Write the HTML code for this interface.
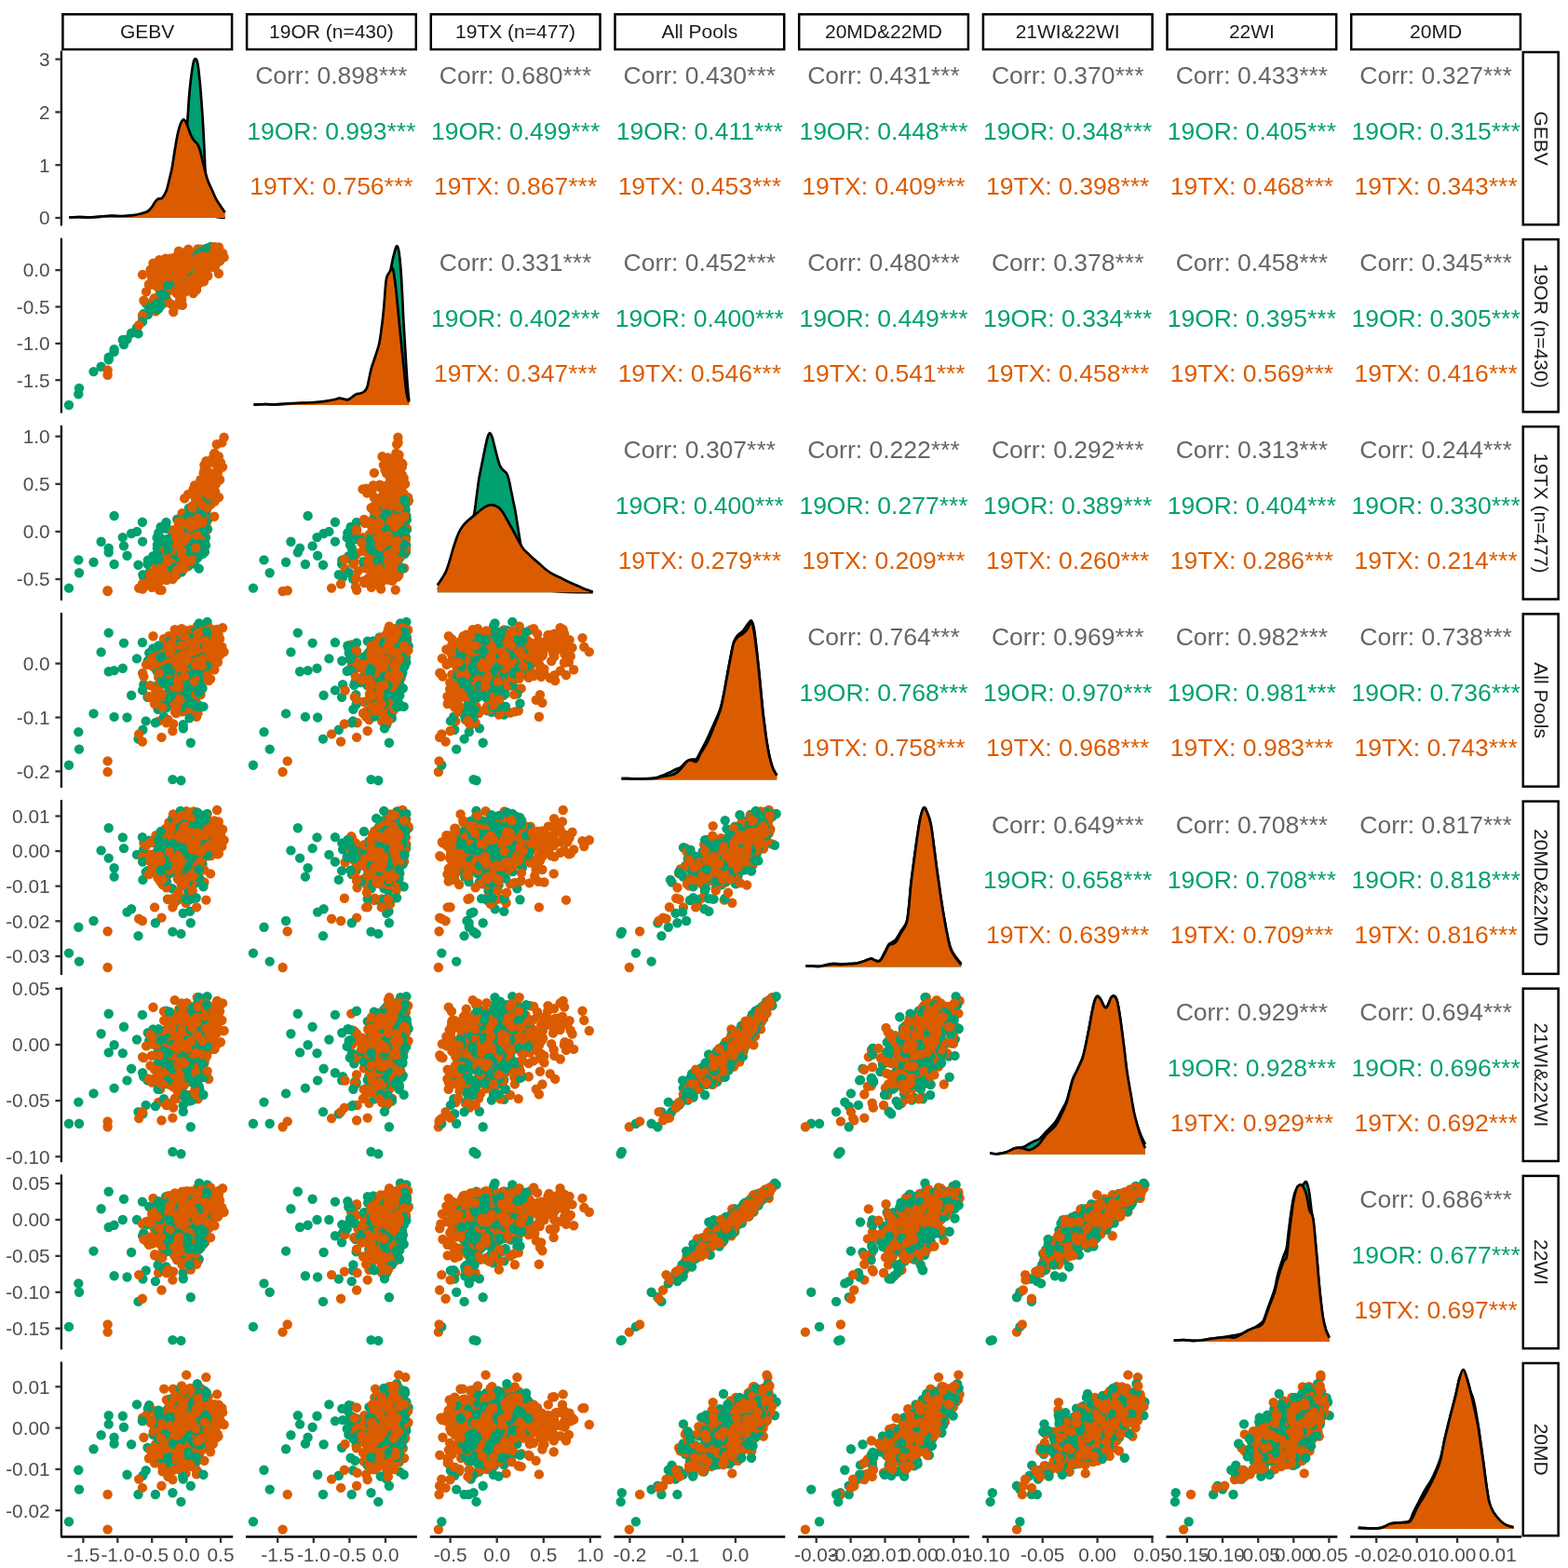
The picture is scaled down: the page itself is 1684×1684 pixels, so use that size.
<!DOCTYPE html><html><head><meta charset="utf-8"><title>ggpairs</title><style>html,body{margin:0;padding:0;background:#fff;}svg{display:block;}text{font-family:"Liberation Sans",Arial,Helvetica,sans-serif;}</style></head><body>
<svg width="1684" height="1684" viewBox="0 0 1684 1684">
<rect width="1684" height="1684" fill="#fff"/>
<g fill="none" stroke="#000" stroke-width="2.5">
<rect x="67.4" y="15.35" width="181.7" height="37.7"/>
<rect x="265.1" y="15.35" width="181.7" height="37.7"/>
<rect x="462.8" y="15.35" width="181.7" height="37.7"/>
<rect x="660.5" y="15.35" width="181.7" height="37.7"/>
<rect x="858.2" y="15.35" width="181.7" height="37.7"/>
<rect x="1055.9" y="15.35" width="181.7" height="37.7"/>
<rect x="1253.5" y="15.35" width="181.7" height="37.7"/>
<rect x="1451.2" y="15.35" width="181.7" height="37.7"/>
<rect x="1635.75" y="56" width="37.9" height="185.3"/>
<rect x="1635.75" y="257.1" width="37.9" height="185.3"/>
<rect x="1635.75" y="458.2" width="37.9" height="185.3"/>
<rect x="1635.75" y="659.4" width="37.9" height="185.3"/>
<rect x="1635.75" y="860.6" width="37.9" height="185.3"/>
<rect x="1635.75" y="1061.7" width="37.9" height="185.3"/>
<rect x="1635.75" y="1262.9" width="37.9" height="185.3"/>
<rect x="1635.75" y="1464" width="37.9" height="185.3"/>
</g>
<g font-size="21" fill="#1A1A1A" text-anchor="middle">
<text x="158.2" y="41.4">GEBV</text>
<text x="355.9" y="41.4">19OR (n=430)</text>
<text x="553.6" y="41.4">19TX (n=477)</text>
<text x="751.3" y="41.4">All Pools</text>
<text x="949" y="41.4">20MD&amp;22MD</text>
<text x="1146.7" y="41.4">21WI&amp;22WI</text>
<text x="1344.4" y="41.4">22WI</text>
<text x="1542.1" y="41.4">20MD</text>
<text transform="translate(1647.9 148.6) rotate(90)">GEBV</text>
<text transform="translate(1647.9 349.8) rotate(90)">19OR (n=430)</text>
<text transform="translate(1647.9 550.9) rotate(90)">19TX (n=477)</text>
<text transform="translate(1647.9 752.1) rotate(90)">All Pools</text>
<text transform="translate(1647.9 953.2) rotate(90)">20MD&amp;22MD</text>
<text transform="translate(1647.9 1154.4) rotate(90)">21WI&amp;22WI</text>
<text transform="translate(1647.9 1355.5) rotate(90)">22WI</text>
<text transform="translate(1647.9 1556.7) rotate(90)">20MD</text>
</g>
<path d="M74.3 233.5C76.1 233.4 81.5 233 85 233C88.5 233 91.9 233.4 95.6 233.4C99.3 233.4 103 233 107 232.8C111 232.6 115.4 232.2 119.4 232.2C123.4 232.1 127 232.5 131 232.5C134.9 232.5 139.8 232.2 143.1 232C146.4 231.8 148.4 231.4 151 231C153.6 230.6 156.6 230.2 158.6 229.5C160.6 228.8 161.6 227.9 163 227C164.4 226.1 165.7 225 166.9 224C168.2 223 169.3 222 170.5 221C171.7 220 172.4 219.7 174 218C175.6 216.3 178 213.8 180 211C182 208.2 184 205.2 186 201C188 196.8 190.2 191.5 192 186C193.8 180.5 195.2 174 196.5 168C197.8 162 198.7 156.2 199.5 150C200.3 143.8 200.7 138.3 201.3 130.8C201.9 123.3 202.4 112.5 203 105C203.6 97.5 204.2 91.8 204.9 85.6C205.7 79.4 206.7 71.8 207.5 68C208.3 64.2 209.1 63.1 209.9 63.1C210.7 63.1 211.6 64.2 212.3 68C213.1 71.8 213.7 78.9 214.4 85.6C215.1 92.3 215.7 100.1 216.3 108C216.9 115.9 217.5 124.8 218 133.1C218.5 141.4 218.9 150.1 219.3 158C219.7 165.9 219.9 173.6 220.3 180.6C220.8 187.6 221.4 194.3 222 200C222.6 205.7 223.2 210.5 224 215C224.8 219.5 225.8 224.1 227 227C228.2 229.9 229.5 231.4 231 232.5C232.5 233.6 234.2 233.3 236 233.5C237.8 233.7 240.8 233.8 241.7 233.9L241.7 234L74.3 234Z" fill="#00A070"/>
<path d="M74.3 233.5C76.1 233.4 81.5 233 85 233C88.5 233 91.9 233.4 95.6 233.4C99.3 233.4 103 233 107 232.8C111 232.6 115.4 232.2 119.4 232.2C123.4 232.1 127 232.5 131 232.5C134.9 232.5 139.8 232.2 143.1 232C146.4 231.8 148.4 231.4 151 231C153.6 230.6 156.6 230.2 158.6 229.5C160.6 228.8 161.6 227.9 163 227C164.4 226.1 165.7 225 166.9 224C168.2 223 169.3 222 170.5 221C171.7 220 172.4 219.7 174 218C175.6 216.3 178 213.8 180 211C182 208.2 184 205.2 186 201C188 196.8 190.2 191.5 192 186C193.8 180.5 195.2 174 196.5 168C197.8 162 198.7 156.2 199.5 150C200.3 143.8 200.7 138.3 201.3 130.8C201.9 123.3 202.4 112.5 203 105C203.6 97.5 204.2 91.8 204.9 85.6C205.7 79.4 206.7 71.8 207.5 68C208.3 64.2 209.1 63.1 209.9 63.1C210.7 63.1 211.6 64.2 212.3 68C213.1 71.8 213.7 78.9 214.4 85.6C215.1 92.3 215.7 100.1 216.3 108C216.9 115.9 217.5 124.8 218 133.1C218.5 141.4 218.9 150.1 219.3 158C219.7 165.9 219.9 173.6 220.3 180.6C220.8 187.6 221.4 194.3 222 200C222.6 205.7 223.2 210.5 224 215C224.8 219.5 225.8 224.1 227 227C228.2 229.9 229.5 231.4 231 232.5C232.5 233.6 234.2 233.3 236 233.5C237.8 233.7 240.8 233.8 241.7 233.9" fill="none" stroke="#000" stroke-width="2.7" stroke-linejoin="round"/>
<path d="M74.3 233.5C76.1 233.4 81.5 233.2 85 233.2C88.5 233.2 91.9 233.6 95.6 233.5C99.3 233.4 103 232.9 107 232.6C111 232.3 115.4 231.8 119.4 231.7C123.4 231.6 127 232.1 131 232C134.9 231.9 139.8 231.5 143.1 231.1C146.4 230.7 148.4 230.2 151 229.5C153.6 228.8 156.6 228.2 158.6 227C160.6 225.8 161.6 224.3 163 222.5C164.4 220.7 165.7 217.8 166.9 216.3C168.1 214.8 168.8 214.1 170 213.5C171.2 212.9 172.5 214.2 174 212.7C175.5 211.2 177.5 207.7 178.8 204.4C180.1 201.1 180.8 197 181.8 193C182.8 189 183.7 185.8 184.7 180.6C185.7 175.4 186.6 167.9 187.6 162C188.6 156.1 189.6 149.7 190.6 145C191.6 140.3 192.4 136.8 193.5 134C194.6 131.2 196 128.6 197.2 128.4C198.4 128.2 199.2 130.2 200.5 133C201.8 135.8 203.6 142 204.9 145C206.2 148 207.3 149.4 208.5 151C209.7 152.6 210.9 152.7 212 154.5C213.1 156.3 214 158.6 215 162C216 165.4 216.7 169.6 218 174.7C219.3 179.8 221.1 187.7 222.7 192.5C224.3 197.3 225.9 199.9 227.5 203.5C229.1 207.1 230.6 210.9 232.2 213.9C233.8 216.9 235.4 219.1 237 221.5C238.6 223.9 240.9 227 241.7 228.1L241.7 234L74.3 234Z" fill="#DB5C00"/>
<path d="M74.3 233.5C76.1 233.4 81.5 233.2 85 233.2C88.5 233.2 91.9 233.6 95.6 233.5C99.3 233.4 103 232.9 107 232.6C111 232.3 115.4 231.8 119.4 231.7C123.4 231.6 127 232.1 131 232C134.9 231.9 139.8 231.5 143.1 231.1C146.4 230.7 148.4 230.2 151 229.5C153.6 228.8 156.6 228.2 158.6 227C160.6 225.8 161.6 224.3 163 222.5C164.4 220.7 165.7 217.8 166.9 216.3C168.1 214.8 168.8 214.1 170 213.5C171.2 212.9 172.5 214.2 174 212.7C175.5 211.2 177.5 207.7 178.8 204.4C180.1 201.1 180.8 197 181.8 193C182.8 189 183.7 185.8 184.7 180.6C185.7 175.4 186.6 167.9 187.6 162C188.6 156.1 189.6 149.7 190.6 145C191.6 140.3 192.4 136.8 193.5 134C194.6 131.2 196 128.6 197.2 128.4C198.4 128.2 199.2 130.2 200.5 133C201.8 135.8 203.6 142 204.9 145C206.2 148 207.3 149.4 208.5 151C209.7 152.6 210.9 152.7 212 154.5C213.1 156.3 214 158.6 215 162C216 165.4 216.7 169.6 218 174.7C219.3 179.8 221.1 187.7 222.7 192.5C224.3 197.3 225.9 199.9 227.5 203.5C229.1 207.1 230.6 210.9 232.2 213.9C233.8 216.9 235.4 219.1 237 221.5C238.6 223.9 240.9 227 241.7 228.1" fill="none" stroke="#000" stroke-width="2.7" stroke-linejoin="round"/>
<path d="M272.5 434.7C274.4 434.6 280.1 434 284 434C287.9 434 291.8 434.5 295.6 434.5C299.4 434.5 303 434 307 433.8C311 433.6 315.4 433.4 319.4 433.3C323.4 433.2 327.1 433.1 331 433C334.9 432.9 339.8 432.6 343.1 432.4C346.4 432.1 348.4 431.8 351 431.5C353.6 431.2 356.1 430.8 358.6 430.5C361.1 430.2 363.4 429.8 366 429.5C368.6 429.2 371.3 429.5 374 429C376.7 428.5 379.5 427.2 382.3 426.5C385.1 425.8 388.3 425.6 390.6 424.5C392.9 423.4 394.3 422.4 396 420C397.7 417.6 399.3 414.2 401 410C402.7 405.8 404.5 400.8 406 395C407.5 389.2 408.7 384.2 410 375C411.3 365.8 412.7 352.5 414 340C415.3 327.5 416.8 310 418 300C419.2 290 420.5 285 421.5 280C422.5 275 423.2 272.8 423.9 270.2C424.6 267.6 425.2 264.7 425.9 264.3C426.6 263.9 427.4 265.4 428 268C428.6 270.6 429.1 275.1 429.6 280C430.1 284.9 430.6 290.8 431 297.5C431.4 304.2 431.8 312.1 432.2 320C432.6 327.9 432.9 335.8 433.4 345C433.9 354.2 434.6 365.1 435.2 375C435.8 384.9 436.5 396.9 437 404.4C437.5 411.9 437.8 415.6 438.2 420C438.6 424.4 439.1 428.8 439.3 430.5L439.3 435.1L272.5 435.1Z" fill="#00A070"/>
<path d="M272.5 434.7C274.4 434.6 280.1 434 284 434C287.9 434 291.8 434.5 295.6 434.5C299.4 434.5 303 434 307 433.8C311 433.6 315.4 433.4 319.4 433.3C323.4 433.2 327.1 433.1 331 433C334.9 432.9 339.8 432.6 343.1 432.4C346.4 432.1 348.4 431.8 351 431.5C353.6 431.2 356.1 430.8 358.6 430.5C361.1 430.2 363.4 429.8 366 429.5C368.6 429.2 371.3 429.5 374 429C376.7 428.5 379.5 427.2 382.3 426.5C385.1 425.8 388.3 425.6 390.6 424.5C392.9 423.4 394.3 422.4 396 420C397.7 417.6 399.3 414.2 401 410C402.7 405.8 404.5 400.8 406 395C407.5 389.2 408.7 384.2 410 375C411.3 365.8 412.7 352.5 414 340C415.3 327.5 416.8 310 418 300C419.2 290 420.5 285 421.5 280C422.5 275 423.2 272.8 423.9 270.2C424.6 267.6 425.2 264.7 425.9 264.3C426.6 263.9 427.4 265.4 428 268C428.6 270.6 429.1 275.1 429.6 280C430.1 284.9 430.6 290.8 431 297.5C431.4 304.2 431.8 312.1 432.2 320C432.6 327.9 432.9 335.8 433.4 345C433.9 354.2 434.6 365.1 435.2 375C435.8 384.9 436.5 396.9 437 404.4C437.5 411.9 437.8 415.6 438.2 420C438.6 424.4 439.1 428.8 439.3 430.5" fill="none" stroke="#000" stroke-width="2.7" stroke-linejoin="round"/>
<path d="M272.5 434.7C274.4 434.6 280.1 434.2 284 434.2C287.9 434.1 291.8 434.5 295.6 434.4C299.4 434.3 303 433.8 307 433.5C311 433.2 315.4 433.1 319.4 432.9C323.4 432.7 327.1 432.7 331 432.5C334.9 432.3 339.8 432 343.1 431.7C346.4 431.4 348.4 431 351 430.6C353.6 430.2 356.4 429.8 358.6 429.3C360.9 428.8 362.8 427.7 364.5 427.6C366.2 427.5 367.4 428.2 369 428.5C370.6 428.8 372.5 429.6 374 429.3C375.5 429 376.6 427.5 378 426.5C379.4 425.5 380.9 424.1 382.3 423.4C383.7 422.7 385.1 422.9 386.5 422.5C387.9 422.1 389.3 422 390.6 421C391.9 420 393.2 418.8 394.2 416.3C395.2 413.8 395.7 409.6 396.5 406C397.3 402.4 397.9 398.7 399 394.9C400.1 391.1 401.6 387.4 403 383C404.4 378.6 406.2 374 407.3 368.8C408.4 363.6 409 357.9 409.8 352C410.6 346.1 411.2 341.2 412 333.1C412.8 325 413.7 309.6 414.4 303.4C415.1 297.2 415.4 297.8 416 296C416.6 294.2 417.1 294.1 418 292.8C418.9 291.5 420.6 287.5 421.5 288C422.4 288.5 422.7 292.4 423.3 296C423.9 299.6 424.5 304.4 425.1 309.4C425.7 314.4 426.2 320.1 426.8 326C427.4 331.9 428 338.8 428.6 345C429.2 351.2 429.8 357.1 430.4 363C431 368.9 431.6 374.8 432.2 380.6C432.8 386.4 433.4 392.1 434 398C434.6 403.9 435.2 411.6 435.8 416.3C436.4 421.1 436.9 423.9 437.5 426.5C438.1 429.1 439 430.8 439.3 431.7L439.3 435.1L272.5 435.1Z" fill="#DB5C00"/>
<path d="M272.5 434.7C274.4 434.6 280.1 434.2 284 434.2C287.9 434.1 291.8 434.5 295.6 434.4C299.4 434.3 303 433.8 307 433.5C311 433.2 315.4 433.1 319.4 432.9C323.4 432.7 327.1 432.7 331 432.5C334.9 432.3 339.8 432 343.1 431.7C346.4 431.4 348.4 431 351 430.6C353.6 430.2 356.4 429.8 358.6 429.3C360.9 428.8 362.8 427.7 364.5 427.6C366.2 427.5 367.4 428.2 369 428.5C370.6 428.8 372.5 429.6 374 429.3C375.5 429 376.6 427.5 378 426.5C379.4 425.5 380.9 424.1 382.3 423.4C383.7 422.7 385.1 422.9 386.5 422.5C387.9 422.1 389.3 422 390.6 421C391.9 420 393.2 418.8 394.2 416.3C395.2 413.8 395.7 409.6 396.5 406C397.3 402.4 397.9 398.7 399 394.9C400.1 391.1 401.6 387.4 403 383C404.4 378.6 406.2 374 407.3 368.8C408.4 363.6 409 357.9 409.8 352C410.6 346.1 411.2 341.2 412 333.1C412.8 325 413.7 309.6 414.4 303.4C415.1 297.2 415.4 297.8 416 296C416.6 294.2 417.1 294.1 418 292.8C418.9 291.5 420.6 287.5 421.5 288C422.4 288.5 422.7 292.4 423.3 296C423.9 299.6 424.5 304.4 425.1 309.4C425.7 314.4 426.2 320.1 426.8 326C427.4 331.9 428 338.8 428.6 345C429.2 351.2 429.8 357.1 430.4 363C431 368.9 431.6 374.8 432.2 380.6C432.8 386.4 433.4 392.1 434 398C434.6 403.9 435.2 411.6 435.8 416.3C436.4 421.1 436.9 423.9 437.5 426.5C438.1 429.1 439 430.8 439.3 431.7" fill="none" stroke="#000" stroke-width="2.7" stroke-linejoin="round"/>
<path d="M469.8 633C470.6 632.7 473 631.8 474.5 631C476 630.2 477.2 629.5 478.8 628C480.4 626.5 482.1 624.3 484 622C485.9 619.7 488.2 617.2 490 614C491.8 610.8 493.3 607.3 495 603C496.7 598.7 498.5 593.2 500 588C501.5 582.8 502.8 576.7 504 572C505.2 567.3 506.1 563.7 507 560C507.9 556.3 508.8 554.7 509.6 550C510.4 545.3 511.2 537.9 512 532C512.8 526.1 513.4 520.4 514.4 514.4C515.4 508.4 516.8 501.9 518 496C519.2 490.1 520.5 483.3 521.5 478.8C522.5 474.3 523 471.3 523.8 469C524.5 466.7 525.2 465.1 526 465.1C526.8 465.1 527.6 466.7 528.4 469C529.2 471.3 530.1 475.3 531 478.8C531.9 482.3 532.8 486.4 533.8 490C534.8 493.6 535.8 497.6 536.9 500.1C538 502.6 539.3 503.6 540.5 505C541.7 506.4 543.1 506.7 544.1 508.4C545.1 510.1 545.7 512 546.5 515C547.3 518 548 522.5 548.8 526.3C549.6 530.1 550.4 534 551.2 538C552 542 552.8 545.5 553.6 550C554.4 554.5 555.2 560 556 565C556.8 570 557.5 574.7 558.3 579.7C559.1 584.7 559.9 590 561 595C562.1 600 563.5 605.7 565 610C566.5 614.3 568.2 618 570 621C571.8 624 573.7 626.1 576 628C578.3 629.9 580.8 631.3 584 632.5C587.2 633.7 590.7 634.4 595 635C599.3 635.6 603 635.8 610 636C617 636.2 632.2 636.2 636.7 636.2L636.7 636.3L469.8 636.3Z" fill="#00A070"/>
<path d="M469.8 633C470.6 632.7 473 631.8 474.5 631C476 630.2 477.2 629.5 478.8 628C480.4 626.5 482.1 624.3 484 622C485.9 619.7 488.2 617.2 490 614C491.8 610.8 493.3 607.3 495 603C496.7 598.7 498.5 593.2 500 588C501.5 582.8 502.8 576.7 504 572C505.2 567.3 506.1 563.7 507 560C507.9 556.3 508.8 554.7 509.6 550C510.4 545.3 511.2 537.9 512 532C512.8 526.1 513.4 520.4 514.4 514.4C515.4 508.4 516.8 501.9 518 496C519.2 490.1 520.5 483.3 521.5 478.8C522.5 474.3 523 471.3 523.8 469C524.5 466.7 525.2 465.1 526 465.1C526.8 465.1 527.6 466.7 528.4 469C529.2 471.3 530.1 475.3 531 478.8C531.9 482.3 532.8 486.4 533.8 490C534.8 493.6 535.8 497.6 536.9 500.1C538 502.6 539.3 503.6 540.5 505C541.7 506.4 543.1 506.7 544.1 508.4C545.1 510.1 545.7 512 546.5 515C547.3 518 548 522.5 548.8 526.3C549.6 530.1 550.4 534 551.2 538C552 542 552.8 545.5 553.6 550C554.4 554.5 555.2 560 556 565C556.8 570 557.5 574.7 558.3 579.7C559.1 584.7 559.9 590 561 595C562.1 600 563.5 605.7 565 610C566.5 614.3 568.2 618 570 621C571.8 624 573.7 626.1 576 628C578.3 629.9 580.8 631.3 584 632.5C587.2 633.7 590.7 634.4 595 635C599.3 635.6 603 635.8 610 636C617 636.2 632.2 636.2 636.7 636.2" fill="none" stroke="#000" stroke-width="2.7" stroke-linejoin="round"/>
<path d="M469.8 628.4C470.6 627.2 473 623.9 474.5 621.5C476 619.1 477.5 617.1 478.8 614.1C480.1 611.1 481.3 607.2 482.5 603.5C483.7 599.8 484.9 594.9 485.9 591.6C486.9 588.4 487.5 586.4 488.3 584C489.1 581.6 489.7 579.5 490.6 577.3C491.5 575 492.5 572.5 493.5 570.5C494.5 568.5 495.4 567.1 496.6 565.5C497.8 563.9 499.1 562.4 500.5 561C501.9 559.6 503 558.7 504.9 557.1C506.8 555.5 510.1 552.8 512 551.2C513.9 549.6 514.9 548.7 516.5 547.5C518.1 546.3 520.1 544.9 521.5 544.1C522.9 543.3 523.8 542.9 525 542.6C526.2 542.3 527.4 542.2 528.6 542.3C529.8 542.4 530.8 542.7 532 543.2C533.2 543.7 534.4 544 535.8 545.3C537.2 546.6 538.9 548.6 540.5 551C542.1 553.4 543.4 556.1 545.3 559.5C547.2 562.9 549.8 567.5 552 571.5C554.2 575.5 556.5 580.2 558.3 583.3C560 586.4 560.9 588 562.5 590C564.1 592 566 593.4 567.8 595.1C569.6 596.9 571.5 598.7 573.5 600.5C575.5 602.3 577.7 604 579.7 605.8C581.7 607.5 583.5 609.4 585.5 611C587.5 612.6 589.6 614 591.6 615.3C593.6 616.5 595.5 617.5 597.5 618.5C599.5 619.5 601.1 620.1 603.5 621.3C605.9 622.5 609 624.1 612 625.5C615 626.9 618.5 628.4 621.3 629.6C624 630.8 625.9 631.8 628.5 632.8C631.1 633.8 635.3 635 636.7 635.5L636.7 636.3L469.8 636.3Z" fill="#DB5C00"/>
<path d="M469.8 628.4C470.6 627.2 473 623.9 474.5 621.5C476 619.1 477.5 617.1 478.8 614.1C480.1 611.1 481.3 607.2 482.5 603.5C483.7 599.8 484.9 594.9 485.9 591.6C486.9 588.4 487.5 586.4 488.3 584C489.1 581.6 489.7 579.5 490.6 577.3C491.5 575 492.5 572.5 493.5 570.5C494.5 568.5 495.4 567.1 496.6 565.5C497.8 563.9 499.1 562.4 500.5 561C501.9 559.6 503 558.7 504.9 557.1C506.8 555.5 510.1 552.8 512 551.2C513.9 549.6 514.9 548.7 516.5 547.5C518.1 546.3 520.1 544.9 521.5 544.1C522.9 543.3 523.8 542.9 525 542.6C526.2 542.3 527.4 542.2 528.6 542.3C529.8 542.4 530.8 542.7 532 543.2C533.2 543.7 534.4 544 535.8 545.3C537.2 546.6 538.9 548.6 540.5 551C542.1 553.4 543.4 556.1 545.3 559.5C547.2 562.9 549.8 567.5 552 571.5C554.2 575.5 556.5 580.2 558.3 583.3C560 586.4 560.9 588 562.5 590C564.1 592 566 593.4 567.8 595.1C569.6 596.9 571.5 598.7 573.5 600.5C575.5 602.3 577.7 604 579.7 605.8C581.7 607.5 583.5 609.4 585.5 611C587.5 612.6 589.6 614 591.6 615.3C593.6 616.5 595.5 617.5 597.5 618.5C599.5 619.5 601.1 620.1 603.5 621.3C605.9 622.5 609 624.1 612 625.5C615 626.9 618.5 628.4 621.3 629.6C624 630.8 625.9 631.8 628.5 632.8C631.1 633.8 635.3 635 636.7 635.5" fill="none" stroke="#000" stroke-width="2.7" stroke-linejoin="round"/>
<path d="M667.5 836.1C670.4 836.1 679.2 836.5 685 836.4C690.8 836.3 698.3 836.1 702.5 835.6C706.7 835.1 707.4 834.3 710 833.4C712.6 832.5 715.5 831.1 718 830C720.5 828.9 722.8 827.5 725 826.5C727.2 825.5 729 825.4 731 824C733 822.6 735.4 819.3 737 818C738.6 816.7 739.3 816.4 740.5 816C741.7 815.6 742.8 815.7 744 815.5C745.2 815.3 746.7 816.2 748 815C749.3 813.8 750.1 811.6 752 808C753.9 804.4 757.1 798.5 759.5 793.5C761.9 788.5 764.1 783.5 766.5 778C768.9 772.5 772 766.2 773.8 760.5C775.6 754.8 776.3 749.8 777.5 744C778.7 738.2 779.7 731.8 780.9 725.5C782.1 719.2 783.3 712 784.5 706C785.7 700 786.7 693.6 788 689.6C789.3 685.6 790.9 683.9 792.5 682C794.1 680.1 795.8 679.8 797.5 678C799.2 676.2 800.9 672.9 802.5 671C804.1 669.1 805.8 665.7 807 666.5C808.2 667.3 809 670.3 810 676C811 681.7 812 691.7 813 700.5C814 709.3 815 718.9 816 729C817 739.1 818.1 752.5 819 761C819.9 769.5 820.5 774 821.3 780C822.1 786 822.7 791.6 823.6 797C824.5 802.4 825.4 807.8 826.5 812.5C827.6 817.2 828.7 821.7 830 825C831.3 828.3 833.6 831.2 834.3 832.5L834.3 837.4L667.5 837.4Z" fill="#00A070"/>
<path d="M667.5 836.1C670.4 836.1 679.2 836.5 685 836.4C690.8 836.3 698.3 836.1 702.5 835.6C706.7 835.1 707.4 834.3 710 833.4C712.6 832.5 715.5 831.1 718 830C720.5 828.9 722.8 827.5 725 826.5C727.2 825.5 729 825.4 731 824C733 822.6 735.4 819.3 737 818C738.6 816.7 739.3 816.4 740.5 816C741.7 815.6 742.8 815.7 744 815.5C745.2 815.3 746.7 816.2 748 815C749.3 813.8 750.1 811.6 752 808C753.9 804.4 757.1 798.5 759.5 793.5C761.9 788.5 764.1 783.5 766.5 778C768.9 772.5 772 766.2 773.8 760.5C775.6 754.8 776.3 749.8 777.5 744C778.7 738.2 779.7 731.8 780.9 725.5C782.1 719.2 783.3 712 784.5 706C785.7 700 786.7 693.6 788 689.6C789.3 685.6 790.9 683.9 792.5 682C794.1 680.1 795.8 679.8 797.5 678C799.2 676.2 800.9 672.9 802.5 671C804.1 669.1 805.8 665.7 807 666.5C808.2 667.3 809 670.3 810 676C811 681.7 812 691.7 813 700.5C814 709.3 815 718.9 816 729C817 739.1 818.1 752.5 819 761C819.9 769.5 820.5 774 821.3 780C822.1 786 822.7 791.6 823.6 797C824.5 802.4 825.4 807.8 826.5 812.5C827.6 817.2 828.7 821.7 830 825C831.3 828.3 833.6 831.2 834.3 832.5" fill="none" stroke="#000" stroke-width="2.7" stroke-linejoin="round"/>
<path d="M667.5 836.1C670.4 836.1 679.2 836.4 685 836.4C690.8 836.4 698.3 836.4 702.5 836C706.7 835.6 707.4 834.7 710 834.2C712.6 833.7 715.5 833.5 718 833C720.5 832.5 722.8 832.2 725 831C727.2 829.8 729 828.1 731 826C733 823.9 735.4 820.1 737 818.5C738.6 816.9 739.3 816.8 740.5 816.5C741.7 816.2 742.8 816.8 744 817C745.2 817.2 746.7 819 748 817.8C749.3 816.6 750.1 813.4 752 810C753.9 806.6 757.1 802.3 759.5 797.5C761.9 792.7 764.1 786.9 766.5 781C768.9 775.1 772 767.9 773.8 761.9C775.6 755.9 776.3 750.9 777.5 745C778.7 739.1 779.7 732.6 780.9 726.3C782.1 720 783.3 713 784.5 707C785.7 701 786.7 694.4 788 690.6C789.3 686.8 790.9 685.6 792.5 684C794.1 682.4 795.8 682.3 797.5 681C799.2 679.7 800.9 678.2 802.5 676C804.1 673.8 805.8 667.3 807 668C808.2 668.7 809 674.2 810 680C811 685.8 812 694 813 702.5C814 711 815 721.1 816 731C817 740.9 818.1 753.7 819 762C819.9 770.3 820.5 775.1 821.3 781C822.1 786.9 822.7 792.2 823.6 797.5C824.5 802.8 825.4 808.4 826.5 813C827.6 817.6 828.7 821.7 830 825C831.3 828.3 833.6 831.7 834.3 833L834.3 837.4L667.5 837.4Z" fill="#DB5C00"/>
<path d="M667.5 836.1C670.4 836.1 679.2 836.4 685 836.4C690.8 836.4 698.3 836.4 702.5 836C706.7 835.6 707.4 834.7 710 834.2C712.6 833.7 715.5 833.5 718 833C720.5 832.5 722.8 832.2 725 831C727.2 829.8 729 828.1 731 826C733 823.9 735.4 820.1 737 818.5C738.6 816.9 739.3 816.8 740.5 816.5C741.7 816.2 742.8 816.8 744 817C745.2 817.2 746.7 819 748 817.8C749.3 816.6 750.1 813.4 752 810C753.9 806.6 757.1 802.3 759.5 797.5C761.9 792.7 764.1 786.9 766.5 781C768.9 775.1 772 767.9 773.8 761.9C775.6 755.9 776.3 750.9 777.5 745C778.7 739.1 779.7 732.6 780.9 726.3C782.1 720 783.3 713 784.5 707C785.7 701 786.7 694.4 788 690.6C789.3 686.8 790.9 685.6 792.5 684C794.1 682.4 795.8 682.3 797.5 681C799.2 679.7 800.9 678.2 802.5 676C804.1 673.8 805.8 667.3 807 668C808.2 668.7 809 674.2 810 680C811 685.8 812 694 813 702.5C814 711 815 721.1 816 731C817 740.9 818.1 753.7 819 762C819.9 770.3 820.5 775.1 821.3 781C822.1 786.9 822.7 792.2 823.6 797.5C824.5 802.8 825.4 808.4 826.5 813C827.6 817.6 828.7 821.7 830 825C831.3 828.3 833.6 831.7 834.3 833" fill="none" stroke="#000" stroke-width="2.7" stroke-linejoin="round"/>
<path d="M865.4 1037.3C866.5 1037.3 869.6 1037.5 872 1037.6C874.4 1037.7 877.3 1038.1 880 1037.8C882.7 1037.5 885.5 1036.5 888 1036C890.5 1035.5 892.6 1034.9 895.1 1034.8C897.6 1034.7 900.2 1035.2 903 1035.3C905.8 1035.4 909.2 1035.3 912 1035.2C914.8 1035.1 917.3 1035.1 920 1034.6C922.7 1034.1 925.4 1033 928 1032.2C930.6 1031.4 933.5 1029.7 935.5 1029.6C937.5 1029.5 938.4 1031.2 940 1031.5C941.6 1031.8 943.3 1032.9 945 1031.5C946.7 1030.1 948.4 1025.9 950 1023C951.6 1020.1 953.2 1016.1 954.5 1014.3C955.8 1012.5 956.8 1012.9 958 1012C959.2 1011.1 960.5 1010.8 962 1009C963.5 1007.2 965.1 1004.1 967 1001C968.9 997.9 972 994.9 973.5 990.6C975 986.3 975.2 981.8 976 975C976.8 968.2 977.4 958.3 978.3 950C979.2 941.7 980.3 933.9 981.5 925C982.7 916.1 984.2 904.4 985.4 896.6C986.6 888.8 987.4 882.9 988.5 878C989.6 873.1 991 868.5 992.2 867.5C993.4 866.5 994.3 869.1 995.5 872C996.7 874.9 998.4 878.5 999.6 884.7C1000.9 890.9 1001.8 900.1 1003 909C1004.2 917.9 1005.1 926.3 1006.8 938.1C1008.5 949.9 1010.8 967.3 1013 980C1015.2 992.7 1017.8 1006.7 1019.8 1014.3C1021.8 1021.9 1022.9 1022 1025 1025.5C1027.1 1029 1031.1 1033.5 1032.3 1035.1L1032.3 1038.6L865.4 1038.6Z" fill="#00A070"/>
<path d="M865.4 1037.3C866.5 1037.3 869.6 1037.5 872 1037.6C874.4 1037.7 877.3 1038.1 880 1037.8C882.7 1037.5 885.5 1036.5 888 1036C890.5 1035.5 892.6 1034.9 895.1 1034.8C897.6 1034.7 900.2 1035.2 903 1035.3C905.8 1035.4 909.2 1035.3 912 1035.2C914.8 1035.1 917.3 1035.1 920 1034.6C922.7 1034.1 925.4 1033 928 1032.2C930.6 1031.4 933.5 1029.7 935.5 1029.6C937.5 1029.5 938.4 1031.2 940 1031.5C941.6 1031.8 943.3 1032.9 945 1031.5C946.7 1030.1 948.4 1025.9 950 1023C951.6 1020.1 953.2 1016.1 954.5 1014.3C955.8 1012.5 956.8 1012.9 958 1012C959.2 1011.1 960.5 1010.8 962 1009C963.5 1007.2 965.1 1004.1 967 1001C968.9 997.9 972 994.9 973.5 990.6C975 986.3 975.2 981.8 976 975C976.8 968.2 977.4 958.3 978.3 950C979.2 941.7 980.3 933.9 981.5 925C982.7 916.1 984.2 904.4 985.4 896.6C986.6 888.8 987.4 882.9 988.5 878C989.6 873.1 991 868.5 992.2 867.5C993.4 866.5 994.3 869.1 995.5 872C996.7 874.9 998.4 878.5 999.6 884.7C1000.9 890.9 1001.8 900.1 1003 909C1004.2 917.9 1005.1 926.3 1006.8 938.1C1008.5 949.9 1010.8 967.3 1013 980C1015.2 992.7 1017.8 1006.7 1019.8 1014.3C1021.8 1021.9 1022.9 1022 1025 1025.5C1027.1 1029 1031.1 1033.5 1032.3 1035.1" fill="none" stroke="#000" stroke-width="2.7" stroke-linejoin="round"/>
<path d="M865.4 1037.3C866.5 1037.3 869.6 1037.5 872 1037.6C874.4 1037.7 877.3 1038 880 1037.8C882.7 1037.6 885.5 1036.8 888 1036.4C890.5 1036 892.6 1035.6 895.1 1035.5C897.6 1035.4 900.2 1035.8 903 1035.8C905.8 1035.8 909.2 1035.4 912 1035.2C914.8 1035 917.3 1035.1 920 1034.6C922.7 1034.1 925.4 1033 928 1032.2C930.6 1031.4 933.5 1029.7 935.5 1029.6C937.5 1029.5 938.4 1031.1 940 1031.5C941.6 1031.9 943.3 1033.2 945 1032C946.7 1030.8 948.4 1026.8 950 1024C951.6 1021.2 953.2 1017 954.5 1015.3C955.8 1013.6 956.8 1014.5 958 1014C959.2 1013.5 960.5 1013.8 962 1012C963.5 1010.2 965.1 1006.4 967 1003C968.9 999.6 972 996.3 973.5 991.6C975 986.9 975.2 981.9 976 975C976.8 968.1 977.4 958.3 978.3 950C979.2 941.7 980.3 933.9 981.5 925C982.7 916.1 984.2 904.4 985.4 896.6C986.6 888.8 987.4 882.9 988.5 878C989.6 873.1 991 868.5 992.2 867.5C993.4 866.5 994.3 869.1 995.5 872C996.7 874.9 998.4 878.5 999.6 884.7C1000.9 890.9 1001.8 900.1 1003 909C1004.2 917.9 1005.1 926.3 1006.8 938.1C1008.5 949.9 1010.8 967.1 1013 980C1015.2 992.9 1017.8 1007.5 1019.8 1015.3C1021.8 1023 1022.9 1023 1025 1026.5C1027.1 1030 1031.1 1034.5 1032.3 1036.1L1032.3 1038.6L865.4 1038.6Z" fill="#DB5C00"/>
<path d="M865.4 1037.3C866.5 1037.3 869.6 1037.5 872 1037.6C874.4 1037.7 877.3 1038 880 1037.8C882.7 1037.6 885.5 1036.8 888 1036.4C890.5 1036 892.6 1035.6 895.1 1035.5C897.6 1035.4 900.2 1035.8 903 1035.8C905.8 1035.8 909.2 1035.4 912 1035.2C914.8 1035 917.3 1035.1 920 1034.6C922.7 1034.1 925.4 1033 928 1032.2C930.6 1031.4 933.5 1029.7 935.5 1029.6C937.5 1029.5 938.4 1031.1 940 1031.5C941.6 1031.9 943.3 1033.2 945 1032C946.7 1030.8 948.4 1026.8 950 1024C951.6 1021.2 953.2 1017 954.5 1015.3C955.8 1013.6 956.8 1014.5 958 1014C959.2 1013.5 960.5 1013.8 962 1012C963.5 1010.2 965.1 1006.4 967 1003C968.9 999.6 972 996.3 973.5 991.6C975 986.9 975.2 981.9 976 975C976.8 968.1 977.4 958.3 978.3 950C979.2 941.7 980.3 933.9 981.5 925C982.7 916.1 984.2 904.4 985.4 896.6C986.6 888.8 987.4 882.9 988.5 878C989.6 873.1 991 868.5 992.2 867.5C993.4 866.5 994.3 869.1 995.5 872C996.7 874.9 998.4 878.5 999.6 884.7C1000.9 890.9 1001.8 900.1 1003 909C1004.2 917.9 1005.1 926.3 1006.8 938.1C1008.5 949.9 1010.8 967.1 1013 980C1015.2 992.9 1017.8 1007.5 1019.8 1015.3C1021.8 1023 1022.9 1023 1025 1026.5C1027.1 1030 1031.1 1034.5 1032.3 1036.1" fill="none" stroke="#000" stroke-width="2.7" stroke-linejoin="round"/>
<path d="M1063.1 1238.5C1064.6 1238.6 1069 1239.4 1072 1239.2C1075 1239 1078.2 1238.1 1081 1237.2C1083.8 1236.3 1086.8 1234.4 1089 1233.6C1091.2 1232.8 1092.2 1232.9 1094 1232.6C1095.8 1232.2 1098 1232.3 1100 1231.5C1102 1230.7 1104 1229.1 1106 1228C1108 1226.9 1110.2 1225.8 1112 1225C1113.8 1224.2 1114.5 1224.7 1116.5 1223C1118.5 1221.3 1121.2 1217.9 1124 1215C1126.8 1212.1 1130.6 1208.7 1133.1 1205.4C1135.6 1202.1 1137 1198.6 1139 1195C1141 1191.4 1143.4 1187.4 1145 1183.6C1146.6 1179.8 1147.3 1176.1 1148.5 1172C1149.7 1167.9 1150.7 1162.8 1152.1 1159C1153.5 1155.2 1155.2 1152.9 1157 1149C1158.8 1145.1 1161.2 1140.6 1162.8 1135.8C1164.4 1131 1165.3 1125.5 1166.5 1120C1167.7 1114.5 1168.9 1108.2 1170 1102.5C1171.1 1096.8 1172 1090.8 1173 1086C1174 1081.2 1174.9 1076.7 1175.9 1074C1176.9 1071.3 1177.8 1069.8 1178.9 1069.8C1180 1069.8 1181.4 1072.3 1182.5 1074C1183.6 1075.7 1184.4 1078.6 1185.3 1080C1186.2 1081.4 1186.9 1082.6 1187.8 1082.3C1188.7 1082 1189.5 1079.9 1190.5 1078C1191.5 1076.1 1192.5 1072.4 1193.5 1071C1194.5 1069.6 1195.7 1069.3 1196.7 1069.8C1197.7 1070.3 1198.6 1071.1 1199.5 1074C1200.4 1076.9 1201.2 1082 1202 1087C1202.8 1092 1203.5 1097.2 1204.4 1104C1205.3 1110.8 1206.3 1119.8 1207.3 1128C1208.3 1136.2 1209.1 1144.7 1210.3 1153C1211.5 1161.3 1213.1 1170.3 1214.5 1178C1215.9 1185.7 1217 1192.7 1218.6 1199C1220.2 1205.3 1222.1 1211 1224 1216C1225.9 1221 1228.9 1226.8 1229.9 1229L1229.9 1239.7L1063.1 1239.7Z" fill="#00A070"/>
<path d="M1063.1 1238.5C1064.6 1238.6 1069 1239.4 1072 1239.2C1075 1239 1078.2 1238.1 1081 1237.2C1083.8 1236.3 1086.8 1234.4 1089 1233.6C1091.2 1232.8 1092.2 1232.9 1094 1232.6C1095.8 1232.2 1098 1232.3 1100 1231.5C1102 1230.7 1104 1229.1 1106 1228C1108 1226.9 1110.2 1225.8 1112 1225C1113.8 1224.2 1114.5 1224.7 1116.5 1223C1118.5 1221.3 1121.2 1217.9 1124 1215C1126.8 1212.1 1130.6 1208.7 1133.1 1205.4C1135.6 1202.1 1137 1198.6 1139 1195C1141 1191.4 1143.4 1187.4 1145 1183.6C1146.6 1179.8 1147.3 1176.1 1148.5 1172C1149.7 1167.9 1150.7 1162.8 1152.1 1159C1153.5 1155.2 1155.2 1152.9 1157 1149C1158.8 1145.1 1161.2 1140.6 1162.8 1135.8C1164.4 1131 1165.3 1125.5 1166.5 1120C1167.7 1114.5 1168.9 1108.2 1170 1102.5C1171.1 1096.8 1172 1090.8 1173 1086C1174 1081.2 1174.9 1076.7 1175.9 1074C1176.9 1071.3 1177.8 1069.8 1178.9 1069.8C1180 1069.8 1181.4 1072.3 1182.5 1074C1183.6 1075.7 1184.4 1078.6 1185.3 1080C1186.2 1081.4 1186.9 1082.6 1187.8 1082.3C1188.7 1082 1189.5 1079.9 1190.5 1078C1191.5 1076.1 1192.5 1072.4 1193.5 1071C1194.5 1069.6 1195.7 1069.3 1196.7 1069.8C1197.7 1070.3 1198.6 1071.1 1199.5 1074C1200.4 1076.9 1201.2 1082 1202 1087C1202.8 1092 1203.5 1097.2 1204.4 1104C1205.3 1110.8 1206.3 1119.8 1207.3 1128C1208.3 1136.2 1209.1 1144.7 1210.3 1153C1211.5 1161.3 1213.1 1170.3 1214.5 1178C1215.9 1185.7 1217 1192.7 1218.6 1199C1220.2 1205.3 1222.1 1211 1224 1216C1225.9 1221 1228.9 1226.8 1229.9 1229" fill="none" stroke="#000" stroke-width="2.7" stroke-linejoin="round"/>
<path d="M1063.1 1238.5C1064.6 1238.6 1069 1239.4 1072 1239.2C1075 1239 1078.2 1238.1 1081 1237.2C1083.8 1236.3 1086.8 1234.4 1089 1233.6C1091.2 1232.8 1092.2 1232.6 1094 1232.6C1095.8 1232.6 1098 1233.4 1100 1233.8C1102 1234.2 1104 1235.3 1106 1235C1108 1234.7 1110.2 1233.2 1112 1232C1113.8 1230.8 1114.5 1230.3 1116.5 1228C1118.5 1225.7 1121.2 1221.1 1124 1218C1126.8 1214.9 1130.6 1212.6 1133.1 1209.4C1135.6 1206.2 1137 1203 1139 1199C1141 1195 1143.4 1189.9 1145 1185.6C1146.6 1181.3 1147.3 1177.3 1148.5 1173C1149.7 1168.7 1150.7 1163.5 1152.1 1159.5C1153.5 1155.5 1155.2 1153 1157 1149C1158.8 1145 1161.2 1140.6 1162.8 1135.8C1164.4 1131 1165.3 1125.5 1166.5 1120C1167.7 1114.5 1168.9 1108.2 1170 1102.5C1171.1 1096.8 1172 1090.8 1173 1086C1174 1081.2 1174.9 1076.7 1175.9 1074C1176.9 1071.3 1177.8 1069.8 1178.9 1069.8C1180 1069.8 1181.4 1072.3 1182.5 1074C1183.6 1075.7 1184.4 1078.6 1185.3 1080C1186.2 1081.4 1186.9 1082.6 1187.8 1082.3C1188.7 1082 1189.5 1079.9 1190.5 1078C1191.5 1076.1 1192.5 1072.4 1193.5 1071C1194.5 1069.6 1195.7 1069.3 1196.7 1069.8C1197.7 1070.3 1198.6 1071.3 1199.5 1074C1200.4 1076.7 1201.2 1081.2 1202 1086C1202.8 1090.8 1203.5 1096 1204.4 1102.5C1205.3 1109 1206.3 1117.1 1207.3 1125C1208.3 1132.9 1209.1 1141.7 1210.3 1150C1211.5 1158.3 1213.1 1167.1 1214.5 1175C1215.9 1182.9 1217 1190.5 1218.6 1197.5C1220.2 1204.5 1222.1 1211.1 1224 1217C1225.9 1222.9 1228.9 1230.4 1229.9 1233.1L1229.9 1239.7L1063.1 1239.7Z" fill="#DB5C00"/>
<path d="M1063.1 1238.5C1064.6 1238.6 1069 1239.4 1072 1239.2C1075 1239 1078.2 1238.1 1081 1237.2C1083.8 1236.3 1086.8 1234.4 1089 1233.6C1091.2 1232.8 1092.2 1232.6 1094 1232.6C1095.8 1232.6 1098 1233.4 1100 1233.8C1102 1234.2 1104 1235.3 1106 1235C1108 1234.7 1110.2 1233.2 1112 1232C1113.8 1230.8 1114.5 1230.3 1116.5 1228C1118.5 1225.7 1121.2 1221.1 1124 1218C1126.8 1214.9 1130.6 1212.6 1133.1 1209.4C1135.6 1206.2 1137 1203 1139 1199C1141 1195 1143.4 1189.9 1145 1185.6C1146.6 1181.3 1147.3 1177.3 1148.5 1173C1149.7 1168.7 1150.7 1163.5 1152.1 1159.5C1153.5 1155.5 1155.2 1153 1157 1149C1158.8 1145 1161.2 1140.6 1162.8 1135.8C1164.4 1131 1165.3 1125.5 1166.5 1120C1167.7 1114.5 1168.9 1108.2 1170 1102.5C1171.1 1096.8 1172 1090.8 1173 1086C1174 1081.2 1174.9 1076.7 1175.9 1074C1176.9 1071.3 1177.8 1069.8 1178.9 1069.8C1180 1069.8 1181.4 1072.3 1182.5 1074C1183.6 1075.7 1184.4 1078.6 1185.3 1080C1186.2 1081.4 1186.9 1082.6 1187.8 1082.3C1188.7 1082 1189.5 1079.9 1190.5 1078C1191.5 1076.1 1192.5 1072.4 1193.5 1071C1194.5 1069.6 1195.7 1069.3 1196.7 1069.8C1197.7 1070.3 1198.6 1071.3 1199.5 1074C1200.4 1076.7 1201.2 1081.2 1202 1086C1202.8 1090.8 1203.5 1096 1204.4 1102.5C1205.3 1109 1206.3 1117.1 1207.3 1125C1208.3 1132.9 1209.1 1141.7 1210.3 1150C1211.5 1158.3 1213.1 1167.1 1214.5 1175C1215.9 1182.9 1217 1190.5 1218.6 1197.5C1220.2 1204.5 1222.1 1211.1 1224 1217C1225.9 1222.9 1228.9 1230.4 1229.9 1233.1" fill="none" stroke="#000" stroke-width="2.7" stroke-linejoin="round"/>
<path d="M1260.7 1439.7C1262.2 1439.6 1266.8 1439 1270 1439C1273.2 1439 1276.7 1439.7 1280 1439.8C1283.3 1439.9 1286.7 1439.8 1290 1439.5C1293.3 1439.2 1296.6 1438.4 1299.9 1437.9C1303.2 1437.4 1306.7 1437.1 1310 1436.6C1313.3 1436.1 1317.3 1435.4 1320 1435C1322.7 1434.6 1323.8 1434.4 1326 1434C1328.2 1433.6 1330.8 1433.3 1333.1 1432.5C1335.4 1431.7 1337.7 1430.1 1340 1429C1342.3 1427.9 1344.8 1427.2 1347 1426C1349.2 1424.8 1351.3 1423.3 1353 1422C1354.7 1420.7 1355.4 1421.1 1356.9 1418.1C1358.4 1415.1 1360 1409.5 1362 1404C1364 1398.5 1367.1 1390.7 1368.8 1385C1370.5 1379.3 1370.8 1374.7 1372 1370C1373.2 1365.3 1374.7 1360.7 1375.9 1357C1377.1 1353.3 1378 1350.8 1379 1348C1380 1345.2 1381 1344.3 1381.8 1340C1382.6 1335.7 1383.2 1328.3 1384 1322C1384.8 1315.7 1385.7 1308.2 1386.6 1302C1387.5 1295.8 1388.5 1289.2 1389.5 1285C1390.5 1280.8 1391.6 1278.2 1392.5 1277C1393.4 1275.8 1394.1 1278.3 1395 1278C1395.9 1277.7 1397 1276.2 1397.9 1275C1398.8 1273.8 1399.6 1271.9 1400.5 1271C1401.4 1270.1 1402.3 1268.3 1403.2 1269.8C1404.1 1271.3 1405.1 1275 1406 1280C1406.9 1285 1407.8 1294.7 1408.5 1300C1409.2 1305.3 1409.5 1304.8 1410.3 1312C1411.1 1319.2 1412.5 1332.4 1413.5 1343C1414.5 1353.6 1415.5 1366.6 1416.3 1375.8C1417.1 1385 1417.7 1391.1 1418.5 1398C1419.3 1404.9 1420.1 1412.1 1421 1417.3C1421.9 1422.5 1422.9 1425.8 1424 1429C1425.1 1432.2 1427 1435 1427.6 1436.2L1427.6 1440.9L1260.7 1440.9Z" fill="#00A070"/>
<path d="M1260.7 1439.7C1262.2 1439.6 1266.8 1439 1270 1439C1273.2 1439 1276.7 1439.7 1280 1439.8C1283.3 1439.9 1286.7 1439.8 1290 1439.5C1293.3 1439.2 1296.6 1438.4 1299.9 1437.9C1303.2 1437.4 1306.7 1437.1 1310 1436.6C1313.3 1436.1 1317.3 1435.4 1320 1435C1322.7 1434.6 1323.8 1434.4 1326 1434C1328.2 1433.6 1330.8 1433.3 1333.1 1432.5C1335.4 1431.7 1337.7 1430.1 1340 1429C1342.3 1427.9 1344.8 1427.2 1347 1426C1349.2 1424.8 1351.3 1423.3 1353 1422C1354.7 1420.7 1355.4 1421.1 1356.9 1418.1C1358.4 1415.1 1360 1409.5 1362 1404C1364 1398.5 1367.1 1390.7 1368.8 1385C1370.5 1379.3 1370.8 1374.7 1372 1370C1373.2 1365.3 1374.7 1360.7 1375.9 1357C1377.1 1353.3 1378 1350.8 1379 1348C1380 1345.2 1381 1344.3 1381.8 1340C1382.6 1335.7 1383.2 1328.3 1384 1322C1384.8 1315.7 1385.7 1308.2 1386.6 1302C1387.5 1295.8 1388.5 1289.2 1389.5 1285C1390.5 1280.8 1391.6 1278.2 1392.5 1277C1393.4 1275.8 1394.1 1278.3 1395 1278C1395.9 1277.7 1397 1276.2 1397.9 1275C1398.8 1273.8 1399.6 1271.9 1400.5 1271C1401.4 1270.1 1402.3 1268.3 1403.2 1269.8C1404.1 1271.3 1405.1 1275 1406 1280C1406.9 1285 1407.8 1294.7 1408.5 1300C1409.2 1305.3 1409.5 1304.8 1410.3 1312C1411.1 1319.2 1412.5 1332.4 1413.5 1343C1414.5 1353.6 1415.5 1366.6 1416.3 1375.8C1417.1 1385 1417.7 1391.1 1418.5 1398C1419.3 1404.9 1420.1 1412.1 1421 1417.3C1421.9 1422.5 1422.9 1425.8 1424 1429C1425.1 1432.2 1427 1435 1427.6 1436.2" fill="none" stroke="#000" stroke-width="2.7" stroke-linejoin="round"/>
<path d="M1260.7 1439.7C1262.2 1439.6 1266.8 1439 1270 1439C1273.2 1439 1276.7 1439.7 1280 1439.8C1283.3 1439.9 1286.7 1439.8 1290 1439.5C1293.3 1439.2 1296.6 1438.4 1299.9 1437.9C1303.2 1437.4 1306.7 1436.9 1310 1436.6C1313.3 1436.3 1317.3 1436 1320 1436C1322.7 1436 1323.8 1437 1326 1436.5C1328.2 1436 1330.8 1434.3 1333.1 1433.1C1335.4 1431.8 1337.7 1430.2 1340 1429C1342.3 1427.8 1344.8 1426.8 1347 1426C1349.2 1425.2 1351.3 1425 1353 1424C1354.7 1423 1355.4 1423.1 1356.9 1420.1C1358.4 1417.1 1360 1411.3 1362 1406C1364 1400.7 1367.1 1393.2 1368.8 1388C1370.5 1382.8 1370.8 1379.3 1372 1375C1373.2 1370.7 1374.7 1365.4 1375.9 1361.9C1377.1 1358.4 1378 1356 1379 1354C1380 1352 1381 1354 1381.8 1350C1382.6 1346 1383.2 1336.9 1384 1330C1384.8 1323.1 1385.7 1315.4 1386.6 1308.4C1387.5 1301.4 1388.5 1293.3 1389.5 1288C1390.5 1282.7 1391.6 1278.9 1392.5 1276.4C1393.4 1273.9 1394.1 1273.6 1395 1273C1395.9 1272.4 1397 1272.3 1397.9 1272.8C1398.8 1273.3 1399.7 1274.3 1400.5 1276C1401.3 1277.7 1402 1279 1403 1283C1404 1287 1405.3 1295.8 1406.5 1300C1407.7 1304.2 1409.1 1301.6 1410.3 1308.4C1411.5 1315.2 1412.5 1330.1 1413.5 1341C1414.5 1351.9 1415.5 1364.6 1416.3 1373.8C1417.1 1383 1417.7 1389.1 1418.5 1396C1419.3 1402.9 1420.1 1410 1421 1415.3C1421.9 1420.6 1422.9 1424.4 1424 1428C1425.1 1431.6 1427 1435.2 1427.6 1436.7L1427.6 1440.9L1260.7 1440.9Z" fill="#DB5C00"/>
<path d="M1260.7 1439.7C1262.2 1439.6 1266.8 1439 1270 1439C1273.2 1439 1276.7 1439.7 1280 1439.8C1283.3 1439.9 1286.7 1439.8 1290 1439.5C1293.3 1439.2 1296.6 1438.4 1299.9 1437.9C1303.2 1437.4 1306.7 1436.9 1310 1436.6C1313.3 1436.3 1317.3 1436 1320 1436C1322.7 1436 1323.8 1437 1326 1436.5C1328.2 1436 1330.8 1434.3 1333.1 1433.1C1335.4 1431.8 1337.7 1430.2 1340 1429C1342.3 1427.8 1344.8 1426.8 1347 1426C1349.2 1425.2 1351.3 1425 1353 1424C1354.7 1423 1355.4 1423.1 1356.9 1420.1C1358.4 1417.1 1360 1411.3 1362 1406C1364 1400.7 1367.1 1393.2 1368.8 1388C1370.5 1382.8 1370.8 1379.3 1372 1375C1373.2 1370.7 1374.7 1365.4 1375.9 1361.9C1377.1 1358.4 1378 1356 1379 1354C1380 1352 1381 1354 1381.8 1350C1382.6 1346 1383.2 1336.9 1384 1330C1384.8 1323.1 1385.7 1315.4 1386.6 1308.4C1387.5 1301.4 1388.5 1293.3 1389.5 1288C1390.5 1282.7 1391.6 1278.9 1392.5 1276.4C1393.4 1273.9 1394.1 1273.6 1395 1273C1395.9 1272.4 1397 1272.3 1397.9 1272.8C1398.8 1273.3 1399.7 1274.3 1400.5 1276C1401.3 1277.7 1402 1279 1403 1283C1404 1287 1405.3 1295.8 1406.5 1300C1407.7 1304.2 1409.1 1301.6 1410.3 1308.4C1411.5 1315.2 1412.5 1330.1 1413.5 1341C1414.5 1351.9 1415.5 1364.6 1416.3 1373.8C1417.1 1383 1417.7 1389.1 1418.5 1396C1419.3 1402.9 1420.1 1410 1421 1415.3C1421.9 1420.6 1422.9 1424.4 1424 1428C1425.1 1431.6 1427 1435.2 1427.6 1436.7" fill="none" stroke="#000" stroke-width="2.7" stroke-linejoin="round"/>
<path d="M1458.7 1640.9C1459.9 1641 1463.3 1641.1 1466 1641.2C1468.7 1641.3 1472.2 1641.5 1475 1641.5C1477.8 1641.5 1480.8 1641.3 1483 1640.9C1485.2 1640.5 1486.4 1639.7 1488 1639C1489.6 1638.3 1490.5 1637.3 1492.5 1636.7C1494.5 1636.1 1497.6 1635.8 1500 1635.5C1502.4 1635.2 1504.7 1635.4 1507 1635C1509.3 1634.6 1512.1 1635.1 1513.9 1633.3C1515.7 1631.5 1516.6 1626.9 1518 1624C1519.4 1621.1 1520.2 1619.7 1522.2 1615.9C1524.2 1612.1 1527.4 1605.5 1530 1601C1532.6 1596.5 1535.5 1592.4 1537.6 1588.6C1539.7 1584.8 1540.9 1581.8 1542.5 1578C1544.1 1574.2 1545.9 1569.7 1547.1 1566C1548.3 1562.3 1548.7 1559.7 1549.5 1556C1550.3 1552.3 1550.5 1550.1 1551.9 1544.1C1553.3 1538.1 1555.8 1527.9 1557.8 1520C1559.8 1512.1 1562.2 1503.3 1563.8 1496.6C1565.4 1489.9 1566.2 1484.3 1567.5 1480C1568.8 1475.7 1570.2 1471 1571.5 1471C1572.8 1471 1574 1476.1 1575.3 1480C1576.6 1483.9 1578.2 1490.9 1579.2 1494.2C1580.2 1497.5 1580.7 1497.4 1581.5 1500C1582.3 1502.6 1583 1505 1584 1510C1585 1515 1586.4 1523.4 1587.5 1530.2C1588.6 1537 1589.5 1543.9 1590.5 1551C1591.5 1558.1 1592.5 1565.3 1593.5 1572.8C1594.5 1580.3 1595.5 1589.1 1596.5 1596C1597.5 1602.9 1598.2 1609 1599.4 1614C1600.7 1619 1602 1622.5 1604 1626C1606 1629.5 1609 1632.9 1611.3 1635.1C1613.6 1637.3 1615.6 1638.1 1618 1639C1620.4 1639.9 1624.2 1640.1 1625.5 1640.3L1625.5 1642L1458.7 1642Z" fill="#00A070"/>
<path d="M1458.7 1640.9C1459.9 1641 1463.3 1641.1 1466 1641.2C1468.7 1641.3 1472.2 1641.5 1475 1641.5C1477.8 1641.5 1480.8 1641.3 1483 1640.9C1485.2 1640.5 1486.4 1639.7 1488 1639C1489.6 1638.3 1490.5 1637.3 1492.5 1636.7C1494.5 1636.1 1497.6 1635.8 1500 1635.5C1502.4 1635.2 1504.7 1635.4 1507 1635C1509.3 1634.6 1512.1 1635.1 1513.9 1633.3C1515.7 1631.5 1516.6 1626.9 1518 1624C1519.4 1621.1 1520.2 1619.7 1522.2 1615.9C1524.2 1612.1 1527.4 1605.5 1530 1601C1532.6 1596.5 1535.5 1592.4 1537.6 1588.6C1539.7 1584.8 1540.9 1581.8 1542.5 1578C1544.1 1574.2 1545.9 1569.7 1547.1 1566C1548.3 1562.3 1548.7 1559.7 1549.5 1556C1550.3 1552.3 1550.5 1550.1 1551.9 1544.1C1553.3 1538.1 1555.8 1527.9 1557.8 1520C1559.8 1512.1 1562.2 1503.3 1563.8 1496.6C1565.4 1489.9 1566.2 1484.3 1567.5 1480C1568.8 1475.7 1570.2 1471 1571.5 1471C1572.8 1471 1574 1476.1 1575.3 1480C1576.6 1483.9 1578.2 1490.9 1579.2 1494.2C1580.2 1497.5 1580.7 1497.4 1581.5 1500C1582.3 1502.6 1583 1505 1584 1510C1585 1515 1586.4 1523.4 1587.5 1530.2C1588.6 1537 1589.5 1543.9 1590.5 1551C1591.5 1558.1 1592.5 1565.3 1593.5 1572.8C1594.5 1580.3 1595.5 1589.1 1596.5 1596C1597.5 1602.9 1598.2 1609 1599.4 1614C1600.7 1619 1602 1622.5 1604 1626C1606 1629.5 1609 1632.9 1611.3 1635.1C1613.6 1637.3 1615.6 1638.1 1618 1639C1620.4 1639.9 1624.2 1640.1 1625.5 1640.3" fill="none" stroke="#000" stroke-width="2.7" stroke-linejoin="round"/>
<path d="M1458.7 1640.9C1459.9 1641 1463.3 1641.1 1466 1641.2C1468.7 1641.3 1472.2 1641.5 1475 1641.5C1477.8 1641.5 1480.8 1641.3 1483 1640.9C1485.2 1640.5 1486.4 1639.7 1488 1639C1489.6 1638.3 1490.5 1637.3 1492.5 1636.7C1494.5 1636.1 1497.6 1635.8 1500 1635.5C1502.4 1635.2 1504.7 1635.4 1507 1635.2C1509.3 1635 1512.1 1635.5 1513.9 1634.3C1515.7 1633.1 1516.6 1630.6 1518 1628C1519.4 1625.4 1520.2 1622.6 1522.2 1618.9C1524.2 1615.2 1527.4 1610.5 1530 1606C1532.6 1601.5 1535.5 1595.8 1537.6 1591.6C1539.7 1587.4 1540.9 1585 1542.5 1581C1544.1 1577 1545.9 1572 1547.1 1567.8C1548.3 1563.6 1548.7 1560 1549.5 1556C1550.3 1552 1550.5 1550.1 1551.9 1544.1C1553.3 1538.1 1555.8 1527.9 1557.8 1520C1559.8 1512.1 1562.2 1503.3 1563.8 1496.6C1565.4 1489.9 1566.2 1484.3 1567.5 1480C1568.8 1475.7 1570.2 1471 1571.5 1471C1572.8 1471 1574 1476.1 1575.3 1480C1576.6 1483.9 1577.9 1488.9 1579.2 1494.2C1580.5 1499.5 1581.9 1505.7 1583.3 1512C1584.7 1518.3 1586.3 1525.4 1587.5 1532.2C1588.7 1539 1589.5 1546.1 1590.5 1553C1591.5 1559.9 1592.5 1566.6 1593.5 1573.8C1594.5 1581 1595.5 1589.5 1596.5 1596C1597.5 1602.5 1598.2 1608.3 1599.4 1613C1600.7 1617.7 1602 1620.7 1604 1624C1606 1627.3 1609 1630.8 1611.3 1633.1C1613.6 1635.4 1615.6 1636.8 1618 1638C1620.4 1639.2 1624.2 1639.9 1625.5 1640.3L1625.5 1642L1458.7 1642Z" fill="#DB5C00"/>
<path d="M1458.7 1640.9C1459.9 1641 1463.3 1641.1 1466 1641.2C1468.7 1641.3 1472.2 1641.5 1475 1641.5C1477.8 1641.5 1480.8 1641.3 1483 1640.9C1485.2 1640.5 1486.4 1639.7 1488 1639C1489.6 1638.3 1490.5 1637.3 1492.5 1636.7C1494.5 1636.1 1497.6 1635.8 1500 1635.5C1502.4 1635.2 1504.7 1635.4 1507 1635.2C1509.3 1635 1512.1 1635.5 1513.9 1634.3C1515.7 1633.1 1516.6 1630.6 1518 1628C1519.4 1625.4 1520.2 1622.6 1522.2 1618.9C1524.2 1615.2 1527.4 1610.5 1530 1606C1532.6 1601.5 1535.5 1595.8 1537.6 1591.6C1539.7 1587.4 1540.9 1585 1542.5 1581C1544.1 1577 1545.9 1572 1547.1 1567.8C1548.3 1563.6 1548.7 1560 1549.5 1556C1550.3 1552 1550.5 1550.1 1551.9 1544.1C1553.3 1538.1 1555.8 1527.9 1557.8 1520C1559.8 1512.1 1562.2 1503.3 1563.8 1496.6C1565.4 1489.9 1566.2 1484.3 1567.5 1480C1568.8 1475.7 1570.2 1471 1571.5 1471C1572.8 1471 1574 1476.1 1575.3 1480C1576.6 1483.9 1577.9 1488.9 1579.2 1494.2C1580.5 1499.5 1581.9 1505.7 1583.3 1512C1584.7 1518.3 1586.3 1525.4 1587.5 1532.2C1588.7 1539 1589.5 1546.1 1590.5 1553C1591.5 1559.9 1592.5 1566.6 1593.5 1573.8C1594.5 1581 1595.5 1589.5 1596.5 1596C1597.5 1602.5 1598.2 1608.3 1599.4 1613C1600.7 1617.7 1602 1620.7 1604 1624C1606 1627.3 1609 1630.8 1611.3 1633.1C1613.6 1635.4 1615.6 1636.8 1618 1638C1620.4 1639.2 1624.2 1639.9 1625.5 1640.3" fill="none" stroke="#000" stroke-width="2.7" stroke-linejoin="round"/>
<g fill="none" stroke-width="10.4" stroke-linecap="round">
<path stroke="#00A070" d="M147 351.9h0m-62 65h0m73.5-79h0m61.4-70.3h0"/>
<path stroke="#DB5C00" d="M182.8 277.8h0m36 24.6h0m-28.2 25.1h0m32.7-31.2h0"/>
<path stroke="#00A070" d="M122.6 375.2h0m-5.9 8.6h0m24.4-26h0m13.2-20.9h0"/>
<path stroke="#DB5C00" d="M115.6 402.7h0m50.3-82.5h0m11.8-42.6h0m-24.6 17.4h0m19 18.8h0"/>
<path stroke="#DB5C00" d="M184.3 326.9h0m5.5-51.5h0m50.8 1h0m-21.9 23.7h0m12-12.8h0"/>
<path stroke="#00A070" d="M156.7 325.7h0m66.3-59.2h0"/>
<path stroke="#DB5C00" d="M167.2 334.3h0m6.3-12.7h0m45.2-19.6h0m10.7-18.4h0m-54.2 3.2h0m-7.7 12.5h0m71.6-27.4h0m-15.8 16.8h0m-39.3-6.1h0m-9.4 4.9h0m39.3 10.9h0m-21.9-28.8h0"/>
<path stroke="#00A070" d="M122.6 377.9h0m-14 15.8h0m55.8-63.3h0m62-65.5h0"/>
<path stroke="#DB5C00" d="M207.6 315.1h0m-20.8-38.1h0m-10 48.2h0m-4.2-11.6h0m-9.4-15.1h0"/>
<path stroke="#00A070" d="M221 267.3h0m-67.9 78h0m-21.3 19.7h0"/>
<path stroke="#DB5C00" d="M195.9 327.7h0m39.1-62.3h0m-40 13.1h0m-13.9 33.7h0m53.4-42.2h0m-12.4 18.6h0m-23.3 24.9h0m-9.5 1h0"/>
<path stroke="#00A070" d="M160.2 330.2h0m-86.2 104.8h0"/>
<path stroke="#DB5C00" d="M164.8 322.4h0m65.7-57.3h0m-60.7 22.3h0m61.4-6.2h0m3.7 12.5h0m-56.5-6.9h0m16.8 34.8h0m-22-27h0m-8.7-11.9h0m31.9-5.3h0m23 14.9h0m-33.7-12.5h0"/>
<path stroke="#00A070" d="M174.8 323.5h0m-6.2 8.7h0m-51.9 54h0m36.7-44.9h0m-69.1 81.9h0m95.6-113.4h0m-7.2 3.7h0m-13.9 24.2h0"/>
<path stroke="#DB5C00" d="M212.5 267.4h0m-10.2 0.4h0m31 14.2h0m-38.5 25.9h0m-26.9-23.3h0m-52.3 112.8h0m61.5-84.6h0m1.6 8.3h0m19.3-45.9h0m40.4 1h0"/>
<path stroke="#00A070" d="M221.9 267.7h0m0.1 0.5h0m-48.9 46.2h0m-6.2 12.7h0m2 1.7h0m50.7-59.8h0"/>
<path stroke="#DB5C00" d="M185.4 309.8h0m13.2-8.5h0m33.4-32.8h0m-28.2 27.6h0m-28.8 10.2h0m39.4-17.1h0m17.2-13.8h0m-20.5 35.9h0m-13.2-5.9h0m-10.1-24.7h0m-8.2 28.5h0m-5.6-5.5h0m38.8-5h0m-58.4 24.1h0m53.2-12.6h0m-8.4-36h0"/>
<path stroke="#00A070" d="M178.2 322.4h0m-41.7 42h0m-3.5 5.6h0m37.6-41h0m9.8-19.7h0"/>
<path stroke="#DB5C00" d="M180.8 292h0m47.2-21.3h0m-65.1 26h0m28.6 13.7h0m-11.3 13.5h0m29.2-18.8h0m-46.2 0.4h0m6-18.9h0m-12.1 26.6h0m29.1 21.8h0m17.7-43.7h0m-3.9 6.4h0m-8.6 17.4h0m-6.5-30.4h0m25.2 4.4h0m-5.9 17.9h0m-14.7-23.7h0"/>
<path stroke="#00A070" d="M185.2 298.5h0m17.8-7.2h0m-33.4 34.1h0m-69.1 73.7h0m69.8-67.6h0m12.7-24.5h0m-2.1-0.2h0m-32.4 51.6h0"/>
<path stroke="#DB5C00" d="M187.2 281.3h0m-27.3 24.1h0m67.3-27.6h0m-27.1 27.9h0m-17.3-17.9h0m2.1-2.7h0m12.5 10.9h0m-29 11.6h0m64.3-30h0m-37.9 6.8h0m24.8 6.2h0m-53.5 3.8h0m29 3.2h0m-12.8 11.1h0m-20.8-3.1h0m54.3-37.8h0m-5.5 30h0m-4-7.6h0m-7.2-19.3h0m6.4 6.7h0m-43.9 12.2h0m44.1-18.2h0m8.2 32.7h0m12.2-24.6h0m-73.2 59.2h0m36-44.4h0"/>
<path stroke="#00A070" d="M213.7 271.7h0m-19.3 26.3h0m22.4-26.3h0m-36.2 34.2h0m31.4-31.5h0m-34.7 42.8h0m45.2-48.1h0m-10.8 6.5h0m-39.1 52.6h0m31-39.2h0m6.6-11.6h0m7.8-7.9h0m-7.1 9h0m11-9.5h0m-8 5.5h0m-28.3 21.7h0m15.2-4.6h0m-47.9 53.6h0"/>
<path stroke="#DB5C00" d="M219.8 284.9h0m-7.9 16.3h0m-16.8-21.1h0m2.6-2.4h0m-8.3 18.5h0m35.1-9.5h0m8.3-9.5h0m-21.5 10.2h0m-30.7-0.2h0m12.5 34.5h0m-1.4-30.1h0m38.5-22h0m-7.6 6h0m-28.7 17h0m-12 4.2h0m14.5-0.7h0m-6.5 2.7h0m46.2-18.4h0m-23.5-3.2h0m-8.3 7.3h0m6.8-1.5h0m-4.6 22.7h0m-5.5-16.3h0m-51.8 59.8h0m61.2-70.3h0m-5.6 1.2h0m-12.7 18.7h0m25.3-23.7h0m-0.6 5.9h0m-25.7 35.1h0m-18.4-19.5h0m18.7 5.8h0m3.6-15h0m-20.7 11.1h0m-3.2-19.3h0m26.1 2h0"/>
<path stroke="#00A070" d="M147 570.9h0m22.3 26.5h0m-84.3 17.9h0m73.5-9.6h0m59.5-11h0m-39.9-8.4h0m41.8 6.5h0m3.2-34.6h0m-14.4 47.3h0"/>
<path stroke="#DB5C00" d="M227.4 493.7h0m-0.8 47.9h0m-2-44.4h0m5-8.7h0"/>
<path stroke="#00A070" d="M122.6 554h0m-5.9 34.6h0m24.4-15.6h0m13.2 46.9h0m68.3-65.9h0m-14 46h0"/>
<path stroke="#DB5C00" d="M224.1 507.2h0m12.8-10.5h0m-121.3 138.3h0m115.6-106.2h0m2.9-22h0m-12.7-11.6h0m-68.3 137.3h0m19-8.6h0"/>
<path stroke="#00A070" d="M168.9 589h0m9.7-21.2h0m34.1 30.6h0"/>
<path stroke="#DB5C00" d="M221.3 548.8h0m-36.3 23.6h0m4.8 45.1h0m19.3-96.2h0m-7 9.6h0m38.5-61.1h0m-19 27.3h0m9.1-5.6h0m-9.2 71.3h0"/>
<path stroke="#00A070" d="M218.5 561.6h0m-40-0.6h0m44.5 7.5h0m-2.1 8.5h0"/>
<path stroke="#DB5C00" d="M167.2 610.6h0m11.7 12.4h0m-5.4 10.8h0m55.9-137.5h0m-61.9 130h0m55.9-82.5h0m15.7-42.2h0m-54.1 67.8h0"/>
<path stroke="#00A070" d="M202.1 608h0m14.5-15.2h0m3.2-12h0m-12.7-37.5h0m7.7 46.1h0m-24.5-17.4h0m-67.7 34h0m-14-24.2h0m55.8 15.4h0"/>
<path stroke="#DB5C00" d="M207.6 525.4h0m22.6 1.1h0m-43.4 93h0m43.6-132.7h0m-16.9 35h0m8.6-2.6h0m-49.5 72.8h0"/>
<path stroke="#00A070" d="M221 585.7h0m-18.7-36.9h0m-49.2 32.8h0m-21.3-4.5h0m88.1-26.3h0"/>
<path stroke="#DB5C00" d="M235 534.1h0m-16.3-26.1h0m15.8 5.8h0m-12.4-5.5h0m-2.9 42.6h0m-42.3 51.2h0m57-109.9h0m-31.7 113.5h0"/>
<path stroke="#00A070" d="M195.2 614.3h0m-35 0.8h0m-86.2 16.5h0m110.9-55h0"/>
<path stroke="#DB5C00" d="M230.5 538.5h0m-1-6.3h0m-59.7 90.4h0m25.8-71.3h0m35.6-32.4h0m3.7-28.6h0m-56.5 132h0m33-91h0m8-31.9h0"/>
<path stroke="#00A070" d="M174.8 579.2h0m15.4-21.5h0m-21.6 19.7h0m-51.9 15.9h0m36.7 24h0m-69.1-15.9h0m95.6-18.4h0m35.3-47.6h0m-56.4 66.2h0m55.4-65.1h0"/>
<path stroke="#DB5C00" d="M223.5 510.4h0m9.8-8.8h0m-9.1 6.2h0m-12.5 27.8h0m-43.8 70.1h0m-52.3 28.6h0m63.1-39.8h0m34.1-58.3h0m-31.3 66.5h0m16.6 7.6h0m-0.8-1.3h0m26-67.8h0m15.1-65.8h0"/>
<path stroke="#00A070" d="M221.9 558.1h0m0.1-11.1h0m-10.3 51.1h0m-38.6 5.2h0m24.1-28.5h0m-30.3 26.8h0m2-16.4h0m50.7-15.4h0m-11.6 27.2h0m3.3 2.9h0"/>
<path stroke="#DB5C00" d="M219.3 570.8h0m-0.1-31.2h0m-33.8 82.4h0m13.2-52.5h0m33.4-49.8h0m-41.3 92.1h0m-1.8-38h0m-8.8 37.7h0m-5.1 8.9h0m56.6-86.7h0m-20.5-8.9h0m-23.3 92.5h0m-8.2-13.6h0m10.1 6.7h0m-15.7 0.1h0m38.8-66.8h0m-58.4 86.6h0m53.2-100.8h0m-9.4 5.7h0m-0.5 33.6h0m17.7-53.7h0"/>
<path stroke="#00A070" d="M218.7 553.1h0m-0.3 21.7h0m-40.2-9h0m-41.7 30.9h0m81.6-24.4h0m-30.4 6.2h0m-54.7 7.9h0m37.6-6.5h0m32.9 24.1h0m-23.1-25.1h0m15-19.9h0m17.9 17.3h0"/>
<path stroke="#DB5C00" d="M180.8 620.3h0m47.2-105.6h0m-65.1 101.1h0m28.6-55.6h0m-11.3 43.8h0m38.9-79h0m-25.1 79.9h0m15.4-77h0m-46.2 103h0m6-18.1h0m29.2-6.3h0m1.1-11.9h0m-42.4 31.4h0m63-124.5h0m-33.9 99.3h0m24.1-8.1h0m-25.4 18.1h0m25.2-74.6h0m-20.6 55.2h0"/>
<path stroke="#00A070" d="M182.4 592.4h0m32.2 0.5h0m-29.9 16.7h0m22.7-18.4h0m-22.2 11.2h0m17.8-56.8h0m-3.5 52.2h0m19.8-47.3h0m-49.7 45h0m-69.1 8.2h0m69.8-31.5h0m12.7 8.6h0m24.2-5.1h0m-26.3 16h0m-32.4 15h0"/>
<path stroke="#DB5C00" d="M187.2 589.3h0m-27.3 35.9h0m67.3-100.7h0m-44.4 66.2h0m35.1-36.5h0m-33 50.5h0m23.5-35.2h0m-40 50.4h0m64.3-142.6h0m-12.3 37.4h0m-0.8-10h0m-0.2 23.5h0m-53.3 96.8h0m16.2-33.4h0m-20.8 24.8h0m54.8-62.5h0m-19.1 49.8h0m18.6-23.6h0m-5.5-27.9h0m-11.2 1.3h0m7.2-9.5h0m-0.8 57.8h0m-43.9 19.8h0m44.1-33.8h0m8.1-34.3h0m3.1-31.1h0m9.2-13.7h0m-73.2 118.5h0m36-49.7h0"/>
<path stroke="#00A070" d="M207.3 585.2h0m9.5-32.6h0m-3.1 58h0m5.3-66.7h0m-2.2 25.7h0m2.1-1.3h0m-17.1 13.9h0m-21.2 7.7h0m19.6 0.4h0m0.2-22.8h0m5.4 1.1h0m6.2 23.6h0m-19.4-8.1h0m-15.3-4.4h0m45.2-43h0m-28.7 56.9h0m17.9-10.1h0m1.9-15.1h0m-21.9 29.8h0m22-50.8h0m-41.1 18.5h0m38.1 10.1h0m-7.1-24.2h0m6.6 35.2h0m7.8-2.3h0m-7.1-21.2h0m2.7-16.9h0m8.3-7.7h0m-10.2 18.4h0m2.2 13.5h0m-28.3 38.1h0m15.2-52.6h0m-47.9 4.5h0"/>
<path stroke="#DB5C00" d="M219.8 525.7h0m-7.9 37.1h0m-16.8 29.1h0m2.6-11.1h0m-8.3-6h0m2.7 12.2h0m5.9-6.2h0m26.5-48.3h0m8.3-23.1h0m-21.5 65.5h0m-30.7 27.9h0m12.5-34.3h0m-1.4 15.2h0m38.5-29h0m-7.6-9.3h0m-28.7 36.2h0m-12 39h0m14.5-58.6h0m-6.5 50.8h0m46.2-97.5h0m-23.5 41.4h0m-8.3 3h0m6.8-1.1h0m-4.6-13.2h0m-5.5 31h0m-51.8 55.2h0m61.2-43.4h0m-5.6-22.5h0m-12.7 12h0m25.3-16.7h0m-0.6-19h0m-25.7 40.8h0m-18.4 28h0m18.7-45h0m3.6 29.1h0m-20.7 22.3h0m-3.2 16.3h0m26.1-33.6h0"/>
<path stroke="#00A070" d="M353.4 570.9h0m-63.7 44.4h0m77.4-9.6h0m67.6-11h0m1.3-1.9h0m0.8-34.6h0m-9.5 47.3h0m-46.4-8.2h0"/>
<path stroke="#DB5C00" d="M401.9 507.9h0m26.6-19.4h0m-20.6 32.2h0m24.5-22.2h0"/>
<path stroke="#00A070" d="M330.6 554h0m-8.5 34.6h0m25.5-15.6h0m20.5 46.9h0m68.3-65.9h0"/>
<path stroke="#DB5C00" d="M430.8 496.7h0m-127.2 138.3h0m80.9-21.8h0m47.9-84.4h0m-20.9 6.1h0m-9.4 0h0m24-28.1h0m-6.4-11.6h0m-10.6 137.3h0m17.5-25.1h0m-35.9 16.5h0"/>
<path stroke="#00A070" d="M377.9 589h0m52 9.4h0m5.1-56.1h0"/>
<path stroke="#DB5C00" d="M399.7 525.4h0m35.7 23.4h0m-37.1 23.6h0m30.1 45.1h0m-27.5-96.2h0m11 9.6h0m15.5-61.1h0m1.4 27.3h0m-24.6 38.3h0m12.5-43.9h0m8.1 125.5h0m-32.7-55.1h0"/>
<path stroke="#00A070" d="M379.1 621.8h0m3.9-60.8h0m54.1 7.5h0m-1.2 8.5h0"/>
<path stroke="#DB5C00" d="M427.8 519.2h0m-57.2 91.4h0m12.5 23.2h0m25.9-110.1h0m-6.7 28.6h0m18-56h0m13.6 34.4h0m-29 95.6h0m26.9-124.7h0m-16.4 7h0m-9.6 31.8h0m28.3 69.8h0"/>
<path stroke="#00A070" d="M421.3 608h0m12.2-15.2h0m-105.6 13.2h0m-15.5-24.2h0m62 15.4h0m64.3-59.8h0"/>
<path stroke="#DB5C00" d="M389.5 525.4h0m40.8 1.1h0m-3.5 93h0m-47.3-13.8h0m45.9-118.9h0m-11.1 35h0m6.7 91.7h0m3.3-91h0m-12.7 21.5h0m11.6-24.8h0m-32.3 72.8h0m14.8 31.8h0m-9.3-49h0"/>
<path stroke="#00A070" d="M436.3 585.7h0m-76.4-4.1h0m-19.4-4.5h0m93.5-26.3h0"/>
<path stroke="#DB5C00" d="M377.1 572.4h0m61.1-38.3h0m-45.9 76.1h0m41.4-96.4h0m-18.3-5.5h0m-24.3 49.7h0m-1.1 32.9h0m37.4-98.7h0"/>
<path stroke="#00A070" d="M396.4 585.6h0m-21.7 29.5h0m-102.8 16.5h0"/>
<path stroke="#DB5C00" d="M382.3 621.1h0m56.2-82.6h0m-9.9-6.3h0m-12 90.4h0m6-103.7h0m-12.1-28.6h0m6.7 132h0m-34.1-52.3h0m26.5 44.4h0m11.6 9.5h0m-24.8-28h0m5.7-11.1h0m29.1 9.2h0m-19.3-94.6h0"/>
<path stroke="#00A070" d="M381.3 579.2h0m19.6-21.5h0m-28.2 19.7h0m-52.9 15.9h0m44 24h0m70.3-73.4h0m-150.6 57.5h0m111.2-18.4h0m-3.7 23.9h0m-23.7-5.3h0"/>
<path stroke="#DB5C00" d="M397.7 574.6h0m34.4-64.2h0m4.1 55.8h0m-9.8-36.1h0m9.5 59.2h0m-35-45.2h0m21-42.5h0m-22 92.1h0m21.1-85.9h0m-24.5 67.1h0m18.4-39.3h0m-106.2 98.7h0m83-25.3h0m-8.1-14.5h0m36.6-58.3h0m-16.7 66.5h0m17 7.6h0m7.1-134.9h0"/>
<path stroke="#00A070" d="M400.2 580.8h0m35.8-22.7h0m-0.6-11.1h0m-45.2 56.3h0m-12.5-1.7h0m-1.7-16.4h0m58.6-15.4h0m-6.2 30.1h0"/>
<path stroke="#DB5C00" d="M428.6 539.6h0m-28.6 65.5h0m2.3-37.8h0m-7.6 54.7h0m8.3-52.5h0m29.7-23.3h0m2.4-26.5h0m-35.7 92.1h0m0.5-0.3h0m-1.8 8.9h0m30.3-86.7h0m-35.2-8.9h0m5.7 55.7h0m24.3 36.8h0m-28-13.6h0m20 6.7h0m-14.6 0.1h0m4.9-66.8h0m-23.6 86.6h0m12.4-100.8h0m10 5.7h0m6.5 33.6h0m18.7 28.4h0m-10.4-82.1h0m10 45.8h0"/>
<path stroke="#00A070" d="M406 576.8h0m27.7-2h0m-51.4-9h0m29.6 36.7h0m-70.8-5.8h0m92.1-24.4h0m-30.9 6.2h0m-66.7 7.9h0m40.2-6.5h0m19.3-1h0m12.6-19.9h0m21.1 17.3h0"/>
<path stroke="#DB5C00" d="M412.1 620.3h0m20.8-105.6h0m-25.4 101.1h0m-13.5-55.6h0m14.7 4.2h0m-27.9 39.6h0m36-79h0m-9.8 79.9h0m-7.7-77h0m-0.4 103h0m18.5-18.1h0m4.3-6.3h0m-2.3 4.3h0m-28.1 15.2h0m24.9-124.5h0m-46.3 99.3h0m48.7-53.2h0m-12.1 16.4h0m-17 13.2h0m29.7 33.6h0m-4.2-74.6h0m-17.6 24.5h0m22.7-18.6h0"/>
<path stroke="#00A070" d="M400.1 592.4h0m26.3-13.1h0m-0.2 0h0m5.5 13.6h0m-23.8 16.7h0m-2.2-7.2h0m26.6-59.9h0m-19.5 3.1h0m20.4 4.9h0m-53.8 45h0m-72.3 8.2h0m66.3-31.5h0m24 8.6h0m18.7-17.6h0m-18.5 28.5h0m-50.6 15h0"/>
<path stroke="#DB5C00" d="M399 625.2h0m27.1-100.7h0m-27.4 40h0m35.3-10.3h0m-15.1 50.5h0m3-35.2h0m-13.7-6.7h0m-11.4 57.1h0m29.4-142.6h0m3.2 82.6h0m-6.3-45.2h0m-9.6-10h0m13.8 23.5h0m-17.5 96.8h0m-3.2-36.4h0m-10.8 3h0m3 24.8h0m25.9-12.7h0m11.1-23.6h0m-29.4-27.9h0m17.5 1.3h0m-10-9.5h0m12.3 57.8h0m-12 19.8h0m17.9-33.8h0m-7.4-34.3h0m-1.5-31.1h0m-23.1 24.3h0m24.1-38h0m-58.1 118.5h0"/>
<path stroke="#00A070" d="M430.2 552.6h0m1.8 58h0m-0.2-66.7h0m-25.5 49.5h0m25.7-23.8h0m1.9-1.3h0m-16.3 13.9h0m-19.1 7.7h0m18.1 0.4h0m-2.4-22.8h0m5.7 1.1h0m9.4 23.6h0m-41.9-12.5h0m47.2-43h0m-22.3 56.9h0m15.9-10.1h0m0.4-15.1h0m-17.7 29.8h0m15.5-50.8h0m-49.8 18.5h0m49.5 10.1h0m-11-24.2h0m11.3 35.2h0m7.7-2.3h0m-8-38.1h0m8.6-7.7h0m-8.9 18.4h0m3.5 13.5h0m-21.3 38.1h0m4.5-52.6h0m-52.6 4.5h0"/>
<path stroke="#DB5C00" d="M419.1 525.7h0m-10.5 57.6h0m-5.5-20.5h0m20.7 29.1h0m2.3-11.1h0m-18.1-6h0m0.7 12.2h0m9-6.2h0m-0.4-48.3h0m9.3-23.1h0m-10 65.5h0m0.3 27.9h0m-33.9-34.3h0m29.5 15.2h0m21.6-29h0m-5.9-9.3h0m-16.6 36.2h0m-4.2 39h0m0.7-58.6h0m-2.6 50.8h0m18-97.5h0m3.1 41.4h0m-7.1 3h0m1.4-1.1h0m-22.3-13.2h0m16 31h0m-58.5 55.2h0m68.8-43.4h0m-1.1-22.5h0m-18.3 12h0m23.1-16.7h0m-5.8-19h0m-34.4 40.8h0m19.2 28h0m-5.7-45h0m14.8 29.1h0m-11 22.3h0m19 16.3h0m-2-33.6h0"/>
<path stroke="#00A070" d="M147 707.4h0m38.4 129.7h0m-16.1-101.2h0m-84.3 68.7h0m73.5-55.9h0m46.3 49h0m-2.9-51.5h0m-5.2 32h0"/>
<path stroke="#DB5C00" d="M186.1 757h0m6.2-75.4h0m-11.9 91.4h0m8.7-10.9h0m44-86.2h0"/>
<path stroke="#00A070" d="M122.6 720.1h0m-5.9 1.2h0m98.4 14.1h0m-74 11.3h0m40.3-2h0m-27.1-9.5h0m61.9-63h0m6.4-4.3h0"/>
<path stroke="#DB5C00" d="M224.1 731.1h0m10.7-48.2h0m-23.1-10.3h0m25.2 29.9h0m-121.3 126.5h0m50.3-111.9h0m-12.8 5.9h0m17.1 4.4h0"/>
<path stroke="#00A070" d="M178.6 756.5h0m35.1 1.3h0"/>
<path stroke="#DB5C00" d="M221.3 677.4h0m-40 5.7h0m-11.8 75h0m0.6 16.5h0m19.7-33.4h0m50.8-41.1h0"/>
<path stroke="#00A070" d="M188.5 747.5h0m25.4-78h0m3.6 69.8h0m-60.8 35.1h0m40.1 7.9h0m26.2-95.2h0m-10.5 60h0"/>
<path stroke="#DB5C00" d="M167.2 741.5h0m37.6-65.1h0m-31.3 115.5h0m42.1-45.8h0m10.6-70.9h0m-58.7 22.3h0m26.9 50h0m27.5-19.2h0m17.2-54.1h0"/>
<path stroke="#00A070" d="M177.1 752.4h0m-1.1 17.2h0m39.4-33.2h0m-92.8 33.5h0m-14-69.5h0m55.8-3.9h0"/>
<path stroke="#DB5C00" d="M230.2 680.7h0m-53.4 20.2h0m53.6 18.3h0m-54.2-26h0m10.6 61h0m1.1 10.3h0m32.1-37.8h0m-44-40.5h0m11.2-1.7h0m34.9 34h0m-49.5 14.2h0m-9.4 17h0m29.6 1.7h0"/>
<path stroke="#00A070" d="M178.4 760.3h0m-25.3-18.9h0m-21.3-23.6h0"/>
<path stroke="#DB5C00" d="M228.8 704h0m-39 54.5h0m45.2-82h0m-0.5 5.5h0m-12.4-1.2h0m-21.6-3.4h0m-11.2 88.6h0m44.6-54.7h0m-31 54.2h0m-6.9-16.1h0m1.6 14.1h0"/>
<path stroke="#00A070" d="M182.2 688.7h0m32.6 38.4h0m-33.4-26.5h0m-4.5 33.8h0m-16.7-33.1h0m46.5-21.3h0m-132.7 141.7h0"/>
<path stroke="#DB5C00" d="M229.5 701.7h0m-59.7 38.4h0m25.8 24.3h0m39.3-59.6h0m-13.1-22.2h0m-57.3 0.7h0m48 82.6h0m-30.2-27.7h0m39.2-51.7h0"/>
<path stroke="#00A070" d="M197 744.6h0m-22.2-11.9h0m15.4-44.2h0m-21.6 32.3h0m-51.9-41.2h0m36.7 104.2h0m-69.1 2.3h0m95.6-49.8h0m-7.2-30.8h0m-13.9 4.2h0m41 32.2h0"/>
<path stroke="#DB5C00" d="M200.2 678.2h0m23.3 11.7h0m-0.2 10.2h0m-12.8 62h0m13.7-71.4h0m-56.3 14.2h0m-52.3 112.5h0m63.1-41.2h0m28.3-92.7h0m-25.5 49.9h0m41.8-23.7h0m15.1-15h0"/>
<path stroke="#00A070" d="M221.9 690.9h0m-25.7 68.3h0m25.8-77.5h0m-10.3 53.7h0m-38.6-8.2h0m41.2 31.6h0m-14.9-75.7h0m-32.5 93.2h0m9.7-54.5h0m-7.7-13.9h0m50.7-20.7h0m-13.5-1.5h0m5.2 69.7h0"/>
<path stroke="#DB5C00" d="M180.7 707.7h0m7.4-4.6h0m-2.7 81.9h0m35.7-72.6h0m10.9-15.4h0m-41.3 61.8h0m13.1 4.4h0m-28.8-16h0m56.6-56.4h0m-20.5 78.9h0m-23.3-80h0m-8.2 27.3h0m10.1 7.7h0m-15.7-12h0m-19.6 13.9h0m34-15.5h0m9.3 26.1h0"/>
<path stroke="#00A070" d="M200.5 694.2h0m17.9 64.7h0m-25.2-62.5h0m-15 49.8h0m12.2-46.6h0m-53.9 70.9h0m51.2-40.2h0m17.5-35h0m-72.2-4.7h0m37.6 28.3h0m32.9 52.3h0m-23.1-69.2h0m33.5 29.1h0m-18.5-46.7h0m16.5-7.4h0"/>
<path stroke="#DB5C00" d="M180.8 693.2h0m47.2-1.9h0m-65.1 23.5h0m28.6 5.8h0m7.4-35.6h0m-18.7 63.6h0m4.3-12.7h0m6.2 1h0m3.3-11.7h0m-6.3-49h0m21.7 75.6h0m-46.2-44.6h0m6 43.2h0m29.2-58.3h0m-12.4-3.1h0m-28.9 24.8h0m37.4-12.1h0m5.2 31.9h0m20.4-13.1h0m-33.9 57h0m33.2-87h0m-19.4 56.5h0m-8.6-29.1h0m-6.5 1.2h0m25.2 7.6h0m-5.9 11.3h0m-0.3-13.5h0m-14.4-26.2h0"/>
<path stroke="#00A070" d="M182.4 749.4h0m34.6-10.3h0m-9.6-30.5h0m-22.2 30h0m17.8 16.9h0m-0.3-10.1h0m5.1-61.1h0m-8.3 61.7h0m9 2.5h0m-13.5-22.8h0m-25.4 36.2h0m-69.1 4.5h0m69.8-72.9h0m12.7 27.7h0m26.1 18.2h0m-5.8-17.7h0m3.9 0.3h0m-26.3 0.2h0m-32.4 71.4h0"/>
<path stroke="#DB5C00" d="M187.2 737.8h0m-27.3 10.1h0m67.3-34.3h0m-27.1-10.7h0m-17.3 11.8h0m35.1-36.7h0m-33 16.5h0m23.5 37.6h0m-12.6-52.2h0m1.6 37.8h0m-29-5.8h0m64.3-26.8h0m-12.3 9.5h0m-0.8-11.1h0m-0.2 26.3h0m-53.3 46.3h0m29-24.1h0m-12.8-2.4h0m-20.8 6.5h0m54.8-42h0m-0.5 7.4h0m-24.4-11.7h0m18.9 56.1h0m-11.2-34.8h0m7.2 5.7h0m-7.2-31h0m-37.5 25.2h0m44.1 1h0m8.1-23.3h0m3.1 9.2h0m-3 1.1h0m12.2 30.1h0m-73.2 67.4h0m36-102.8h0"/>
<path stroke="#00A070" d="M207.3 700h0m9.5 23.5h0m-3.1-18.1h0m5.3 18.6h0m-24.6 114.2h0m22.4-132.3h0m2.1-18.7h0m-17.1 38.5h0m-21.2-8.5h0m19.6 19.1h0m5.6-22h0m6.2-30.3h0m-19.4 18.4h0m-15.3 30.6h0m45.2-17.9h0m-28.7-24.9h0m19.8 53.9h0m-21.9-26.8h0m-19.1-11.4h0m38.1 52.9h0m-7.1-66.2h0m6.6 27h0m7.8-32.2h0m-4.4 28.7h0m8.3-37.5h0m-10.2 16.7h0m2.2-9.7h0m-28.3 46.3h0m15.2-28.1h0m-47.9-13.8h0"/>
<path stroke="#DB5C00" d="M219.8 688.2h0m-27.7 48.6h0m19.8-26.7h0m-16.8-34.9h0m2.6 36.2h0m-8.3 45.8h0m2.7-40.7h0m5.9 9.9h0m26.5-29.4h0m8.3 4.2h0m-21.5-2.8h0m-30.7 75.6h0m12.5-22.7h0m-1.4-15.3h0m38.5-42.5h0m-7.6 32h0m-28.7-9.2h0m-12-15.8h0m14.5 3.4h0m-6.5 7.3h0m46.2-25.1h0m-23.5-6.2h0m-8.3 10.9h0m6.8-2.8h0m-4.6 11.8h0m-5.5 9.3h0m-51.8 79.3h0m61.2-74h0m-5.6-14.4h0m-12.7 5.5h0m25.3 2.4h0m-0.6 7.5h0m-25.7 15h0m-18.4 14h0m18.7-34.8h0m3.6-16.3h0m-20.7 66.3h0m-3.2-36.9h0m26.1-40.1h0"/>
<path stroke="#00A070" d="M420.3 767.5h0m-66.9-60.1h0m45.1 129.7h0m-18.2-101.2h0m-90.6 68.7h0m77.4-55.9h0m66.8-32.5h0m-39.1-27.6h0m23.1 109.1h0m18.9-113.2h0m-21.6 93.7h0m-34.3-73.7h0"/>
<path stroke="#DB5C00" d="M394.3 763.3h0m-17-70.8h0m51.3 41.3h0m-32.1 39.2h0"/>
<path stroke="#00A070" d="M330.6 720.1h0m-8.5 1.2h0m25.5 25.4h0m20.5-11.5h0m68.3-67.3h0"/>
<path stroke="#DB5C00" d="M418.1 672.6h0m-21.2 72.9h0m-93.3 83.5h0m80.9-111.9h0m6.2 36.6h0"/>
<path stroke="#00A070" d="M377.9 720.6h0m4.7 35.9h0"/>
<path stroke="#DB5C00" d="M398.3 697.2h0m11.9 77.4h0m-32.3-61.9h0"/>
<path stroke="#00A070" d="M402.9 747.5h0m27.1-78h0m2.8 69.8h0m-53.7 35.1h0m33.9 7.9h0m-30-91.8h0m54.1-3.4h0m-1.2 18.7h0m-6.6 41.3h0"/>
<path stroke="#DB5C00" d="M370.6 741.5h0m12.5 50.4h0m50.8-116.7h0m-20.2 92.4h0m-3.6-20.1h0m21.7-73.3h0"/>
<path stroke="#00A070" d="M396.3 752.4h0m5.8 17.2h0m27.3-33.2h0m-101.5 33.5h0m-15.5-69.5h0m62-3.9h0m64.3-2.8h0"/>
<path stroke="#DB5C00" d="M389.5 712.5h0m-10-11.6h0m39.6 53.3h0m-13.4-4.5h0m-9.3 1.7h0"/>
<path stroke="#00A070" d="M399 760.3h0m37.3-49h0m-23.8 34.1h0m-52.6-4h0m-19.4-23.6h0"/>
<path stroke="#DB5C00" d="M418.8 758.6h0m-41.7-51.7h0m42.5 51.6h0m18.6-82h0m-7.7 52.1h0m-38.2-16.7h0m23.1-31.1h0m12.9-3.4h0m-38.3 88.6h0m23.1-0.5h0m-10.7-16.1h0m0 14.1h0"/>
<path stroke="#00A070" d="M396.4 700.6h0m-21.7 0.7h0m-102.8 120.4h0"/>
<path stroke="#DB5C00" d="M382.3 711h0m56.2-12.6h0m-28.7 66h0m-26.7-65.1h0m27.6 66.6h0m-8.6-27.7h0"/>
<path stroke="#00A070" d="M414.1 744.6h0m-32.8-11.9h0m19.6-44.2h0m-28.2 32.3h0m-52.9-41.2h0m44 104.2h0m70.3-75.2h0m-150.6 77.5h0m111.2-49.8h0m-3.7-30.8h0m29.9 59.3h0m-53.6-55.1h0"/>
<path stroke="#DB5C00" d="M428.2 678.2h0m8 18.1h0m-0.3-9.8h0m-12.5 75.6h0m-114.7 55.3h0m121.9-90.7h0m-38.9-5.5h0m-8.1 55h0"/>
<path stroke="#00A070" d="M436 690.9h0m-27.2 68.3h0m26.6-77.5h0m-6.5 53.7h0m-38.7-8.2h0m38.3 31.6h0m-14.9-75.7h0m-35.9 93.2h0m22.9-54.5h0m-24.6-13.9h0m58.6-20.7h0m-6.2 68.2h0"/>
<path stroke="#DB5C00" d="M402.3 694.2h0m-7.6 90.8h0m38-72.6h0m2.4-15.4h0m-35.7 61.8h0m8.6 4.4h0m-8.1-46.3h0m-1.8 30.3h0m-4.9 22.5h0m5.7-76.3h0m6.6-3.7h0m-23.6 36.9h0m12.4-3h0m16.5 13.6h0"/>
<path stroke="#00A070" d="M406 714.9h0m26.4 7.2h0m-0.7-5.1h0m2 41.9h0m-51.4-12.7h0m-41.2 24.3h0m61.2-40.2h0m-66.7-39.7h0m40.2 28.3h0m45 52.3h0m-25.7-69.2h0m33.5 29.1h0m-20.9-46.7h0m18.4-7.4h0"/>
<path stroke="#DB5C00" d="M394 720.6h0m14.7-35.6h0m-27.9 63.6h0m37-11.7h0m-10.8-11.7h0m9.9-49h0m-17.6 75.6h0m24.2-9h0m-24.6-35.6h0m26.7 26.9h0m-8.2 16.3h0m-8.5-61.2h0m-17.6 24.6h0m26.3-12.1h0m4.5 31.9h0m-52.2 43.9h0m36.6-30.5h0m-17-29.1h0m25.5 8.8h0m-17.6 11.3h0m17-30.7h0m6.2-9h0"/>
<path stroke="#00A070" d="M400.1 749.4h0m31.8-10.3h0m-8-30.5h0m-18.2 30h0m7.1 16.9h0m2.1-10.1h0m1.5 0.6h0m8 2.5h0m-11.6-22.8h0m20.4-42.8h0m-53.8 79h0m-72.3 4.5h0m66.3-72.9h0m24 27.7h0m26.9 18.2h0m-8.2-17.7h0m6.2 0.3h0m-24.7 0.2h0m31.3-24.9h0m-81.9 96.3h0"/>
<path stroke="#DB5C00" d="M422.6 737.8h0m-23.6 10.1h0m29.4-67.9h0m-29.7 22.9h0m35.3-24.9h0m-12.1 54.1h0m-1.4-52.2h0m-12.3 37.8h0m-11.4-5.8h0m16.7-28.4h0m13.8 26.3h0m-17.5 46.3h0m-3.2-24.1h0m-10.8-2.4h0m3 6.5h0m37-34.6h0m-26.7-11.7h0m-2.7 56.1h0m17.5-34.8h0m-10 5.7h0m12.3-17.9h0m5.9 13.1h0m-32-13h0m24.1 30.1h0m-58.1 67.4h0m43.5-102.8h0"/>
<path stroke="#00A070" d="M432 705.4h0m-0.2 18.6h0m-25.5 114.2h0m25.7-132.3h0m-14.4 19.8h0m-19.1-8.5h0m18.1 19.1h0m3.3-22h0m-32.5 18.7h0m47.2-17.9h0m-22.3-24.9h0m16.3 53.9h0m-17.7-26.8h0m15.5-29.9h0m-49.8 18.5h0m49.5 52.9h0m-11-66.2h0m11.3 27h0m7.7-32.2h0m-8.7 10h0m0.7 18.7h0m8.6-37.5h0m-8.9 16.7h0m3.5-9.7h0m-21.3 46.3h0m4.5-28.1h0m-52.6-13.8h0"/>
<path stroke="#DB5C00" d="M419.1 688.2h0m-10.5 48.6h0m-5.5-26.7h0m20.7-34.9h0m2.3 36.2h0m-18.1 45.8h0m0.7-40.7h0m9 9.9h0m8.9-25.2h0m-10-2.8h0m0.3 75.6h0m-33.9-22.7h0m29.5-15.3h0m21.6-42.5h0m-5.9 32h0m-16.6-9.2h0m-4.2-15.8h0m0.7 3.4h0m-2.6 7.3h0m18-25.1h0m3.1-6.2h0m-7.1 10.9h0m1.4-2.8h0m-22.3 11.8h0m16 9.3h0m-58.5 79.3h0m68.8-74h0m-1.1-14.4h0m-18.3 5.5h0m23.1 2.4h0m-5.8 7.5h0m-34.4 15h0m19.2 14h0m-5.7-34.8h0m14.8-16.3h0m-11 66.3h0m19-36.9h0m-2-40.1h0"/>
<path stroke="#00A070" d="M541.4 767.5h0m-32.8 69.6h0m-18.4-32.5h0m9.4-55.9h0m19.1 49h0m-13-19.5h0"/>
<path stroke="#DB5C00" d="M557.5 728.8h0m51.9-35.1h0m-108.6-12.1h0m22.8 81.7h0m71.8-38.1h0m10.5-13.4h0m8.7-16.2h0m-22.4 14.4h0m-9.3-6.5h0m-83 69.5h0m-13.3-20.2h0m118.1-76.9h0"/>
<path stroke="#00A070" d="M565.4 686.9h0m-15.2 48.5h0m-64.5-0.2h0m44.5-63h0m20.1-4.3h0"/>
<path stroke="#DB5C00" d="M596.2 731.1h0m7.8-48.2h0m-46.2-10.3h0m48.7 29.9h0m-24.6-12.1h0m-111 138.6h0m98.1-110.2h0m0-1.7h0m-71.7-31.6h0m110.7 39.5h0m-115.9-25.5h0m-18.7 23.5h0m8.3 30.7h0"/>
<path stroke="#00A070" d="M556.3 739.6h0m-19.5 16.9h0m-33.9-16.4h0m20.4 22.4h0"/>
<path stroke="#DB5C00" d="M578.3 704.3h0m5-4h0m-27.9-22.9h0m-57.7 5.7h0m5.5 75h0m-13.9 16.5h0m-1.2-33.4h0m94.3 13.6h0m-9.5-28.7h0m59.9-26h0m-26.7-19.5h0m-37.6 34h0m43.1-27.3h0m-126 16.9h0m2.9-4.7h0"/>
<path stroke="#00A070" d="M531.5 669.5h0m-47.6 104.9h0m31 7.9h0m-0.2-35.2h0"/>
<path stroke="#DB5C00" d="M559.7 739.4h0m24.8-15.7h0m-89.7 17.8h0m-12.1-42.2h0m58.5-22.9h0m-69.1 115.5h0m107.9-45.8h0m26.8-43.7h0m-33.6-27.2h0m-93.8 22.3h0m56.5 70.1h0m-5.1-20.1h0m-21.4-19.7h0m81.4 0.5h0m10.8-54.1h0m-6.8 21.6h0"/>
<path stroke="#00A070" d="M502.7 752.4h0m-15.4 17.2h0m61.5-33.2h0m-49.5 33.5h0"/>
<path stroke="#DB5C00" d="M577.2 680.7h0m-91.1 11.7h0m130.1 26.8h0m-119.6-23.7h0m-6.9 12.8h0m37.1 45.9h0m55-49.5h0m-89.8 59.8h0m89.2-37.8h0m-96.2-40.5h0m14.5-1.7h0m84.9 34h0m-102.5 31.2h0m48 1.7h0m14.1-22.9h0m-55.4-16.5h0"/>
<path stroke="#00A070" d="M507.5 723.5h0m-8.2 36.8h0m9-37.8h0m47.1 22.9h0m-6.8-26.3h0m-18.6 22h0m11.6-16.9h0m11.8-45.1h0m-16.1-0.3h0"/>
<path stroke="#DB5C00" d="M523 758.6h0m-14.1-52.9h0m17.9-24.2h0m-15.5 77h0m58.5-82h0m-22.6 38.7h0m48.1-10.2h0m-5.6-23h0m5.4-1.2h0m-72.5-3.4h0m-37.2 47.1h0m61.5-7.6h0m-32.8 49.1h0m96.8-54.7h0m-62.9 54.2h0m-25.2-16.1h0m-6.6 14.1h0m22-27.9h0"/>
<path stroke="#00A070" d="M562.4 705.3h0m-24.9 21.8h0m-43.7 7.3h0m36.7-53h0m-39.4 44.9h0m-0.7-25h0m-16.1 120.4h0"/>
<path stroke="#DB5C00" d="M484.5 711h0m81-12.6h0m6.1 3.3h0m-88.5 38.4h0m69.8 24.3h0m-8.2-49.4h0m40-25.2h0m28.1 15h0m-88.6-21h0m-40.9 49.3h0m7.8-14.7h0m-9.3-35.1h0m55.6 82.6h0m35.2-72.2h0m7.1 27.4h0m-15-34.6h0m-27.4 40.1h0m66.5-35.3h0m-64.8 45.2h0m-29.3-27.7h0"/>
<path stroke="#00A070" d="M511.9 744.6h0m-4.9-44.8h0m25.2 19.7h0m-44 64.3h0m24.9-56.6h0m-9.3 58.9h0m33.4-71h0m31.3-3.2h0m-40.6 52.9h0m-24.3-55.1h0m63.9-12.7h0m-23.2 26h0m-27.2 18.9h0"/>
<path stroke="#DB5C00" d="M521.6 678.2h0m71.4 11.7h0m-19.2 10.2h0m-13.8 20.2h0m41.6-23.1h0m-75.8 64.9h0m69.8-71.4h0m-35.9 13.4h0m8.6-14.7h0m-68.7 15.5h0m-28 112.5h0m28.9-110.9h0m51.8 22.1h0m-41.7 47.6h0m57.2-48.3h0m-71.5-32.9h0m49.7 17.1h0m16.9-2.4h0m64.4-15h0"/>
<path stroke="#00A070" d="M533.7 726.8h0m-28.8 7.6h0m30.7 24.8h0m26-46.3h0m-46.3 10.7h0m-8.2 11.8h0m-5.1-8.2h0m41 31.6h0m-39.4 17.5h0m-10.6-54.5h0m29.3-36.1h0m-14.1 36h0m-2.9 33.7h0"/>
<path stroke="#DB5C00" d="M533.9 682.7h0m14.2 16.8h0m2.8 5.3h0m-50.7 2.9h0m19.7 4.1h0m-2.3-8.7h0m-34 81.9h0m51.5-56.7h0m22.9-15.9h0m25.9-15.4h0m-90.3 61.8h0m37.3-36.7h0m25.9 41.1h0m-71.6-16h0m19.6-33.5h0m65.4-22.9h0m8.7 78.9h0m-90.6-80h0m13.3 27.3h0m-6.6 7.7h0m-0.1-12h0m-19.4 13.9h0m98.8-3h0m-5.6-16.4h0m-32.9 30h0m52.7-55h0"/>
<path stroke="#00A070" d="M551.2 722.1h0m-21.3 36.8h0m-3.6-71h0m-23.6 11.7h0m5.7 70.9h0m17.8-40.2h0m23-35h0m-30.6-4.7h0m-17.3 80.6h0m19.8-87.8h0m14.7 47.7h0m-11.4-41.3h0m-12.8 30h0m13.4 9.6h0m19.3-52.4h0"/>
<path stroke="#DB5C00" d="M485.3 693.2h0m103.5-1.9h0m-99 23.5h0m54.4 5.8h0m-4.1-35.6h0m-38.8 63.6h0m11-12.7h0m-3.8 1h0m70.2-22.8h0m-78.3 11.1h0m7.3-49h0m68.1 75.6h0m-49.7-9h0m-51.2-35.6h0m59.8 26.9h0m-42.1 16.3h0m6.3-58.3h0m11.6-2.9h0m-15.9-0.2h0m-14.9 24.8h0m31.1-12.1h0m15.3 31.9h0m75.7-13.1h0m-97.4 57h0m36.1-30.5h0m-28.2-59.1h0m-17.6 31.2h0m73.1 7.6h0m-24 11.3h0m18.1-43.9h0m-12.4 30.4h0m-28.8-39.2h0m4.8 22h0m-11.9-9h0"/>
<path stroke="#00A070" d="M512.6 749.4h0m12.9-55.9h0m20.7 4.6h0m-9.8 41h0m-24.3-42.4h0m27.8-3.5h0m-44.1 22.4h0m18.1-7h0m-11 30h0m56.4-41.7h0m2.3-9.6h0m-3.1 68.2h0m-16-10.1h0m-11.1-61.1h0m-24 61.7h0m14 2.5h0m-8.8-22.8h0m41.1-42.8h0m-44.1 79h0m-8.1 4.5h0m30.9-72.9h0m0.9 21.4h0m-6.4 24.5h0m10.5-56.7h0m3.9 39h0m10.7-12.6h0m-23 12.9h0m-15.6 0.2h0m25.6-24.9h0m-18.2 21.6h0m-22.2 74.7h0"/>
<path stroke="#DB5C00" d="M515.7 737.8h0m-35.2 10.1h0m98.7-34.3h0m-21.9-33.6h0m-7.2-2h0m-49.5 16.5h0m34.5 37.6h0m-14.5-52.2h0m21.1 37.8h0m-56.1-5.8h0m139.9-26.8h0m-81 26h0m-29.1-21.6h0m73.4 5.1h0m9.8-11.1h0m-23 26.3h0m-94.9 46.3h0m32.8-26.5h0m-24.4 6.5h0m61.3-42h0m-48.8-3.9h0m25.3-0.4h0m25.2 56.1h0m-1.3-34.8h0m-31.4-25.3h0m-15.9 13.1h0m-19.5 12.1h0m33.1 1h0m33.6-23.3h0m30.5 9.2h0m-23.7 1.1h0m37.2 30.1h0m-116.1 67.4h0m48.6-102.8h0"/>
<path stroke="#00A070" d="M519.7 700h0m32 23.5h0m-56.8-18.1h0m65.3 18.6h0m-49.7-14.4h0m1.1 128.6h0m23.4-132.3h0m1.2-18.7h0m-13.5 38.5h0m-7.6-8.5h0m-0.4 19.1h0m22.3-27.2h0m-1 5.2h0m-23.2-30.3h0m8 18.4h0m4.3 30.6h0m42.1-17.9h0m-55.7-24.9h0m9.9-2.5h0m14.8 56.4h0m-29.2-26.8h0m49.7-29.9h0m-18.1 18.5h0m-9.9 52.9h0m23.8-66.2h0m-34.6 27h0m2.3-32.2h0m20.7 10h0m16.7 18.7h0m7.5-37.5h0m-18.1 16.7h0m-13.2-9.7h0m-37.3 46.3h0m51.5-28.1h0m-4.4-13.8h0"/>
<path stroke="#DB5C00" d="M578.1 688.2h0m-56.5 48.6h0m20.1-26.7h0m-28.6-34.9h0m11 36.2h0m5.8 45.8h0m-11.9-40.7h0m6 9.9h0m47.4-29.4h0m22.6 4.2h0m-64.2-2.8h0m-27.3 75.6h0m33.5-22.7h0m-14.8-15.3h0m28.4-42.5h0m9.2 32h0m-35.6-9.2h0m-38.2-15.8h0m57.5 3.4h0m-49.9 7.3h0m95.6-25.1h0m-40.6-6.2h0m-2.9 10.9h0m1.1-2.8h0m12.9 11.8h0m-30.4 9.3h0m-54 79.3h0m42.5-74h0m22-14.4h0m-11.7 5.5h0m16.4 2.4h0m18.6 7.5h0m-40.1 15h0m-27.4 14h0m44.1-34.8h0m-28.5-16.3h0m-21.9 66.3h0m-16-36.9h0m33-40.1h0"/>
<path stroke="#00A070" d="M147 917.9h0m38.4 82.7h0m-100.4 32h0m73.5-97.5h0m46.3 56.1h0m-2.9-34.4h0m-5.2 24h0"/>
<path stroke="#DB5C00" d="M194.9 951.3h0m23.9-31.2h0m7.7-1.1h0m-3.2 0.3h0m-32.5 23.9h0m42.3-73.2h0"/>
<path stroke="#00A070" d="M122.6 932.2h0m-5.9-10.6h0m24.4 54.6h0m13.2-63.9h0m49.7 66.5h0m18.6-104.8h0"/>
<path stroke="#DB5C00" d="M234.8 882.4h0m2.1 14h0m-121.3 142.6h0m50.3-121.9h0m11.8-27.1h0m43.7 76.6h0m-68.3-46.5h0m19 26.4h0"/>
<path stroke="#00A070" d="M168.9 939.1h0m21.6 27.8h0"/>
<path stroke="#DB5C00" d="M181.3 883.4h0m-11.8 59.3h0m0.6-4.7h0m70.5-35.8h0m-19.1-24.9h0m-18.3 0.5h0"/>
<path stroke="#00A070" d="M188.5 935.9h0m29-7.9h0m-60.8 8.7h0m46.1-60.4h0m6.9 72.2h0m2.8-10.5h0"/>
<path stroke="#DB5C00" d="M202.9 965.4h0m16.5-17.9h0m-40.5-50.1h0m-5.4 88.2h0m26.1-15.9h0m-32.1-72.6h0m40.4-25.6h0m31.2 19.2h0m-64.5 59.3h0"/>
<path stroke="#00A070" d="M179.1 947h0m-56.5-5.4h0m-14-28.2h0m55.8-8.4h0"/>
<path stroke="#DB5C00" d="M207.6 946.9h0m-24.8-51.4h0m-7.2 3.1h0m11.2 72.1h0m-10.8-70.8h0m-12.8 33.1h0m12.3-29.1h0"/>
<path stroke="#00A070" d="M199.5 935.4h0m2.8 18.9h0m-49.2-28.8h0m32.1-46.6h0m-53.4 20.5h0m67.5 35h0m7.1 30.6h0"/>
<path stroke="#DB5C00" d="M204.1 878.7h0m24.7 37.1h0m6.2-28h0m-12.9-8.5h0m11.8 37.9h0m-31 32h0m-6.9 15.4h0m6.3-29.8h0"/>
<path stroke="#00A070" d="M198.8 931.7h0m-5-49.9h0m-33.6 20.9h0m37.2 46.7h0m-123.4 74.2h0m110.9-69.3h0"/>
<path stroke="#DB5C00" d="M164.8 930.7h0m65.7-43.1h0m-1 24.2h0m1.7-17.9h0m3.7 22.7h0m-26.8-30h0m-29.7 25.1h0m30-34.8h0m-35.2 54.1h0m-8.7-28.3h0"/>
<path stroke="#00A070" d="M116.7 889.3h0m36.7 55.6h0m67.6-31.8h0m-136.7 82.6h0m95.6-30.1h0m-7.2-72.6h0m-13.9 12.4h0m41 59.7h0"/>
<path stroke="#DB5C00" d="M200.2 871.2h0m23.3 15.9h0m-11-7h0m-1.3 57.4h0m-0.7 6.4h0m-15.7-12.6h0m-5-47.7h0m-21.9 20.4h0m-52.3 96.3h0m80.4-49.8h0m-17.3 2.7h0m14.7-10.7h0m29.9-41.7h0m15.1 8.2h0m-23-29h0"/>
<path stroke="#00A070" d="M221.9 910.8h0m-25.7 19.7h0m25.8-49.7h0m-6.9-5.6h0m-12.7 71.3h0m11.9-3h0m-14.9-57.6h0m-32.5 105.3h0m9.7-78.8h0m29.5-25h0"/>
<path stroke="#DB5C00" d="M219.2 900.8h0m-3.1 23.3h0m-35.4-24.8h0m4.7 75h0m35.7-66.5h0m10.9 5.2h0m-57 23.9h0m56.6-35.5h0m-20.5 73h0m-23.3-84.6h0m-8.2 40.5h0m-5.6-6h0m-19.6-18.9h0m53.2 35.3h0m-9.4 7.7h0m-0.5-61.3h0m1.5-0.1h0"/>
<path stroke="#00A070" d="M190.4 936.8h0m25.8-9.6h0m2.2 25h0m-3.7-70.4h0m-21.5 7.1h0m-15 31.5h0m-41.7 59.2h0m81.6-77.6h0m-11.5 22h0m-18.9-4.4h0m-54.7-8.5h0m37.6-3.6h0m32.9 31.8h0m5.5-19.7h0m-13.6-32.3h0m15.7 30.1h0m-13.7-0.3h0m14.5-44.6h0"/>
<path stroke="#DB5C00" d="M180.8 900h0m47.2 6.8h0m-65.1-2.2h0m28.6 54.1h0m-11.3-19.5h0m4.3-22.9h0m6.2 18.7h0m28.4-15.8h0m-25.1-3.8h0m-6.3-20.2h0m21.7 36.3h0m-5.6 9.8h0m-40.6-37h0m43.4 52.1h0m-37.4-31.2h0m30.3-36.7h0m-13.5-14.1h0m-28.9 33.7h0m48.1 20.8h0m-10.7-3.4h0m-8.3 39.2h0m5.2-20.2h0m-6.5-18.1h0m19.3 2h0m-0.3 2.7h0m-5.7-15.2h0m-8.7-6.6h0"/>
<path stroke="#00A070" d="M182.4 937.7h0m2.8-26h0m17.8 54.5h0m-0.3-42.1h0m5.1-35.3h0m11.5-4.7h0m-49.7 28.5h0m-69.1 76.4h0m69.8-87h0m12.7 4.1h0m20.8 10.8h0m-22.9-12.7h0m-32.4 100.9h0"/>
<path stroke="#DB5C00" d="M187.2 897.8h0m-27.3 41.2h0m67.3-32.5h0m-44.4-16.8h0m35.1 14.1h0m-33-4.4h0m23.5 39.4h0m-12.6-45.4h0m1.6 33.7h0m-29-5.1h0m64.3-18.9h0m-17.3 22.2h0m-20.6-11.9h0m25.6-25.8h0m-0.8-2h0m-0.2 48.8h0m-53.3 40h0m29-25.3h0m-12.8-14.9h0m-20.8-8.8h0m29.9-23h0m14.9 16.9h0m-44.7-1.6h0m52.2-24.7h0m3.1 23.3h0m9.2 22.1h0m-73.2 50.6h0m36-86.9h0"/>
<path stroke="#00A070" d="M207.3 902h0m11.7-20.9h0m-24.1 28.1h0m-0.5 93.7h0m22.4-97.7h0m2.1-29.2h0m-17.1 54h0m-21.2-0.4h0m19.6-14.5h0m0.2-3.9h0m5.4 8.3h0m-13.2-23.9h0m-15.3 51.3h0m45.2-28.7h0m-28.7-47.3h0m17.9 24.9h0m1.9 37.8h0m-21.9-36.6h0m22-13.9h0m-41.1 51.6h0m38.1 29.5h0m-7.1-72.4h0m6.6 24.8h0m7.8-18h0m-7.1-7.5h0m2.7 21.1h0m8.3-14.8h0m-8-9.6h0m-28.3 18.1h0m15.2 4.4h0m-47.9-11.2h0"/>
<path stroke="#DB5C00" d="M219.8 896.7h0m-7.9 17.4h0m-16.8-38.4h0m2.6 25.3h0m-8.3 30.8h0m2.7-9.5h0m5.9 21.8h0m26.5-49.8h0m8.3 2.4h0m-21.5 4.4h0m-30.7 64.6h0m12.5-19.9h0m-1.4-25.8h0m38.5-38.5h0m-7.6 27.8h0m-28.7 17.8h0m-12-12.5h0m14.5-15.6h0m-6.5 21.8h0m46.2-20.8h0m-23.5-5.5h0m-8.3-1.3h0m6.8 9.5h0m-4.6 9.6h0m-5.5-10.4h0m-51.8 84.8h0m61.2-80.6h0m-5.6-0.6h0m-12.7-7.8h0m25.3-0.7h0m-0.6 16.5h0m-25.7 14.3h0m-18.4-4.1h0m18.7 7.7h0m3.6-36.5h0m-20.7 50.2h0m-3.2-26h0m26.1-31.1h0"/>
<path stroke="#00A070" d="M353.4 917.9h0m45.1 82.7h0m-108.8 32h0m77.4-97.5h0m50.8 56.1h0m-0.9-34.4h0m-1.8 24h0m-34.3-73.4h0"/>
<path stroke="#DB5C00" d="M394.3 951.3h0m-17-53h0m28.9-8.8h0m-4.4 77.3h0m30.6-96.8h0"/>
<path stroke="#00A070" d="M428.1 945.5h0m-97.5-13.3h0m-8.5-10.6h0m25.5 54.6h0m20.5-63.9h0m49.5 66.5h0m18.8-104.8h0"/>
<path stroke="#DB5C00" d="M303.6 1039h0m80.9-121.9h0m50.6-22.9h0m-15.4 72.4h0m-29-20.1h0"/>
<path stroke="#00A070" d="M377.9 939.1h0m4.7-4.3h0m24.3 32.1h0"/>
<path stroke="#DB5C00" d="M435.4 892.9h0m-57.5 7.4h0m14.2 19h0"/>
<path stroke="#00A070" d="M432.8 928h0m-53.7 8.7h0m3.9-22h0m52.9-3.3h0m-11.3 37.1h0m4.7-10.5h0"/>
<path stroke="#DB5C00" d="M410.2 965.4h0m17.6-17.9h0m-57.2-21.2h0m12.5 59.3h0m19.2-93.2h0m12.7 77.3h0m11.2-98.2h0m7.9 53.7h0"/>
<path stroke="#00A070" d="M429.4 929.8h0m-28.6 17.2h0m-72.9-5.4h0m-15.5-28.2h0m126.3-24h0"/>
<path stroke="#DB5C00" d="M389.5 946.9h0m13-51.4h0m-23 27.9h0m39.6 47.3h0m-28.2-60.5h0"/>
<path stroke="#00A070" d="M436.3 906.9h0m-23.8 47.4h0m-52.6-28.8h0m44.3-46.6h0m-63.7 20.5h0m79.8 65.6h0"/>
<path stroke="#DB5C00" d="M377.1 912h0m61.1-24.2h0m-45.9 31.2h0m23.1-39.7h0m-24.3 27.8h0m-1.1 22.4h0m22.9 11h0m0.2 8.7h0m-10.7 15.4h0m12.4-29.8h0"/>
<path stroke="#00A070" d="M396.4 903.3h0m14.5-21.5h0m16.1 53.8h0m-52.3-32.9h0m40.5 46.7h0m-143.3 74.2h0m126.8-69.3h0"/>
<path stroke="#DB5C00" d="M382.3 930.7h0m56.2-43.1h0m-28.7 60.4h0m12.1-71.1h0m-38.8 36.6h0m26.5 17.5h0m-13.2-27h0"/>
<path stroke="#00A070" d="M381.3 921.9h0m-8.6-1.4h0m-52.9-31.2h0m44 55.6h0m-80.3 50.8h0m111.2-30.1h0m-3.7-72.6h0m-23.7 12.4h0m48.8 59.7h0"/>
<path stroke="#DB5C00" d="M428.2 871.2h0m3.9 15.9h0m4.1-7h0m-0.3 26.3h0m-12.5 37.5h0m-6.8-60.3h0m-107.9 116.7h0m83-77.8h0m25.5 28h0m-33.6 2.7h0m25.8-10.7h0"/>
<path stroke="#00A070" d="M436 910.8h0m-10.1 15.4h0m-3.2-1.3h0m12.7-44.1h0m-5-5.6h0m-40.2 37.4h0m27 33.9h0m11.3-3h0m-50.8 47.7h0m-1.7-70.6h0m58.6-28.6h0"/>
<path stroke="#DB5C00" d="M424.8 924.1h0m-24.8-24.8h0m-5.3 75h0m40.4-61.3h0m-41.9 61.4h0m5.7-56.3h0m6.6-25.4h0m-23.6 12.7h0m12.4 35.3h0m10 7.7h0m6.5-61.3h0"/>
<path stroke="#00A070" d="M406 936.8h0m26.4-46.7h0m-0.7 37.1h0m2 25h0m-51.4-31.8h0m-41.2 59.2h0m80.3-55.6h0m-19.1-4.4h0m-66.7-8.5h0m40.2-3.6h0m19.3 26.8h0m35.4-38.6h0m-7.1 23.9h0m-15.7-32.3h0m21.1 3.7h0m-2.7-18.5h0"/>
<path stroke="#DB5C00" d="M432.9 906.8h0m-38.9 51.9h0m-13.2-19.5h0m37-4.2h0m5.7 6.3h0m2.1 15.1h0m-16.7-67.9h0m10.5-14.1h0m-28.1 33.7h0m27.9 20.8h0m-49.3 35.8h0m36.6-57.8h0m-17 37.6h0m29.7-18.1h0m-21.8 2h0m22.7-42.3h0m-3.4 45h0"/>
<path stroke="#00A070" d="M400.1 937.7h0m31.8-25h0m-24-9.2h0m-2.2 8.2h0m25.4-26.2h0m1.2 25.1h0m-19.5 55.6h0m2.1-42.1h0m18.3-40h0m-53.8 28.5h0m-72.3 76.4h0m66.3-87h0m24 4.1h0m18.7-2.1h0m-18.5 0.2h0m-50.6 100.9h0"/>
<path stroke="#DB5C00" d="M399 939h0m-0.3-35.4h0m35.3 0.2h0m-12.1 35h0m-25.1-16.8h0m32.6 3.3h0m-9.9-11.9h0m3.6-25.8h0m-9.6-2h0m13.8 48.8h0m-17.5 40h0m-3.2-25.3h0m-10.8-14.9h0m3-8.8h0m37-26h0m-21.9 19.9h0m18.8-13.6h0m-0.6 5.1h0m-32-14.5h0m24.1 42.1h0m-58.1 50.6h0"/>
<path stroke="#00A070" d="M430.2 907.7h0m1.8-1h0m-0.2-25.6h0m-18 28.1h0m-7.5 93.7h0m25.7-97.7h0m1.9-29.2h0m-16.3 54h0m-19.1-0.4h0m18.1-14.5h0m-2.4-3.9h0m5.7 8.3h0m9.4-24.9h0m-19.9 1h0m-22 51.3h0m47.2-28.7h0m-22.3-47.3h0m15.9 24.9h0m0.4 37.8h0m-17.7-36.6h0m15.5-13.9h0m-49.8 51.6h0m49.5 29.5h0m-11-72.4h0m11.3 24.8h0m7.7-18h0m-8 13.6h0m8.6-14.8h0m-8.9 15.9h0m3.5-25.5h0m-21.3 18.1h0m4.5 4.4h0m-52.6-11.2h0"/>
<path stroke="#DB5C00" d="M403.1 914.1h0m20.7-38.4h0m2.3 25.3h0m-18.1 30.8h0m9.7 12.3h0m-0.4-49.8h0m-0.4 71.4h0m-33.9-19.9h0m29.5-25.8h0m21.6-38.5h0m-5.9 27.8h0m-16.6 17.8h0m-4.2-12.5h0m0.7-15.6h0m-2.6 21.8h0m18-20.8h0m3.1-5.5h0m-7.1-1.3h0m1.4 9.5h0m-22.3 9.6h0m16-10.4h0m-58.5 84.8h0m68.8-80.6h0m-1.1-0.6h0m-18.3-7.8h0m23.1-0.7h0m-5.8 16.5h0m-34.4 14.3h0m19.2-4.1h0m-5.7 7.7h0m14.8-36.5h0m-11 50.2h0m19-26h0m-2-31.1h0"/>
<path stroke="#00A070" d="M508.6 1000.6h0m49.7-122.6h0m-68.1 154.6h0m49.3-157.7h0m-20.8 116.3h0m16.9-40.8h0m-11.1 6.4h0m-12.3-71.6h0m51.8 39.7h0m-58.3 55.9h0"/>
<path stroke="#DB5C00" d="M609.4 904.3h0m-85.8 47h0m71.8-31.2h0m10.5-7h0m8.7-19.3h0m-22.4 25.2h0m-9.3 0.3h0m-51.1 47.5h0m72.9-96.8h0"/>
<path stroke="#00A070" d="M531.7 976.2h0m9.6 2.6h0m-17.5-43.5h0m26.5-61.3h0m-45.1 8h0"/>
<path stroke="#DB5C00" d="M544.9 876.8h0m59.1 5.6h0m2.5 14h0m-24.6-4h0m-111 146.6h0m18.4-149h0m79.7 36.6h0m-71.7-45.5h0m99.3 12.9h0m11.4 72.6h0m-134.6-46.5h0m24.5 15.9h0m-16.2 10.5h0"/>
<path stroke="#00A070" d="M556.3 927.4h0m-40.3 11.7h0m7.3 27.8h0"/>
<path stroke="#DB5C00" d="M578.3 908.8h0m-80.6-25.4h0m5.5 59.3h0m-13.9-4.7h0m93.1-4h0m-30.2-5h0m20.7-4.8h0m59.9-22h0m-26.7-1.3h0m5.5-1.2h0m-100.8-21.9h0"/>
<path stroke="#00A070" d="M526 935.9h0m-11.1 11.6h0m-8.4-16.8h0m26.2 17.8h0m-18-10.5h0"/>
<path stroke="#DB5C00" d="M559.7 946h0m-23 19.4h0m47.8-17.9h0m-101.8-50.1h0m-10.6 88.2h0m107.9-61.4h0m26.8-24.3h0m-63.2 69.8h0m-64.2-72.6h0m62.3-25.6h0m59.9 19.2h0m-6.8 17.3h0m-101.7 42h0"/>
<path stroke="#00A070" d="M487.3 910.2h0m55.4 32.4h0m8-6.6h0m10.1-4h0m-55.7-44.3h0m49.5-10.7h0m-51.1 70h0m-4.2-5.4h0"/>
<path stroke="#DB5C00" d="M578.3 946.9h0m-1.1-53.9h0m-81.2 2.5h0m120.2 16.9h0m-119.2-10.6h0m-7.3-3.2h0m37.1 72.1h0m54.4-69.5h0m-37.4 34.5h0m-58.8-35.8h0m14.5 0.4h0m84.9 14.7h0m-102.5 18h0m6.7-29.1h0"/>
<path stroke="#00A070" d="M499.3 937h0m56.1 17.3h0m-44-75.4h0m30.2 86.1h0"/>
<path stroke="#DB5C00" d="M526.8 878.7h0m-24.6 46.4h0m66.6-9.3h0m1-28h0m-22.6 43.4h0m48.1-28.8h0m-5.6 9.2h0m5.4-32.3h0m-109.7 46h0m17.7 15.2h0m107.8-23.3h0m-62.9 32h0m-25.2 15.4h0m-23.2-73.7h0"/>
<path stroke="#00A070" d="M517.5 931.5h0m1.4-49.7h0m-28.5 20.9h0m28.2 46.7h0m-44.3 74.2h0m53.9-69.3h0"/>
<path stroke="#DB5C00" d="M484.5 930.7h0m81-43.1h0m6.1 24.2h0m-88.5 9.7h0m69.8 26.5h0m31.8-54.1h0m28.1 22.7h0m-129.5-4.9h0m49.5-34.8h0m-41.7 54.1h0m-9.3-28.3h0m90.8 0.7h0m7.1 4.5h0m24.1-12.6h0"/>
<path stroke="#00A070" d="M529.2 879.5h0m-41 65.4h0m15.6 50.8h0m18-30.1h0m-23.4-72.6h0m70.1 20.8h0m-40.6 8.6h0m39.6-33.3h0m-23.2 39.7h0m-27.2 36.3h0"/>
<path stroke="#DB5C00" d="M521.6 871.2h0m71.4 15.9h0m-54.7-7h0m35.5 25.7h0m-13.8 31.7h0m41.6-33.3h0m-6 1.3h0m-27.3-0.1h0m-43-21.8h0m-53.7 116.7h0m82-83.5h0m-27.7 33.7h0m-15.3 2.7h0m57.2-34.5h0m-45.5 23.8h0m-26-18.7h0m131-14.8h0m-80.2-29h0"/>
<path stroke="#00A070" d="M524 932.4h0m7.7-33.9h0m-26.8 22.5h0m30 5.2h0m22.3-45.4h0m-29.5-5.6h0m15.3 68.3h0m-7.1-57.6h0m-32.3 105.3h0m-10.6-78.8h0m41.8-20.4h0m-12.5-4.6h0m10.3 24.6h0m-27.3 8.4h0"/>
<path stroke="#DB5C00" d="M531.6 905.1h0m2.3-19.7h0m30.5 15.4h0m-13.5 23.3h0m-50.7-24.8h0m37-1.6h0m-53.6 76.6h0m51.5-54.6h0m22.9-11.9h0m25.9 5.2h0m-90.3 15.6h0m37.3-11.2h0m25.9 6.6h0m-71.6 12.9h0m19.6-32.3h0m65.4-3.2h0m8.7 73h0m-90.6-84.6h0m13.3 40.5h0m-6.6-15.8h0m-0.1 9.8h0m65.5-31.6h0m-84.9 12.7h0m98.8 35.3h0m-5.6 7.7h0m-32.9-61.3h0m-27.8-0.1h0m80.5 22.3h0"/>
<path stroke="#00A070" d="M527.9 936.8h0m-0.1-9.6h0m2.1 25h0m-3.6-70.4h0m-18.3 7.1h0m37.4 30.3h0m-42.7-20h0m5.7 80.4h0m30.3-55.6h0m-12.5-4.4h0m13.3-30.4h0m-38.2 50.1h0m24.6-5h0m16.6-14.7h0m2.9-32.3h0m-2.9 30.1h0m-17.5-0.3h0m3.5-26.1h0m15.8-18.5h0"/>
<path stroke="#DB5C00" d="M485.3 900h0m103.5 6.8h0m-99-2.2h0m54.4 54.1h0m-42.9-19.5h0m11-22.9h0m-3.8 18.7h0m70.2-15.8h0m-78.3-3.8h0m7.3-20.2h0m68.1 36.3h0m-49.7 9.8h0m-51.2-37h0m59.8 52.1h0m-42.1-31.2h0m17.9-36.7h0m-15.9-14.1h0m-14.9 33.7h0m54.4 20.8h0m-23.3-3.4h0m91-9.7h0m-97.4 48.9h0m23.1-20.2h0m-32.8-18.1h0m73.1-21h0m-24 23h0m18.1-42.3h0m-12.4 45h0m-28.8-41h0"/>
<path stroke="#00A070" d="M512.6 937.7h0m23.8-25h0m3.5-2.4h0m-11.6 4.1h0m-32.5-10.9h0m18.1-14h0m-11 22.2h0m56.4-26.2h0m2.3 25.1h0m-3.1 55.6h0m-16-42.1h0m-11.1-35.3h0m-24 13.3h0m14 12.7h0m-8.8-8.6h0m41.1-22.1h0m-44.1 28.5h0m-8.1 76.4h0m30.9-87h0m0.9 14.9h0m-6.4-8.7h0m10.5-13h0m3.9 8.8h0m-12.3 12.9h0m-15.6-12.7h0m25.6-8.4h0m-18.2 14.2h0m-22.2 95.1h0"/>
<path stroke="#DB5C00" d="M515.7 897.8h0m-35.2 41.2h0m98.7-32.5h0m-21.9-2.4h0m-17.3-0.5h0m-25.6-13.9h0m35.7 14.1h0m-49.5-4.4h0m34.5 39.4h0m-14.5-45.4h0m21.1 33.7h0m-56.1-5.1h0m139.9-18.9h0m-81 22.2h0m44.3-37.7h0m9.8-2h0m-23 48.8h0m-94.9 40h0m35.7-25.3h0m-2.9-14.9h0m-24.4-8.8h0m61.3-11.1h0m-48.8-10.9h0m25.3-1h0m25.2 11.8h0m-1.3-15.2h0m9.3 20.3h0m-40.7-13.6h0m-15.9-3.8h0m-19.5 15.8h0m33.1-6.9h0m33.6-17.8h0m30.5 23.3h0m-23.7-20h0m37.2 42.1h0m-116.1 50.6h0m48.6-86.9h0"/>
<path stroke="#00A070" d="M519.7 902h0m32 5.7h0m-56.8-1h0m65.3-25.6h0m-49.7 28.1h0m1.1 93.7h0m23.4-97.7h0m1.2-29.2h0m-13.5 54h0m-7.6-0.4h0m-0.4-14.5h0m22.3-3.9h0m-1 8.3h0m-23.2-24.9h0m8 1h0m4.3 51.3h0m42.1-28.7h0m-55.7-47.3h0m9.9 24.9h0m14.8 37.8h0m-29.2-36.6h0m49.7-13.9h0m-18.1 51.6h0m-9.9 29.5h0m23.8-72.4h0m-34.6 24.8h0m2.3-18h0m20.7-7.5h0m16.7 21.1h0m7.5-14.8h0m-18.1 15.9h0m-13.2-25.5h0m-37.3 18.1h0m51.5 4.4h0"/>
<path stroke="#DB5C00" d="M578.1 896.7h0m-56.5 27.7h0m20.1-10.3h0m-28.6-38.4h0m11 25.3h0m5.8 30.8h0m-11.9-9.5h0m6 21.8h0m47.4-49.8h0m22.6 2.4h0m-64.2 4.4h0m-27.3 64.6h0m33.5-19.9h0m-14.8-25.8h0m28.4-38.5h0m9.2 27.8h0m-35.6 17.8h0m-38.2-12.5h0m57.5-15.6h0m-49.9 21.8h0m95.6-20.8h0m-40.6-5.5h0m-2.9-1.3h0m1.1 9.5h0m12.9 9.6h0m-30.4-10.4h0m-54 84.8h0m42.5-80.6h0m22-0.6h0m-11.7-7.8h0m16.4-0.7h0m18.6 16.5h0m-40.1 14.3h0m-27.4-4.1h0m44.1 7.7h0m-28.5-36.5h0m-21.9 50.2h0m-16-26h0m33-31.1h0"/>
<path stroke="#00A070" d="M736.1 929.9h0m-68.3 70.7h0m31.8 32h0m106.4-157.7h0m-99.6 116.3h0m68.5-40.8h0m-18 6.4h0m-31.4 24h0"/>
<path stroke="#DB5C00" d="M740.1 951.3h0m73.9-37.9h0m-83.3 20.1h0m10.7 33.3h0m84.4-96.8h0"/>
<path stroke="#00A070" d="M756.4 976.2h0m4.9 2.6h0m68.1-101.7h0m4.3-3.1h0"/>
<path stroke="#DB5C00" d="M805.6 876.8h0m23.5 29.7h0m-153.3 132.5h0m101.9-72.4h0m-28.2-20.1h0"/>
<path stroke="#00A070" d="M745.5 919.2h0m35.9-18.9h0m-40.5 66.6h0"/>
<path stroke="#DB5C00" d="M729.1 938h0m79.4-9h0"/>
<path stroke="#00A070" d="M832.1 907.8h0m-29.3 19.4h0m-73.5 9.5h0m-7.8 10.8h0m50.5 1h0"/>
<path stroke="#DB5C00" d="M763.5 946h0m1.8 19.4h0m13.7-17.9h0m46.3-65.7h0m-113.2 103.8h0m114.4-92.6h0m-40.2 76.7h0m-50.4-59h0m19.7 31.7h0m18.8-42.1h0m42.7-28.8h0m10.3 19.2h0m-73 59.3h0"/>
<path stroke="#00A070" d="M750.9 939h0m-17-28.8h0m65.2 21.8h0m-9.9-44.3h0m-55.5 53.9h0"/>
<path stroke="#DB5C00" d="M768.1 904.5h0m-19.1 66.2h0m27-69.5h0m-24.1 29.4h0"/>
<path stroke="#00A070" d="M743.1 937h0m49.5 3.5h0m-34.9 13.8h0m-16.9-21.1h0m42.7-35.9h0m-21.6 45.4h0m22.9-43.3h0m-6.3 65.6h0"/>
<path stroke="#DB5C00" d="M807.3 925.1h0m-62.4-4.4h0m80.4-32.9h0m-5.4 23.8h0m1.1-32.3h0m3.3 25.1h0m-86.8 25.1h0m52.4 11h0m-52 8.7h0m15.9 15.4h0m-13.9-35.3h0"/>
<path stroke="#00A070" d="M797.9 881.8h0m9.1 53.8h0m7.4-11.2h0m-24.3 25h0m31.7-42.5h0m-138.9 116.7h0m85.8-69.3h0"/>
<path stroke="#DB5C00" d="M803.8 887.6h0m-41 33.9h0m-23.8 26.5h0m72.1-71.1h0m-73.5 38h0m27.2-13.4h0m11.3 0.5h0m-9.7 6.4h0"/>
<path stroke="#00A070" d="M758.4 902h0m47.3-22.5h0m-3.3 12.3h0m19.8-2.5h0m-102.2 55.6h0m-2.2 50.8h0m48.8-30.1h0m9.2-44.9h0m21-27.7h0m-58.1 29.4h0m66.4-33.3h0m-25.4 39.7h0m-18.6 36.3h0"/>
<path stroke="#DB5C00" d="M823.5 871.2h0m-17.6 8.9h0m-23.6 57.4h0m-41 6.4h0m55.1-60.3h0m-109.3 116.7h0m94.3-77.8h0m20.7 28h0m-74.6 2.7h0m57.8-10.7h0m21.8-18.7h0m12.7-43.8h0"/>
<path stroke="#00A070" d="M815.6 911.3h0m-71.5 19.2h0m38.5-5.6h0m37.5-44.1h0m-25.6-5.6h0m-14 71.3h0m-35.9-3h0m33-40.1h0m-50.2 87.8h0m20.5-70.8h0"/>
<path stroke="#DB5C00" d="M819.1 885.4h0m-16.4 35.5h0m-5.2 3.2h0m1.7-8h0m-80.3 58.2h0m55.6-54.6h0m-30 8.9h0m-4.3-4.6h0m-6.3 50.4h0m51.6-44.1h0m-9.3-24.9h0m2.9 35.3h0m16 7.7h0m-29.4-61.3h0m53.9 22.2h0"/>
<path stroke="#00A070" d="M787.6 936.8h0m-7.1-46.7h0m-36 62.1h0m48.6-33h0m-36.2 1.2h0m-23.8 59.2h0m77.7-55.6h0m-38.3-4.4h0m20.1-30.4h0m-60.2 50.1h0m67.8-5h0m7.4-14.7h0m-35.5-12.6h0m-0.4 9.7h0m40.8 0.7h0m-29.8-13.9h0m-9.3 13.6h0m51.3-44.6h0"/>
<path stroke="#DB5C00" d="M782 958.7h0m-15-42.4h0m-1 18.7h0m11.5-19.6h0m48.1-20.2h0m-74.2 36.3h0m8.8 9.8h0m8.6 15.1h0m-16-31.2h0m60.2-50.8h0m-12.5 51.1h0m-31.3-9.4h0m-43 48.6h0m30-57.8h0m28.5 37.6h0m-1.2-18.1h0m-7.5-21h0m-11.1 23h0m13.3 2.7h0m16.9-15.2h0"/>
<path stroke="#00A070" d="M753.7 937.7h0m45.8-24h0m-35.7-1h0m45-2.4h0m-15.1-20.8h0m11.5-4h0m9.4 25.1h0m-66.8 55.6h0m9.9-42.1h0m57.1-15.1h0m-57.7-6.9h0m-2.5 12.7h0m22.4-8.6h0m42-22.1h0m-77.5 28.5h0m-4.4 76.4h0m26.5-80.8h0m17 8.7h0m-0.1-12.7h0m-70.1 100.9h0"/>
<path stroke="#DB5C00" d="M765.2 897.8h0m-9.9 41.2h0m66.5-34.9h0m-34-14.4h0m36 14.1h0m-53.1 35h0m51.2-45.4h0m-37.1 33.7h0m32-24h0m-25.5 22.2h0m21.1-11.9h0m-4.9-25.8h0m10.9-2h0m-25.8 48.8h0m-45.4 40h0m23.6-25.3h0m2.4-14.9h0m-6.4-8.8h0m41.1-11.1h0m3.9-10.9h0m0.4-1h0m-55 11.8h0m34.1-15.2h0m24.8 6.7h0m-24.7 12h0m12.9-1.4h0m-30.6 22.1h0m-66.1 50.6h0m100.8-86.9h0"/>
<path stroke="#00A070" d="M779.1 907.7h0m-0.4-26.6h0m-112 121.8h0m129.7-97.7h0m18.3-29.2h0m-37.7 54h0m8.3-0.4h0m-18.7-14.5h0m26.6-3.9h0m6.7-15.6h0m-30.1 51.3h0m42-76h0m-52.9 62.7h0m26.4-36.6h0m29.3-13.9h0m-18.2 51.6h0m-51.8 29.5h0m64.8-72.4h0m-26.5 24.8h0m21.8-25.5h0m-18.3 21.1h0m36.8-14.8h0m-16.4 15.9h0m9.6-25.5h0m-45.5 18.1h0m27.6 4.4h0m13.5-11.2h0"/>
<path stroke="#DB5C00" d="M813.8 896.7h0m-47.7 27.7h0m26.2-10.3h0m34.2-38.4h0m-35.5 25.3h0m-44.9 30.8h0m39.9-9.5h0m-9.7 21.8h0m28.9-49.8h0m-4.2 2.4h0m2.7 4.4h0m-74.1 64.6h0m22.3-19.9h0m15-25.8h0m41.7-38.5h0m-31.4 27.8h0m9 17.8h0m15.5-12.5h0m-3.3-15.6h0m-7.2 21.8h0m24.7-20.8h0m6-5.5h0m-10.7-1.3h0m2.8 9.5h0m-11.6 9.6h0m-9.2-10.4h0m-77.7 84.8h0m72.6-80.6h0m14.1-0.6h0m-5.3-7.8h0m-2.4-0.7h0m-7.4 16.5h0m-14.8 14.3h0m-13.6-4.1h0m34.1 7.7h0m16-36.5h0m-65 50.2h0m36.2-26h0m39.3-31.1h0"/>
<path stroke="#00A070" d="M147 1116.5h0m38.4 120.5h0m-16.1-94.8h0m-84.3 64.6h0m73.5-46.6h0m19.6-63.3h0m26.7 113.4h0m-8.1-23.4h0"/>
<path stroke="#DB5C00" d="M186.1 1167.3h0m6.2-83.5h0m-9.5 55.8h0m7.8-51h0m-24.3 69.9h0m66.8-83.5h0"/>
<path stroke="#00A070" d="M122.6 1122.3h0m-5.9 8.1h0m24.4 17.4h0m40.3-0.6h0m-27.1 9h0m44.5 22.4h0m23.8-108.5h0"/>
<path stroke="#DB5C00" d="M224.1 1158.9h0m10.7-67.1h0m-23.1-20.7h0m25.2 48.2h0m-121.3 91h0m115.6-86.9h0m2.9-19.7h0m-81 31.6h0m19 34.6h0"/>
<path stroke="#00A070" d="M168.9 1131.3h0m44.8 35.6h0"/>
<path stroke="#DB5C00" d="M221.3 1077.8h0m-40 14.5h0m-11.2 91.7h0m39-19.5h0m31.5-57.5h0"/>
<path stroke="#00A070" d="M213.9 1071.3h0m-57.2 115.6h0m40.1 6.9h0m-18.3-108h0m15.1-1.8h0"/>
<path stroke="#DB5C00" d="M219.4 1141.4h0m-52.2 19.1h0m37.6-79.6h0m-31.3 122.4h0m52.7-122.4h0m-58.7 32.3h0m54.4 40h0m17.2-75.8h0m-54.1 56.6h0"/>
<path stroke="#00A070" d="M177.1 1155.7h0m-1.1 24.5h0m39.4-30.5h0m-92.8 18.9h0m-14-58.4h0m55.8-4.8h0"/>
<path stroke="#DB5C00" d="M212.6 1160.1h0m17.6-73.1h0m-34-8h0m-19.4 27.8h0m53.6 20.1h0m-54.2-30.9h0m10.6 70.8h0m1.1 13h0m-11.9-93.5h0m11.2 3.8h0m34.9 43.9h0m-49.5 13.4h0m-9.4 15.1h0m29.6-6h0m-17.3-33.3h0"/>
<path stroke="#00A070" d="M200.4 1085.4h0m-2.9 80.5h0m-44.4-13.6h0m-21.3-21.2h0m80.8-55.3h0"/>
<path stroke="#DB5C00" d="M191 1169h0m37.8-56.9h0m-39 54.3h0m45.2-86.2h0m-0.5 3.2h0m-12.4-0.2h0m-21.6-6h0m-13.6 17.4h0m2.4 85.3h0m-12.4-67.8h0m57 8.7h0m-31 55.2h0m-6.9-15.5h0m1.6 14h0"/>
<path stroke="#00A070" d="M182.2 1086.8h0m-0.8 20.1h0m-4.5 41.6h0m-16.7-30.8h0m46.5-35.1h0m-132.7 124.2h0m110.9-63.4h0"/>
<path stroke="#DB5C00" d="M164.8 1118.5h0m65.7-0.5h0m-1 0.9h0m-59.7 30.4h0m25.8 15.1h0m35.6-72h0m3.7 14.4h0m-13.1-19.6h0m-43.4 65h0m-13.9-70.5h0m48 98.7h0m-30.2-15.5h0m39.2-74.1h0"/>
<path stroke="#00A070" d="M197 1164.7h0m-22.2-2.9h0m-6.2-37.9h0m-51.9-35.2h0m36.7 107.5h0m-69.1-12.6h0m95.6-23.7h0m-7.2-32.3h0m33.6 54h0m-47.5-72.3h0m41 23.2h0"/>
<path stroke="#DB5C00" d="M223.5 1101h0m-0.2 12.1h0m-21-25.9h0m31 18.8h0m-50.4 9.2h0m41.3-21h0m-29.4 40.9h0m-26.9-13.3h0m-52.3 82.6h0m61.5-86.1h0m1.6 68.7h0m34.1-30.8h0m-31.3-8.2h0m16.5-17.6h0m25.3-12.7h0m15.1-21.9h0"/>
<path stroke="#00A070" d="M196.2 1175.1h0m-1.8-37h0m27.6-44h0m-10.3 53.6h0m3.4-13.8h0m-42 5.9h0m29.3-10.1h0m11.9 40.1h0m-17.1-39.4h0m2.2-42.8h0m-32.5 100.5h0m9.7-49.8h0m-7.7-32.4h0m37.2-16.4h0m1.9 46.1h0m3.3 29.2h0"/>
<path stroke="#DB5C00" d="M188.1 1107.9h0m-2.7 92.7h0m13.2-43.2h0m22.5-37.7h0m10.9-16.7h0m-41.3 68.9h0m13.1 8.2h0m-23.7-55.8h0m-5.1 28.5h0m11.5-20.2h0m45.1-35.3h0m-20.5 78h0m-23.3-79.3h0m-8.2 9.5h0m10.1 39h0m-15.7-30.5h0m-19.6 22.1h0m43.8-27.5h0m-0.5 55.9h0"/>
<path stroke="#00A070" d="M190.4 1127.4h0m28.3 14.6h0m-0.3 33.8h0m-40.2-11.7h0m-41.7-3.7h0m81.6-25.8h0m-11.5-45.9h0m-73.6 14h0m37.6 33.2h0m32.9 46.7h0m-23.1-67.2h0m33.5 31.4h0m-18.5-57h0m-3.5 48.8h0m5.5 10.2h0m14.5-69.6h0"/>
<path stroke="#DB5C00" d="M180.8 1096.9h0m47.2-2.5h0m-65.1 39.4h0m17.3 29.8h0m4.3-18.7h0m6.2-9.9h0m28.4-4.4h0m-25.1 0.6h0m-6.3-57.1h0m21.7 95.6h0m-5.6-7.8h0m-40.6-40.6h0m43.4 14.9h0m-37.4 16.9h0m-12.1-29.7h0m48.1-13.1h0m14.9 27.2h0m-33.9 52.1h0m13.8-28.7h0m-15.1-43.1h0m25.2 24.2h0m-5.9 9.3h0m5.3-61.5h0m-11.3 17.9h0m-8.7 2.5h0"/>
<path stroke="#00A070" d="M182.4 1159.1h0m28.1-50h0m-0.2-3.5h0m6.7 50.9h0m-13.3-15.5h0m-19-19h0m0.5 38.1h0m32.7-54.1h0m-14.9 51.7h0m-0.3-9.5h0m5.1-61.3h0m-8.3 89.1h0m9-12.4h0m-13.5-30.8h0m24.3-44.1h0m-49.7 81.1h0m-69.1 4.6h0m69.8-69.1h0m12.7 39.9h0m26.1 18.3h0m-5.8-20.3h0m3.9-5.5h0m-26.3-4.9h0m32-8.1h0m-64.4 69.4h0"/>
<path stroke="#DB5C00" d="M187.2 1154.4h0m-27.3 4.3h0m67.3-36.4h0m-10.7-36.2h0m-33.7 41.2h0m35.1-49.5h0m-33 26.8h0m23.5 27.3h0m-12.6-45.9h0m-27.4 35h0m64.3-35.2h0m-12.3 14.8h0m-0.8-7h0m-0.2 28.2h0m-53.3 27h0m29-8.5h0m-12.8-8.1h0m-20.8 12.3h0m35.7-46h0m18.6 10h0m-24.4-14.2h0m18.9 57.5h0m-4-21.2h0m-7.2-38.4h0m-37.5 19h0m44.1 9.1h0m11.2-19.6h0m-3 12.4h0m12.2 14.1h0m-73.2 66.9h0m36-92.5h0"/>
<path stroke="#00A070" d="M207.3 1114.5h0m9.5 26.8h0m-3.1-24.7h0m5.3 40.2h0m-24.1-26.9h0m-0.5 109.4h0m22.4-125.8h0m2.1-18.5h0m-38.3 36h0m19.6 19.3h0m0.2-22.7h0m5.4-1.3h0m6.2-41.6h0m-19.4 35.5h0m-15.3 8.9h0m45.2-5h0m-28.7-19.4h0m17.9-15.6h0m1.9 69.7h0m0.1-62.7h0m-41.1 20.9h0m38.1 45h0m-7.1-56.8h0m6.6 24.2h0m7.8-34h0m-7.1 18.4h0m2.7 11.7h0m8.3-46.2h0m-10.2 25.2h0m2.2-11.6h0m-28.3 55.1h0m15.2-30.8h0m-47.9-27.3h0"/>
<path stroke="#DB5C00" d="M219.8 1091h0m-27.7 54h0m19.8-33h0m-16.8-34.6h0m2.6 44.3h0m-8.3 42.7h0m2.7-38.6h0m5.9 16.2h0m26.5-32.9h0m8.3 0.5h0m-21.5-11.8h0m-30.7 86.9h0m12.5-30.5h0m-1.4-9.1h0m38.5-42.4h0m-7.6 47.8h0m-28.7-27.4h0m-12-22.4h0m14.5 20.8h0m-6.5 1h0m46.2-36.5h0m-23.5-4.9h0m-8.3 16.6h0m6.8-5.1h0m-4.6 11.4h0m-5.5 21.9h0m-51.8 75.2h0m61.2-70.7h0m-5.6-12.1h0m-12.7-4.9h0m25.3 4.4h0m-0.6 14.4h0m-25.7-5.8h0m-18.4 36.6h0m18.7-51.1h0m3.6-6.9h0m-20.7 59h0m-3.2-30.7h0m26.1-40.8h0"/>
<path stroke="#00A070" d="M353.4 1116.5h0m45.1 120.5h0m-18.2-94.8h0m-90.6 64.6h0m77.4-46.6h0m66.8-32h0m-39.1-31.3h0m23.1 113.4h0m18.9-115h0m-4.6 44.7h0m-17 46.9h0m-34.3-78.9h0"/>
<path stroke="#DB5C00" d="M408 1167.3h0m-13.7 1.1h0m-17-79.8h0m19.2 96.1h0m5.3-18.5h0"/>
<path stroke="#00A070" d="M330.6 1122.3h0m-8.5 8.1h0m25.5 17.4h0m20.5 8.4h0m61.4-11h0m6.9-75.1h0"/>
<path stroke="#DB5C00" d="M418.1 1071.1h0m-21.2 90.6h0m-93.3 48.6h0m80.9-92h0m6.2 51.6h0"/>
<path stroke="#00A070" d="M429.2 1148.4h0m-51.3-17.1h0m4.7 31.2h0m50.9-34h0m-4.7 38.4h0m6.2-51.8h0m-20-33.7h0"/>
<path stroke="#DB5C00" d="M407.7 1087.6h0m27.7-9.8h0m-37.1 18.7h0m4.9 68.2h0m7 19.3h0m-32.3-62h0m23 42.5h0"/>
<path stroke="#00A070" d="M430 1071.3h0m2.8 83.8h0m-53.7 31.8h0m33.9 6.9h0m-30-108h0m29.7-1.8h0m24.4 15.9h0m-1.2 9.4h0"/>
<path stroke="#DB5C00" d="M370.6 1160.5h0m12.5 42.8h0m48.7-125.9h0m2.3 49h0"/>
<path stroke="#00A070" d="M396.3 1155.7h0m5.8 24.5h0m-74.2-11.6h0m-15.5-58.4h0m62-4.8h0m64.3-0.6h0"/>
<path stroke="#DB5C00" d="M389.5 1116.4h0m-10-9.6h0m41.5 73h0m-30.1-32.4h0m5.5 9.1h0"/>
<path stroke="#00A070" d="M413.5 1085.4h0m22.8 38.6h0m-24.6 41.9h0m-51.8-13.6h0m58.9 6.7h0m-78.3-27.9h0m87.4-55.3h0"/>
<path stroke="#DB5C00" d="M418.8 1169h0m-19.3-70.7h0m-22.4 20.7h0m42.5 47.4h0m18.6-86.2h0m-7.7 71h0m3.2-67.8h0m-18.3-0.2h0m12.9-6h0m-37.2 54.5h0m-1.1 48.2h0m23.1-3.9h0m-10.7-1.5h0"/>
<path stroke="#00A070" d="M401.7 1086.8h0m-5.3 20.1h0m-21.7 10.8h0m-102.8 89.1h0"/>
<path stroke="#DB5C00" d="M382.3 1118.5h0m56.2-0.5h0m-28.7 46.4h0m-26.7-54.3h0m27.6 70.3h0m-8.6-15.5h0"/>
<path stroke="#00A070" d="M414.1 1164.7h0m-32.8-2.9h0m19.6-61.4h0m-28.2 23.5h0m57.9 3h0m-110.8-38.2h0m44 107.5h0m70.3-71.9h0m-150.6 59.3h0m111.2-23.7h0m26.2 21.7h0m-53.6-72.3h0m64.4 27.6h0"/>
<path stroke="#DB5C00" d="M397.7 1142.6h0m38.5-22.2h0m-0.3-33.2h0m-12.5 76.6h0m-26.9-28.7h0m-87.8 69.3h0m83-86.1h0m-8.1 68.7h0m36.6-30.8h0m8.4-25.8h0"/>
<path stroke="#00A070" d="M436 1094.8h0m-27.2 80.3h0m20.7-49.5h0m5.9-31.5h0m-6.5 53.6h0m1.5-13.8h0m-40.2 5.9h0m38.3 30h0m-14.9-82.2h0m-35.9 100.5h0m22.9-49.8h0m-24.6-32.4h0m58.6-13.6h0m-6.2 72.5h0"/>
<path stroke="#DB5C00" d="M394.7 1200.6h0m38-80.9h0m2.4-16.7h0m-35.7 68.9h0m8.6 8.2h0m-9.9-27.3h0m-4.9 22.5h0m5.7-82.7h0m-3.7 12.9h0m5.4 8.5h0m4.9-16.4h0m-23.6 38.5h0m22.4-27.5h0m11-15.1h0m-4.5 71h0m8.3-84.4h0"/>
<path stroke="#00A070" d="M406 1127.4h0m26.4 14.6h0m1.3 33.8h0m-51.4-11.7h0m29.6-54.6h0m-70.8 50.9h0m92.1-25.8h0m-30.9 11.7h0m-66.7-43.6h0m40.2 33.2h0m45 46.7h0m-25.7-67.2h0m33.5 31.4h0m-20.9-57h0m18.4-10.6h0"/>
<path stroke="#DB5C00" d="M407.5 1133.8h0m-13.5-7.9h0m14.7-33.2h0m-27.9 70.9h0m26.2-32.4h0m9.9-57.1h0m-17.6 95.6h0m24.2-7.8h0m-24.6-40.6h0m26.7 14.9h0m-8.2 16.9h0m-8.5-50.6h0m-17.6 20.9h0m30.8 21.3h0m-5.9-7.2h0m-46.3 52.1h0m19.6-74.9h0m25.5 27.3h0m-17.6 9.3h0m23.2-41.1h0"/>
<path stroke="#00A070" d="M400.1 1159.1h0m31.8-2.6h0m-13.9-15.5h0m-12.3 19.1h0m25.4-54.1h0m-18.3 51.7h0m3.6 18.3h0m8-12.4h0m-11.6-30.8h0m20.4-44.1h0m-53.8 81.1h0m-72.3 4.6h0m66.3-69.1h0m24 39.9h0m20.9-25.4h0m6 43.7h0m-8.2-20.3h0m6.2-5.5h0m-24.7-4.9h0m31.4-8.1h0m-82 69.4h0"/>
<path stroke="#DB5C00" d="M422.6 1154.4h0m-23.6 4.3h0m-0.3-35.9h0m35.3-45h0m-12.1 54.1h0m-1.4-45.9h0m-12.3 39.4h0m-11.4-4.4h0m32.6 2.9h0m-15.9-30.3h0m-3.7 55.2h0m-3.2-8.5h0m-10.8-8.1h0m3 12.3h0m37-36h0m-26.7-14.2h0m-2.7 57.5h0m7.5-21.2h0m18.8-38.4h0m-6.5 8h0m-12 11h0m17.9 9.1h0m-32-7.2h0m-34 81h0m43.5-92.5h0"/>
<path stroke="#00A070" d="M423.7 1114.5h0m6.5 26.8h0m1.8-24.7h0m-0.2 40.2h0m-18-26.9h0m-7.5 109.4h0m25.7-125.8h0m1.9-18.5h0m-16.3 28h0m-19.1 8h0m18.1 19.3h0m-2.4-22.7h0m5.7-1.3h0m9.4-41.6h0m-41.9 44.4h0m47.2-5h0m-22.3-19.4h0m15.9-15.6h0m0.4 69.7h0m-2.2-62.7h0m-49.8 20.9h0m49.5 45h0m-11-56.8h0m11.3 24.2h0m7.7-34h0m-8.7 18.4h0m0.7 11.7h0m8.6-46.2h0m-8.9 25.2h0m3.5-11.6h0m-21.3 55.1h0m4.5-30.8h0m-52.6-27.3h0"/>
<path stroke="#DB5C00" d="M419.1 1091h0m-10.5 54h0m-5.5-33h0m20.7-34.6h0m2.3 44.3h0m-18.1 42.7h0m0.7-38.6h0m9 16.2h0m-0.4-32.9h0m9.3 0.5h0m-10-11.8h0m0.3 86.9h0m-33.9-30.5h0m29.5-9.1h0m21.6-42.4h0m-5.9 47.8h0m-16.6-27.4h0m-4.2-22.4h0m0.7 20.8h0m-2.6 1h0m18-36.5h0m3.1-4.9h0m-7.1 16.6h0m1.4-5.1h0m-22.3 11.4h0m16 21.9h0m-58.5 75.2h0m68.8-70.7h0m-1.1-12.1h0m-18.3-4.9h0m23.1 4.4h0m-5.8 14.4h0m-34.4-5.8h0m19.2 36.6h0m-5.7-51.1h0m14.8-6.9h0m-11 59h0m19-30.7h0m-2-40.8h0"/>
<path stroke="#00A070" d="M541.4 1180.8h0m-32.8 56.2h0m-18.4-30.2h0m28.5 3.5h0"/>
<path stroke="#DB5C00" d="M505.3 1167.3h0m52.2-21.1h0m51.9-45.8h0m-108.6-16.6h0m94.6 49.9h0m10.5-11.2h0m8.7-12h0m-74.6 52.1h0m52.2-41.5h0m-9.3-14h0m-83 77.6h0m72.9-79h0m31.9-30.7h0"/>
<path stroke="#00A070" d="M485.7 1156.2h0m55.6 3.6h0m-11.1-79.8h0m-1.4 6.4h0m19.5 48.9h0m2-65.2h0"/>
<path stroke="#DB5C00" d="M487.4 1104h0m108.8 54.9h0m-38.7-32.2h0m46.5-34.9h0m-46.2-20.7h0m48.7 48.2h0m-59.6 12.6h0m35-32.3h0m-111 110.7h0m104.1-86.9h0m-6 7.1h0m-79.7 4.3h0m10-2.9h0m108.7-4.2h0m-115.9-24.5h0m-18.7 32.1h0m24.5-5.8h0m12.4 19.5h0m-28.6 20.9h0"/>
<path stroke="#00A070" d="M563.6 1089.5h0m-7.3 58.9h0m-25.3 18.5h0m-21.1-77.8h0"/>
<path stroke="#DB5C00" d="M578.3 1110.2h0m5 4.9h0m-27.9-37.3h0m-57.7 14.5h0m-8.4 91.7h0m15-62h0m-16.2 24.4h0m94.3 18.1h0m-9.5-25.1h0m59.9-32.4h0m-26.7-25.5h0m-37.6 44h0m43.1-29.3h0m-123.1 6.9h0"/>
<path stroke="#00A070" d="M531.5 1071.3h0m-47.6 115.6h0m31 6.9h0m-0.4-109.8h0m0.2 68.7h0"/>
<path stroke="#DB5C00" d="M559.7 1154.8h0m24.8-13.4h0m-89.7 19.1h0m-12.1-54.6h0m-10.6 97.4h0m107.9-52.6h0m26.8-31.1h0m-33.6-38.7h0m-76.7 48.1h0m-4.2 0.7h0m-12.9-16.5h0m111.4 40h0m10.8-75.8h0m-6.8 23.3h0m-101.7 52.1h0m2.1-26.4h0"/>
<path stroke="#00A070" d="M502.7 1155.7h0m-5.4-37.5h0m-10 62h0m43.7-31.1h0m19.7-21.4h0m-45.6-4.4h0m-5.8 45.3h0"/>
<path stroke="#DB5C00" d="M578.3 1116.4h0m-1.1-29.4h0m-81.2 24.1h0m-9.9-15.1h0m25-17h0m44.2 61.8h0m60.9-13.9h0m-119.2-30.9h0m29.8 70.8h0m55-49.2h0m-89.8 62.2h0m89.2-48h0m-74.5 7.4h0m-21.7-52.9h0m14.5 3.8h0m84.9 43.9h0m-102.5 28.5h0m48-6h0m-41.3-33.3h0"/>
<path stroke="#00A070" d="M545.4 1085.7h0m-46.1 67.4h0m10.5-32.6h0m58.2-16.8h0m-12.6 37.8h0m5.9-58.6h0m-31.9 83h0m19.2-21h0m-18.6 14.1h0m23.4-78.3h0m-16.1-4.9h0"/>
<path stroke="#DB5C00" d="M523 1169h0m-14.1-52h0m51.5 22.2h0m8.4-27.1h0m-57.5 54.3h0m58.5-86.2h0m25.5 26.4h0m-0.2-23.4h0m-72.5-6h0m23.7 54.5h0m-60.9-2.7h0m61.5 9.9h0m-32.8 41h0m-11-67.8h0m107.8 8.7h0m-58.4 5.5h0m-4.5 49.7h0m-31.8-1.5h0"/>
<path stroke="#00A070" d="M562.4 1116.5h0m-27.2 35.3h0m-4.7-67.5h0m-39.4 57.3h0m-0.7-23.9h0m61.2-35.1h0m-77.3 124.2h0"/>
<path stroke="#DB5C00" d="M484.5 1118.5h0m81-0.5h0m6.1 0.9h0m-88.5 30.4h0m69.8 15.1h0m-8.2-30.1h0m40-41.9h0m28.1 14.4h0m-52.9-19.6h0m-76.6 65h0m7.8-14.8h0m-9.3-55.7h0m55.6 98.7h0m35.2-85.3h0m-63.4 29.5h0m70.5 12.3h0m-59.6 28h0m44.6-74.1h0m39.1 8.3h0m-64.8 60h0"/>
<path stroke="#00A070" d="M511.9 1164.7h0m-4.9-50.9h0m4.7-25.1h0m-23.5 107.5h0m24.9-48h0m-9.3 35.4h0m18-23.7h0m2.8-6.1h0m-26.2-26.2h0m70.1-6.2h0m-40.6 60.2h0m-24.3-72.3h0m34.4 27.6h0m29.5-33.7h0m-23.2 44.2h0"/>
<path stroke="#DB5C00" d="M521.6 1088.4h0m71.4 12.6h0m-19.2 12.1h0m-58.1-25.9h0m85.9 18.8h0m-90.2 9.2h0m14.4 48.6h0m69.8-69.6h0m-27.3 2h0m-68.7 25.6h0m-28 82.6h0m24.8-86.1h0m4.1-8.8h0m51.8 47.5h0m-41.7 30h0m57.2-30.8h0m-65.2-8.2h0m-6.3-40.1h0m66.6 9.8h0m64.4-21.9h0"/>
<path stroke="#00A070" d="M533.7 1146.1h0m-28.8 1.3h0m30.7 27.7h0m-22.1-52.6h0m48.1 3.1h0m-54.5 22.1h0m-5.1-7.9h0m41 30h0m-39.4 18.3h0m-10.6-49.8h0m29.3-48.8h0m-14.1 46.1h0m-2.9 29.2h0"/>
<path stroke="#DB5C00" d="M564.4 1097h0m-13.5 13.8h0m-50.7 13.7h0m37-20.3h0m-19.6 3.7h0m-34 92.7h0m51.5-43.2h0m22.9-37.7h0m25.9-16.7h0m-90.3 68.9h0m63.2 8.2h0m-62.9-55.8h0m-8.7 28.5h0m19.6-20.2h0m52.4-24.7h0m13-10.6h0m8.7 78h0m-54.6-82.7h0m-36 3.4h0m27.3 40.5h0m-20.6 8h0m-0.1-30.5h0m65.5-16.4h0m-84.9 38.5h0m98.8-16.9h0m-5.6-10.6h0m-53.7 15.1h0m20.8 40.8h0m-27.8-69.2h0m80.5-15.2h0m-44.9 35h0"/>
<path stroke="#00A070" d="M551.2 1142h0m-35.9-17h0m14.6 50.8h0m8.9-11.7h0m-36.1-54.6h0m5.7 50.9h0m24-25.8h0m6.3-45.9h0m-12.5 57.6h0m23-41.3h0m-30.6-2.3h0m20.9 29.5h0m-14.6 3.7h0m-23.6 46.7h0m41.2-80.8h0m-20.6 45.6h0m13.9-0.6h0m-11.4-49.8h0m-12.8 41.6h0m13.4 10.2h0m19.3-69.6h0"/>
<path stroke="#DB5C00" d="M485.3 1096.9h0m103.5-2.5h0m-99 39.4h0m54.4-7.9h0m-17.7-27.5h0m13.6-5.7h0m-38.8 70.9h0m11-18.7h0m-3.8-9.9h0m70.2-4.4h0m-78.3 0.6h0m7.3-57.1h0m68.1 95.6h0m-49.7-7.8h0m-51.2-40.6h0m59.8 14.9h0m-42.1 16.9h0m6.3-54.5h0m-4.3 4.2h0m-14.9 20.6h0m54.4-13.1h0m-23.3-13.5h0m15.3 47.9h0m75.7-7.2h0m-97.4 52.1h0m36.1-28.7h0m-28.2-62.8h0m15.2 16.6h0m-32.8 3.1h0m73.1 24.2h0m-24 9.3h0m18.1-44.1h0m-12.4 19.6h0m-35.9-16.6h0"/>
<path stroke="#00A070" d="M512.6 1159.1h0m12.8-53.5h0m20.8-1.8h0m-9.8 52.7h0m-24.3-49.7h0m16.2 34.2h0m-32.5-19h0m7.1 38.1h0m56.4-54.1h0m2.3-16.9h0m-3.1 68.6h0m-16-9.5h0m-11.1-61.3h0m19.7-2.1h0m-43.7 91.2h0m14-12.4h0m-8.8-30.8h0m41.1-44.1h0m-44.1 81.1h0m-8.1 4.6h0m30.9-69.1h0m-8.4 39.9h0m9.3-25.4h0m-6.4 43.7h0m10.5-80.5h0m3.9 60.2h0m10.7-27.6h0m-23 22.1h0m-15.6-4.9h0m25.6-32.1h0m-40.4 93.4h0"/>
<path stroke="#DB5C00" d="M515.7 1154.4h0m-35.2 4.3h0m98.7-36.4h0m-21.9-36.2h0m-42.9 41.2h0m35.7-49.5h0m-49.5 26.8h0m34.5 27.3h0m-14.5-45.9h0m21.1 39.4h0m-56.1-4.4h0m139.9-35.2h0m-81 38.1h0m-29.1-27.4h0m73.4 4.1h0m9.8-7h0m-23 28.2h0m-94.9 27h0m35.7-8.5h0m-2.9-8.1h0m-24.4 12.3h0m61.3-48.6h0m-48.8 2.6h0m23.1 10h0m2.2-14.2h0m25.2 57.5h0m-1.3-32h0m9.3 10.8h0m-40.7-38.4h0m-15.9 8h0m-19.5 11h0m33.1 9.1h0m33.6-29.4h0m30.5 9.8h0m-23.7 12.4h0m37.2 14.1h0m-116.1 66.9h0m48.6-92.5h0"/>
<path stroke="#00A070" d="M519.7 1114.5h0m32 26.8h0m-56.8-24.7h0m65.3 40.2h0m-49.7-26.9h0m1.1 109.4h0m23.4-125.8h0m1.2-18.5h0m-21.1 36h0m-0.4 19.3h0m22.3-22.7h0m-1-1.3h0m-23.2-41.6h0m8 35.5h0m4.3 8.9h0m42.1-5h0m-55.7-19.4h0m9.9-15.6h0m14.8 69.7h0m-29.2-34.1h0m49.7-28.6h0m-18.1 20.9h0m-9.9 45h0m23.8-56.8h0m-34.6 24.2h0m2.3-34h0m37.4 30.1h0m7.5-46.2h0m-18.1 25.2h0m-13.2-11.6h0m-37.3 55.1h0m51.5-30.8h0m-4.4-27.3h0"/>
<path stroke="#DB5C00" d="M578.1 1091h0m-56.5 54h0m20.1-33h0m-28.6-34.6h0m11 44.3h0m5.8 42.7h0m-11.9-38.6h0m6 16.2h0m47.4-32.9h0m22.6 0.5h0m-64.2-11.8h0m-27.3 86.9h0m33.5-30.5h0m-14.8-9.1h0m28.4-42.4h0m9.2 47.8h0m-35.6-27.4h0m-38.2-22.4h0m57.5 20.8h0m-49.9 1h0m95.6-36.5h0m-40.6-4.9h0m-2.9 16.6h0m1.1-5.1h0m12.9 11.4h0m-30.4 21.9h0m-54 75.2h0m42.5-70.7h0m22-12.1h0m-11.7-4.9h0m16.4 4.4h0m18.6 14.4h0m-40.1-5.8h0m-27.4 36.6h0m44.1-51.1h0m-28.5-6.9h0m-21.9 59h0m-16-30.7h0m33-40.8h0"/>
<path stroke="#00A070" d="M667.8 1237h0m31.8-30.2h0m117.9-109.1h0m-111.1 112.6h0m19.1-23.4h0"/>
<path stroke="#DB5C00" d="M788.1 1145.6h0m-57.4 39.1h0"/>
<path stroke="#00A070" d="M772.6 1126.2h0m56.8-46.2h0m-84.8 98.6h0m89.1-108.5h0"/>
<path stroke="#DB5C00" d="M805.6 1120.9h0m23.5-49.8h0m-19.7 51.2h0m-133.6 88h0m125.1-86.9h0m-51.4 46.5h0"/>
<path stroke="#00A070" d="M808 1089.5h0m-19.1 49.7h0m9.7-10.7h0m19.7-47.1h0m-12.1 34.7h0m-10-14.3h0m-33.4 40.3h0m34-38.5h0m-55.9 54.8h0"/>
<path stroke="#DB5C00" d="M729.1 1184h0"/>
<path stroke="#00A070" d="M832.1 1071.3h0m-31.8 50.5h0m-71 65.1h0m-7.8 6.9h0m90-108h0m3.3-1.8h0m-61.6 63h0"/>
<path stroke="#DB5C00" d="M712.1 1203.3h0m114.4-122.4h0m-59.2 56.3h0m49.8-31.8h0m10.3-28h0"/>
<path stroke="#00A070" d="M733.9 1180.2h0m48.6-30.7h0m-48.8 19.1h0"/>
<path stroke="#DB5C00" d="M798.9 1103h0"/>
<path stroke="#00A070" d="M743.1 1153.1h0m14.6-11.6h0m52.7-32h0m12.6-33.7h0"/>
<path stroke="#DB5C00" d="M786.7 1139.2h0m13.6-35.5h0m25-23.5h0m-39.7 58.7h0m8.7 1.4h0"/>
<path stroke="#00A070" d="M813.2 1086.8h0m-29.1 58.6h0m13.8-10.8h0m-14.5 11.4h0m23.6-53.8h0m14.8-9.6h0m-138.9 124.2h0"/>
<path stroke="#DB5C00" d="M739 1164.4h0m72.1-51.6h0m7.5-31.1h0m-7.7 25.2h0m-5.9 5.8h0m-40.2 52.2h0m51.2-66.8h0"/>
<path stroke="#00A070" d="M758.4 1164.7h0m11.8-2.9h0m35.5-50.4h0m7.7-11h0m-93.4 95.8h0m-2.2-12.6h0m48.8-23.7h0m30.2-32.3h0m-58.1 54h0m49.7-44.7h0m-27.3-4.4h0"/>
<path stroke="#DB5C00" d="M823.5 1088.4h0m-17.6 32h0m-64.6 43.4h0m55.1-32.6h0m-109.3 73.2h0m94.3-86.1h0m-7.3 38.7h0m-46.6 30h0m47.4-30.8h0m22.1-25.8h0m22.8-40.4h0"/>
<path stroke="#00A070" d="M820.1 1094.1h0m-25.6 39.8h0m-67.1 54.2h0m53.1-38.2h0m14-44h0"/>
<path stroke="#DB5C00" d="M819.1 1094.6h0m-100.2 106h0m55.6-43.2h0m-34.3 22.7h0m62.5-61.2h0m-68.8 56.4h0m74.8-82.7h0m-23.2 12.9h0m-1.6 31h0m-4.8-17.3h0m-13.4 45.3h0m53.9-84.4h0"/>
<path stroke="#00A070" d="M803.4 1115.3h0m-17.9-3.3h0m-41 63.8h0m12.4-11.7h0m-23.8-3.7h0m54.3-25.8h0m23.4-45.9h0m-18.2 43.5h0m-60.2 50.4h0m50.3-44h0m-9.3 10.2h0m51.3-69.6h0"/>
<path stroke="#DB5C00" d="M787.7 1133.8h0m-21.7 1.2h0m59.6-60.9h0m-74.2 95.6h0m17.4-33.5h0m44.2-33.4h0m-23.3 7.5h0m10.8-13.5h0m-18.4 40.7h0m-55.9 52.1h0m85.3-96.5h0m2.5 5h0m-29.3 16.6h0m-1.2 3.1h0m11.6-10.1h0"/>
<path stroke="#00A070" d="M808.6 1109.1h0m-9.1-3.5h0m-17.6 35.4h0m11.8-12.4h0m-29.3 31.5h0m-16.6-2.4h0m9.9-9.5h0m57.1-63.4h0m-57.7 91.2h0m-2.5-12.4h0m22.4-30.8h0m-35.5 37h0m-4.4 4.6h0m44.3-29.2h0m6.2-25.4h0m-24 43.7h0m55.6-80.5h0m-38.3 60.2h0m12.4-27.6h0m-12.7 22.1h0m3-13h0m-73.2 69.4h0"/>
<path stroke="#DB5C00" d="M765.2 1154.4h0m-9.9 4.3h0m66.5-72.6h0m-22.4 36.7h0m24.4-45h0m-53.1 54.1h0m51.2-45.9h0m-3.5 7.6h0m-71.2 55.2h0m23.6-8.5h0m2.4-8.1h0m-6.4 12.3h0m41.1-48.6h0m3.9 2.6h0m-11 10h0m11.4-14.2h0m-55 57.5h0m34.2-40.6h0m-1 9.1h0m-16.7 6.9h0m-66.1 66.9h0"/>
<path stroke="#00A070" d="M779.1 1141.3h0m-0.4 15.5h0m14.1-26.9h0m-126.1 109.4h0m110.3-116.3h0m-10.4 27.3h0m26.6-22.7h0m24.7-42.9h0m-18 35.5h0m-30.1 8.9h0m42-24.4h0m-52.9 54.1h0m26.4-34.1h0m29.3-28.6h0m-70 65.9h0m64.8-56.8h0m-26.5 24.2h0m31.6-34h0m-9.8 18.4h0m18.5-34.5h0m-6.8 13.6h0m-45.5 55.1h0m41.1-58.1h0"/>
<path stroke="#DB5C00" d="M813.8 1091h0m-47.7 54h0m26.2-33h0m34.2-34.6h0m-35.5 44.3h0m-44.9 42.7h0m39.9-38.6h0m-9.7 16.2h0m28.9-32.9h0m-4.2 0.5h0m2.7-11.8h0m-74.1 86.9h0m22.3-30.5h0m15-9.1h0m41.7-42.4h0m-31.4 47.8h0m9-27.4h0m15.5-22.4h0m-3.3 20.8h0m-7.2 1h0m24.7-36.5h0m6-4.9h0m-10.7 16.6h0m2.8-5.1h0m-11.6 11.4h0m-9.2 21.9h0m-77.7 75.2h0m72.6-70.7h0m14.1-12.1h0m-5.3-4.9h0m-2.4 4.4h0m-7.4 14.4h0m-14.8-5.8h0m-13.6 36.6h0m34.1-51.1h0m16-6.9h0m-65 59h0m36.2-30.7h0m39.3-40.8h0"/>
<path stroke="#00A070" d="M971.9 1180.8h0m-69.4 56.2h0m-31.3-30.2h0m154.6-90.7h0m-114.1 94.2h0m40.1-79h0m-6.3 19.7h0m-23.6 35.9h0"/>
<path stroke="#DB5C00" d="M976.1 1167.3h0m31.8-21.7h0m-57 22.8h0m17.5 16.3h0m-32.7-18.5h0m94.9-91.2h0"/>
<path stroke="#00A070" d="M956.6 1132.3h0m-30.1 15.5h0m-2.5 12h0m57.9 18.8h0m44.7-108.5h0m-7.8 37.8h0"/>
<path stroke="#DB5C00" d="M1023.9 1120.9h0m-26.4 38h0m-2.7-87.8h0m-129.9 139.2h0m146-75.5h0m-75-7.1h0m19.7 42.2h0"/>
<path stroke="#00A070" d="M962.8 1131.3h0m9.7-29.5h0m-36.9 56.6h0"/>
<path stroke="#DB5C00" d="M972.8 1102.5h0"/>
<path stroke="#00A070" d="M993.5 1071.3h0m-15.4 68.1h0m-12.9 47.5h0m-10.6 6.9h0m4.6-71.2h0m27.5-36.8h0m37.7 2.2h0m-70.8 40.6h0"/>
<path stroke="#DB5C00" d="M956.1 1154.8h0m-19.1-8.8h0m17.6-4.6h0m64.4-60.5h0m-101.7 122.4h0m15.5-68.2h0m32.2 2.1h0m25.6 41h0m10.2-25h0m28.3-47.8h0m-18.8-28h0m-58.2 75.4h0"/>
<path stroke="#00A070" d="M991.1 1180.2h0m-28-31.1h0m-3.7-28.8h0m36.3 29.2h0m-25.9-45.2h0m43.4 19h0m-58.1-13.5h0m5.3 58.8h0"/>
<path stroke="#DB5C00" d="M996.8 1160.1h0m-41.6-43.7h0m53.3-37.4h0m-76.6 87.8h0m46.9 13h0m27.5-40.6h0m-25-4.3h0m-10.1 21.6h0"/>
<path stroke="#00A070" d="M966.5 1135.6h0m-18.5 5.9h0m20.6 24.4h0m53.3-56.4h0m-18 35.4h0m-44.6 14.1h0m-21.9-33.4h0m67.7-49.8h0"/>
<path stroke="#DB5C00" d="M980.1 1169h0m19.5-29.8h0m-23.1-40.9h0m4.4 68.1h0m32.3-86.2h0m-7.7 51.9h0m-15.7-48.7h0m31.6-0.2h0m-24.5-6h0m-24.6 102.7h0m-10.8-67.8h0m20.2 22.6h0m-28.7 41.3h0m-15.2-15.5h0m29.3-15.3h0m43.3-4.9h0"/>
<path stroke="#00A070" d="M1011.1 1110.1h0m-20-23.3h0m-8.8 56.8h0m-12-4.2h0m-0.3-32.5h0m9.5 48.1h0m18.4-9.6h0m21.1-10.8h0m-52.7-42.4h0m6.7 49.4h0m4.2-48.1h0m-24.5 25.9h0m-72.7 87.4h0m67.9-63.4h0"/>
<path stroke="#DB5C00" d="M1013.4 1118h0m-59.3 46.4h0m69.7-51.6h0m-40.9 30.5h0m-12.2-5.9h0m15.9 43h0m13.1-15.5h0m-0.5-27.3h0"/>
<path stroke="#00A070" d="M999.2 1164.7h0m22-53.3h0m-47.9 20.8h0m-16.1 64h0m-49.9-12.6h0m29.6-23.7h0m71.1-32.3h0m-28.8 54h0m-41.8-49.1h0"/>
<path stroke="#DB5C00" d="M1029.4 1088.4h0m-8.8 32h0m-50.1 14.7h0m46.7-3.9h0m-114.3 73.2h0m48.7-100.5h0m42.5 53.1h0m-45.1 30h0m10.5-73.3h0m41.1 16.7h0m20.2-40.4h0"/>
<path stroke="#00A070" d="M969.4 1145.8h0m1.8 29.3h0m48.7-81h0m5.6 39.8h0m-69.9-4.2h0m2.9 40.1h0m39.3-39.4h0m17.2-42.8h0m-103.3 100.5h0m69.4-23.3h0"/>
<path stroke="#DB5C00" d="M980.7 1103h0m-3.2 7.8h0m-49.2 89.8h0m53.6-43.2h0m-8.8 14.5h0m4.6 8.2h0m-12.7-27.3h0m-36.7 22.5h0m55.1-82.7h0m-11.9 12.9h0m5.9 8.5h0m-16.1 5.2h0m-7.6-10.6h0m60.1 55.9h0m-21.7-84.4h0"/>
<path stroke="#00A070" d="M1010.9 1142h0m-36.4-30h0m-24.5 63.8h0m31.2-11.7h0m-58-3.7h0m76-25.8h0m-21.6-45.9h0m34.2 43.5h0m-18 3.7h0m-31.2 46.7h0m4.9-67.2h0m14.5-13.6h0m2.1-3h0m13.7 39.8h0m-13.4 10.2h0m43.7-69.6h0"/>
<path stroke="#DB5C00" d="M996.6 1133.8h0m-53-7.9h0m19.1 37.7h0m4.2-28.6h0m39-60.9h0m-35.6 95.6h0m-9.6-7.8h0m-14.8-25.7h0m30.5 16.9h0m49.9-50.3h0m-53.5 7.5h0m3.3-13.5h0m9.2 47.9h0m0.4-7.2h0m-47.9 52.1h0m56.6-28.7h0m-36.8-46.2h0m17.7 3.1h0m20.5 24.2h0m-22.5 9.3h0m41.5-44.1h0m-44.1 19.6h0m14.8-19.1h0"/>
<path stroke="#00A070" d="M964.2 1159.1h0m23.6-53.5h0m0.9 50.9h0m3.1-49.7h0m-0.7-9.1h0m-4.1 43.3h0m24.4-12.4h0m-21.7 31.5h0m25.7-54.1h0m-24.6-16.9h0m-54.6 68.6h0m41.3-9.5h0m34.6-61.3h0m-19.8-2.1h0m6.8 91.2h0m-12.4-12.4h0m8.4-30.8h0m21.7-44.1h0m-28 81.1h0m-74.9 4.6h0m85.3-69.1h0m-4.1 39.9h0m-10.5-25.4h0m8.6 43.7h0m4-20.3h0m-12.6-5.5h0m12.5-4.9h0m-99 61.3h0"/>
<path stroke="#DB5C00" d="M1003.4 1154.4h0m-40.5 4.3h0m34.3-72.6h0m0.4 36.7h0m13.7 4.5h0m-13.9-49.5h0m-34.3 54.1h0m44.5-45.9h0m-28 35h0m18.5-35.2h0m-10.1 10.7h0m25.4 4.1h0m1.9-7h0m-47.9 28.2h0m-39.2 27h0m24.8-8.5h0m14.6-8.1h0m8.7 12.3h0m10.8-48.6h0m10.7 2.6h0m4 10h0m-14.6 43.3h0m-5-21.2h0m13.4-38.4h0m3.7 8h0m-15.5 11h0m6.8 9.1h0m17.5-29.4h0m-22.9 9.8h0m-21.7 26.5h0m-49.6 66.9h0m85.2-92.5h0"/>
<path stroke="#00A070" d="M999.2 1114.5h0m-5.6 26.8h0m26.1 15.5h0m-27.6-26.9h0m-91.8 109.4h0m95.7-125.8h0m28.7-18.5h0m-53 28h0m0.4 8h0m14.3 19.3h0m3.7-22.7h0m16.3-42.9h0m-0.9 35.5h0m-50.3 8.9h0m28.1-5h0m46.4-19.4h0m-24.4-15.6h0m-37.1 69.7h0m35.9-34.1h0m13.7-28.6h0m-50.6 20.9h0m-29 45h0m71-56.8h0m-24.3 24.2h0m25-15.6h0m-20.7 11.7h0m14.6-46.2h0m-15.7 25.2h0m25-11.6h0m-17.7 55.1h0m-4.3-30.8h0"/>
<path stroke="#DB5C00" d="M1004.4 1091h0m-27.2 54h0m10.2-33h0m37.6-34.6h0m-55 87h0m9.3-38.6h0m-21.4 16.2h0m48.8-32.9h0m-2.3 0.5h0m-4.3-11.8h0m-63.4 86.9h0m19.6-30.5h0m25.2-9.1h0m37.8-42.4h0m-27.3 47.8h0m-17.4-27.4h0m12.3-22.4h0m15.3 20.8h0m-21.4 1h0m20.3-36.5h0m5.5-4.9h0m1.2 16.6h0m-9.3-5.1h0m-9.4 11.4h0m10.2 21.9h0m-83.1 75.2h0m79-70.7h0m0.5-12.1h0m7.7-4.9h0m0.7 4.4h0m-16.2 14.4h0m-13.9-5.8h0m4 36.6h0m-7.6-51.1h0m35.8-6.9h0m-49.3 59h0m25.5-30.7h0m30.5-40.8h0"/>
<path stroke="#00A070" d="M207.1 1354.4h0m-60.1-44.4h0m38.4 129.1h0m-16.1-109.9h0m-84.3 58.6h0m73.5-53.6h0m19.6-48.9h0m26.7 107.9h0m-8.1-26.2h0"/>
<path stroke="#DB5C00" d="M186.1 1346.3h0m40.4-42.3h0m-3.2-1.6h0m-57 44.9h0"/>
<path stroke="#00A070" d="M122.6 1315.8h0m-5.9 2.2h0m24.4 27h0m40.3-1.7h0m-27.1-19h0m68.3-51.9h0"/>
<path stroke="#DB5C00" d="M224.1 1319.4h0m10.7-35.7h0m-23.1-7.5h0m-96.1 154.4h0m50.3-110.8h0m-12.8-5.3h0"/>
<path stroke="#00A070" d="M178.6 1344.4h0m35.1 8.1h0m-23.2 0.7h0"/>
<path stroke="#DB5C00" d="M181.3 1284.3h0m-11.8 64.1h0m0.6 18.6h0m70.5-65.3h0m-9.9-16.8h0"/>
<path stroke="#00A070" d="M213.9 1270.8h0m-57.2 93.7h0m40.1 8.8h0m26.2-85h0m-2.1 18.9h0m-8.4 35.4h0"/>
<path stroke="#DB5C00" d="M167.2 1325.9h0m37.6-46.4h0m-31.3 106h0m42.1-45.6h0m10.6-64.5h0m-21.4 88.1h0m17.1-43.3h0m17.2-44h0m-64.5 64.5h0"/>
<path stroke="#00A070" d="M177.1 1342h0m-1.1 22.3h0m-53.4 6h0m-14-72h0m55.8-1.9h0"/>
<path stroke="#DB5C00" d="M230.2 1281.1h0m0.2 35.2h0m-42.5 32.9h0m32.1-14.8h0m-44-44h0m11.2-6.7h0m-14.6 44.7h0m-9.4 7.5h0"/>
<path stroke="#00A070" d="M210.8 1279.9h0m-32.4 80.6h0m-25.3-33.3h0m28.8-8.1h0m-50.1-9.1h0"/>
<path stroke="#DB5C00" d="M228.8 1300.5h0m-39 51.8h0m45.2-73.4h0m-0.5 3h0m-12.4 3.9h0m-21.6-6.5h0m-11.2 70.2h0m44.6-42.6h0m-31 42.3h0m-5.3 3.6h0"/>
<path stroke="#00A070" d="M219.9 1305.5h0m-43 18h0m-16.7-27.5h0m46.5-16.1h0m-132.7 145h0"/>
<path stroke="#DB5C00" d="M169.8 1334.8h0m25.8 23.4h0m39.3-53.3h0m-56.5 19.1h0m-5.2-18.5h0m-8.7-18.6h0m48 67.3h0m4.1-37.1h0"/>
<path stroke="#00A070" d="M174.8 1314h0m-6.2 5.9h0m-51.9-40.2h0m36.7 93.9h0m67.6-71.7h0m-136.7 76.5h0m88.4-76.2h0m33.6 44.2h0m-47.5-31.3h0m41 25h0"/>
<path stroke="#DB5C00" d="M200.2 1280.4h0m23.3 9.5h0m-21.2-1.2h0m8.2 66h0m13.7-63.1h0m-33.3-1.3h0m-23 10.4h0m-52.3 121.8h0m63.1-55.5h0m28.3-86.8h0m16.3 30.9h0m15.1-14.1h0"/>
<path stroke="#00A070" d="M221.9 1291.3h0m-25.7 54.2h0m25.8-63.1h0m-48.9 41.4h0m41.2 17.6h0m-17.1-9.3h0m-30.3 44h0m9.7-62.6h0m43-24.3h0m-8.3 62.1h0"/>
<path stroke="#DB5C00" d="M180.7 1304h0m4.7 70.6h0m46.6-78.6h0m-41.3 49.3h0m13.1-0.1h0m-23.7-33.1h0m-5.1 25.6h0m56.6-47h0m-20.5 67h0m-37.1-46.3h0m-19.6 19.6h0m43.3 1.1h0"/>
<path stroke="#00A070" d="M218.7 1325.5h0m-0.3 10.8h0m-40.2-5.7h0m12.2-30.1h0m-53.9 71h0m-3.5-83.7h0m37.6 23.8h0m32.9 46.9h0m-23.1-66.7h0m26.9 25.5h0m-9.9 0.4h0"/>
<path stroke="#DB5C00" d="M180.8 1296.2h0m47.2-4.3h0m-65.1 17h0m36-25.5h0m-18.7 45.7h0m10.5 7.2h0m28.4-32.4h0m-31.4-22.5h0m21.7 51.1h0m-5.6-8.7h0m-40.6-20.1h0m43.4 21.5h0m-37.4 24h0m16.8-58.9h0m-28.9 21.7h0m29.1 53.6h0m13.8-21.7h0m10.3-60h0m-18.9 32.3h0m12.5 7.9h0m5.6-36.8h0"/>
<path stroke="#00A070" d="M182.4 1335.8h0m34.6-4h0m-32.3-14h0m18.3 20.4h0m-0.3 2.9h0m5.1-52.7h0m-8.3 42.5h0m9 6.4h0m-13.5-11.4h0m24.3-39.6h0m-49.7 72.2h0m-69.1-14.9h0m69.8-53.4h0m12.7 21.3h0m20.8 2.4h0m5.3 14.7h0m-5.8-15.5h0m3.9 1.2h0m-26.3 8.3h0m32-1.9h0m-64.4 77.2h0"/>
<path stroke="#DB5C00" d="M187.2 1338.5h0m-27.3-1.8h0m67.3-24.4h0m-10.7-34.8h0m-33.7 43.8h0m35.1-40.4h0m-33 13.6h0m23.5 35.4h0m-12.6-50.2h0m-27.4 27.4h0m64.3-20.2h0m-37.9-1.5h0m25.6 14.9h0m-0.8-16.3h0m-0.2 16.5h0m-53.3 47.9h0m29-27.9h0m-12.8 5.6h0m-20.8 2.4h0m35.7-40.6h0m18.6 16.7h0m-24.4-13.5h0m18.9 55.4h0m-11.2-32.9h0m0-29.5h0m-37.5 29.5h0m44.1-3h0m11.2-13.1h0m-3-0.5h0m12.2 32.1h0m-73.2 65.7h0m36-102.6h0"/>
<path stroke="#00A070" d="M216.8 1319.8h0m-3.1-15.9h0m5.3 18.8h0m-24.1-21.4h0m-0.5 138.6h0m24.5-146.7h0m-17.1 36.5h0m-21.2-21.9h0m19.6 20.8h0m5.6-21.4h0m-13.2-8.3h0m-15.3 29h0m45.2-17.1h0m-28.7-16.5h0m19.8 35.6h0m-21.9-5.4h0m22-33.7h0m-41.1 5.9h0m38.1 45.6h0m-7.1-50.2h0m6.6 23h0m7.8-28.3h0m-7.1 9.6h0m2.7 17.4h0m8.3-33.2h0m-10.2 10h0m2.2-1.6h0m-28.3 40.8h0m15.2-30.7h0m-47.9-8.5h0"/>
<path stroke="#DB5C00" d="M219.8 1291.4h0m-27.7 37.3h0m19.8-17.7h0m-16.8-30h0m2.6 31.2h0m-8.3 36.6h0m2.7-36.5h0m5.9 0h0m26.5-15.4h0m8.3 6.9h0m-21.5 2.8h0m-30.7 57.2h0m12.5-22.1h0m-1.4-11.2h0m38.5-33.3h0m-7.6 15.8h0m-28.7-1.2h0m-12-10.9h0m14.5-2.6h0m-6.5 6h0m46.2-14.9h0m-23.5-7h0m-8.3 10.3h0m6.8-4.9h0m-4.6 11.6h0m-5.5 5.1h0m-51.8 64.6h0m61.2-60.2h0m-5.6-15.6h0m-12.7 14.6h0m25.3 0.6h0m-0.6-0.6h0m-25.7 26.6h0m-18.4-6h0m18.7-21.2h0m3.6-15.3h0m-20.7 58.9h0m-3.2-31.7h0m26.1-37.7h0"/>
<path stroke="#00A070" d="M353.4 1310h0m45.1 129.1h0m-18.2-109.9h0m-90.6 58.6h0m77.4-53.6h0m66.8-19h0m-39.1-29.9h0m23.1 107.9h0m18.1-86.9h0m0.8-20.9h0m-21.6 81.6h0m-34.3-60.2h0"/>
<path stroke="#DB5C00" d="M394.3 1350.4h0m21.1-68.4h0m-18.9 81.7h0m4-16.4h0"/>
<path stroke="#00A070" d="M330.6 1315.8h0m-8.5 2.2h0m25.5 27h0m20.5-20.7h0m68.3-51.9h0"/>
<path stroke="#DB5C00" d="M418.1 1276.2h0m-21.2 63.4h0m-93.3 91h0m80.9-110.8h0m6.2 13.5h0"/>
<path stroke="#00A070" d="M382.6 1344.4h0m46.2 8.1h0"/>
<path stroke="#DB5C00" d="M410.2 1367h0m-32.3-53.6h0m23 29.8h0"/>
<path stroke="#00A070" d="M430 1270.8h0m2.8 55.7h0m-53.7 38h0m33.9 8.8h0m-30-78.6h0m54.1-6.4h0m-1.2 18.9h0m-6.6 35.4h0"/>
<path stroke="#DB5C00" d="M370.6 1325.9h0m54.8-46.4h0m-42.3 106h0m50.8-110.1h0m-20.2 88.1h0m18.1-87.3h0"/>
<path stroke="#00A070" d="M396.3 1342h0m5.8 22.3h0m-74.2 6h0m-15.5-72h0m62-1.9h0m64.3-0.7h0"/>
<path stroke="#DB5C00" d="M389.5 1304.9h0m-10-9.1h0m34.6-12.1h0m-23.2 44.7h0m14.8 7.5h0m-9.3 10.1h0"/>
<path stroke="#00A070" d="M425.3 1279.9h0m-26.3 80.6h0m37.3-49.8h0m-23.8 28h0m-0.8 17.5h0m-51.8-29h0m-19.4-17.2h0"/>
<path stroke="#DB5C00" d="M377.1 1301.5h0m42.5 50.8h0m18.6-73.4h0m-7.7 38.9h0m-39.4-10.3h0m-1.1 42h0m12.4 3.3h0"/>
<path stroke="#00A070" d="M396.4 1300.8h0m-21.7-4.8h0m45-16.1h0m-147.8 145h0"/>
<path stroke="#DB5C00" d="M382.3 1304.9h0m56.2-7.9h0m-28.7 61.2h0m-26.7-65h0m27.6 61h0"/>
<path stroke="#00A070" d="M381.3 1314h0m19.6-29.5h0m-28.2 35.4h0m-52.9-40.2h0m44 93.9h0m70.3-71.7h0m-150.6 76.5h0m107.5-76.2h0m29.9 44.2h0m-53.6-31.3h0m48.8 25h0"/>
<path stroke="#DB5C00" d="M436.2 1293.4h0m-0.3-4.7h0m-12.5 66h0m-26.9-36h0m-87.8 103.8h0m74.9-55.5h0m35.8-86.8h0"/>
<path stroke="#00A070" d="M436 1291.3h0m-0.6-8.9h0m-45.2 41.4h0m38.3 17.6h0m-50.8 34.7h0m22.9-62.6h0m-24.6-4.7h0m58.6-19.6h0m-6.2 62.1h0"/>
<path stroke="#DB5C00" d="M402.3 1293.4h0m-7.6 81.2h0m38-62.9h0m2.4-15.7h0m-35.7 49.3h0m0.5-33.2h0m-1.8 25.6h0m-4.9 20h0m5.7-62.8h0m-3.7 32.3h0m5.4-15.8h0m4.9-21.2h0m-23.6 40.8h0m12.4-6.4h0"/>
<path stroke="#00A070" d="M432.4 1325.5h0m-0.7-4.8h0m2 15.6h0m-51.4-5.7h0m-41.2 40.9h0m92.1-60.8h0m-30.9 10.5h0m-66.7-33.4h0m40.2 23.8h0m45 46.9h0m-25.7-66.7h0m12.6-4.8h0"/>
<path stroke="#DB5C00" d="M394 1310.8h0m14.7-27.4h0m-27.9 45.7h0m28.4 4.3h0m8.6 2.9h0m-0.9-54.9h0m-17.6 51.1h0m-0.4-28.8h0m18.5 45.5h0m-8.5-61.9h0m-17.6 24.7h0m-21.4 53.6h0m36.6-21.7h0m-17-27.7h0m29.7 4.4h0m-2.5 3.5h0"/>
<path stroke="#00A070" d="M400.1 1335.8h0m31.8-4h0m-24-14h0m-2.2 9.8h0m7.1 10.6h0m2.1 2.9h0m1.5-10.2h0m8 6.4h0m-45 21.2h0m-72.3-14.9h0m66.3-53.4h0m24 21.3h0m26.9 17.1h0m-2-14.3h0m-24.7 8.3h0m31.4-1.9h0m-82 77.2h0"/>
<path stroke="#DB5C00" d="M422.6 1338.5h0m-23.6-1.8h0m29.4-59.2h0m-29.7 18.6h0m17.5 25.2h0m17.8-40.4h0m-12.1 49h0m-1.4-50.2h0m-23.7 27.4h0m22.7-21.7h0m3.6 14.9h0m-9.6-16.3h0m-3.7 64.4h0m-3.2-27.9h0m-10.8 5.6h0m3 2.4h0m37-23.9h0m-26.7-13.5h0m-2.7 55.4h0m17.5-32.9h0m-9.7 0h0m9-16.1h0m-23.1-0.5h0m24.1 32.1h0m-58.1 65.7h0m43.5-102.6h0"/>
<path stroke="#00A070" d="M423.7 1296.1h0m6.5 23.7h0m1.8-15.9h0m-0.2 18.8h0m-25.5 117.2h0m25.7-132.1h0m1.9-14.6h0m-16.3 36.5h0m-19.1-21.9h0m18.1 20.8h0m3.3-21.4h0m9.4-18.4h0m-41.9 39.1h0m47.2-17.1h0m-22.3-16.5h0m15.9-1.5h0m0.4 37.1h0m-17.7-5.4h0m15.5-33.7h0m-49.8 5.9h0m49.5 45.6h0m-11-50.2h0m11.3 23h0m7.7-28.3h0m-8.7 9.6h0m9.3-15.8h0m-8.9 10h0m3.5-1.6h0m-21.3 40.8h0m4.5-30.7h0m-52.6-8.5h0"/>
<path stroke="#DB5C00" d="M408.6 1328.7h0m-5.5-17.7h0m20.7-30h0m2.3 31.2h0m-18.1 36.6h0m0.7-36.5h0m9 0h0m-0.4-15.4h0m9.3 6.9h0m-10 2.8h0m0.3 57.2h0m-33.9-22.1h0m29.5-11.2h0m21.6-33.3h0m-5.9 15.8h0m-16.6-1.2h0m-3.5-13.5h0m-2.6 6h0m18-14.9h0m3.1-7h0m-7.1 10.3h0m1.4-4.9h0m-22.3 11.6h0m16 5.1h0m-58.5 64.6h0m68.8-60.2h0m-1.1-15.6h0m-18.3 14.6h0m23.1 0.6h0m-5.8-0.6h0m-34.4 26.6h0m19.2-6h0m-5.7-21.2h0m14.8-15.3h0m-11 58.9h0m19-31.7h0m-2-37.7h0"/>
<path stroke="#00A070" d="M541.4 1354.4h0m-32.8 84.7h0m-18.4-51.3h0m9.4-53.6h0m19.1 59h0m45.3-77.7h0"/>
<path stroke="#DB5C00" d="M609.4 1293.3h0m-85.8 57.1h0m71.8-30.2h0m10.5-13h0m8.7-13.6h0m-22.4 10.4h0m-92.3 59.7h0m-13.3-16.4h0m118.1-60.5h0"/>
<path stroke="#00A070" d="M503.8 1338.6h0m0.1 4.7h0m26.3-69.3h0m18.1 57.5h0m2-59.1h0"/>
<path stroke="#DB5C00" d="M596.2 1319.4h0m7.8-35.7h0m-46.2-7.5h0m48.7 23.7h0m-59.6 28h0m35-37.2h0m-54.1 48.9h0m-56.9 91h0m21.3-110.8h0m76.8 0.2h0m0-4.7h0m27.6-15.4h0m11.4 14.8h0m-134.6-0.2h0m8.3 18.8h0"/>
<path stroke="#00A070" d="M556.3 1331.3h0m-53.4 16.5h0m20.4 5.4h0"/>
<path stroke="#DB5C00" d="M497.7 1284.3h0m5.5 64.1h0m-13.9 18.6h0m-1.2-28.1h0m94.3 4.3h0m-9.5-27h0m59.9-14.5h0m-26.7-19h0m-37.6 30.7h0m43.1-28.5h0"/>
<path stroke="#00A070" d="M531.5 1270.8h0m-47.6 93.7h0m31 8.8h0m-8.4-26h0m8.2-4.7h0"/>
<path stroke="#DB5C00" d="M559.7 1323.8h0m24.8-16h0m-101.8-6.8h0m58.5-21.5h0m-69.1 106h0m107.9-45.6h0m26.8-40.7h0m-33.6-23.8h0m-93.8 20h0m56.5 68.1h0m54.9-43.3h0m10.8-44h0m-6.8 20.6h0m-101.7 43.9h0"/>
<path stroke="#00A070" d="M502.7 1342h0m-15.4 22.3h0m70.6-57.7h0m-9.1 18.2h0m-49.5 45.5h0"/>
<path stroke="#DB5C00" d="M578.3 1304.9h0m-1.1-23.8h0m-91.1 9.7h0m55.6 26.9h0m74.5-1.4h0m-119.2-20.2h0m84.8 4.3h0m-0.6 34h0m-96.2-44h0m14.5-6.7h0m84.9 26.6h0m-40.4 19.7h0"/>
<path stroke="#00A070" d="M545.4 1279.9h0m-46.1 80.6h0m41.1-41.3h0m15 19.5h0m-26 17.5h0m12.2-40.3h0"/>
<path stroke="#DB5C00" d="M523 1350.6h0m3.8-69.1h0m-15.5 70.8h0m58.5-73.4h0m25.5 31.1h0m-5.6-28.1h0m5.4 3.9h0m-72.5-6.5h0m-37.2 41.5h0m28.7 28.7h0m-11-40.9h0m107.8-1.7h0m-58.4 18.2h0m-4.5 24.1h0m-31.8 3.6h0"/>
<path stroke="#00A070" d="M550.4 1304.8h0m-56.6 18.7h0m41.4-5.5h0m-4.7-35.3h0m-39.4 30.3h0m-0.7-17h0m61.2-16.1h0m-77.3 145h0"/>
<path stroke="#DB5C00" d="M484.5 1304.9h0m-1.4 29.9h0m69.8 23.4h0m31.8-63.2h0m28.1 9.9h0m-88.6-19.9h0m-19.7 13.2h0m-21.2 25.8h0m-1.5-37.1h0m55.6 67.3h0m-7.1-66h0m49.4 28.9h0m24.1-25.5h0m-64.4 31.3h0m-29.7-24.2h0"/>
<path stroke="#00A070" d="M511.9 1338.7h0m17.3-38.7h0m-22.2 0.3h0m4.7-20.6h0m20.2 21.6h0m-43.7 72.3h0m15.6 4.8h0m33.4-55.2h0m31.3-15.5h0m-40.6 38.7h0m-24.3-31.3h0m63.9-12.3h0m-50.4 37.3h0"/>
<path stroke="#DB5C00" d="M521.6 1280.4h0m71.4 9.5h0m-33 23.6h0m41.6-17.4h0m-75.8 58.6h0m69.8-63.1h0m-35.9 9.1h0m8.6-12.9h0m-60.1 2.5h0m-8.6 10.4h0m-28 121.8h0m28.9-116.5h0m10.1 61h0m57.2-57.3h0m-28.6-29.5h0m-42.9 6.7h0m29.3 9.9h0m20.4 18.7h0m16.9-4.4h0m64.4-14.1h0"/>
<path stroke="#00A070" d="M533.7 1318.7h0m-2-31h0m3.9 57.8h0m21.6-63.1h0m-55.2 41.4h0m41 17.6h0m-9-49.4h0m-30.4 84.1h0m-10.6-62.6h0m15.2 1.8h0m-2.9 36h0"/>
<path stroke="#DB5C00" d="M533.9 1282h0m30.5 13.1h0m-13.5 5.5h0m-50.7 3.4h0m17.4-2.6h0m-34 73.2h0m100.3-78.6h0m-90.3 49.3h0m37.3-27.7h0m25.9 27.6h0m-62.9-33.1h0m-8.7 25.6h0m19.6-30.5h0m65.4-16.5h0m8.7 67h0m-90.6-65.6h0m6.7 23.1h0m-0.1-3.8h0m65.5-21.2h0m-84.9 40.8h0m98.8-6.4h0m-5.6-20.7h0m-60.7-15.8h0m80.5-3.4h0"/>
<path stroke="#00A070" d="M524.9 1292.9h0m26.3 32.6h0m-23.4-4.8h0m2.1 15.6h0m8.9-5.7h0m-36.1-30.1h0m5.7 71h0m17.8-50.3h0m-24.9 37.3h0m19.8-74.5h0m14.7 40.3h0m-24.2-10h0m16.1-12.4h0m0.8 1.3h0m15.8-19.5h0"/>
<path stroke="#DB5C00" d="M485.3 1296.2h0m103.5-4.3h0m-99 17h0m54.4 1.9h0m-17.7-21.2h0m13.6-6.2h0m-38.8 45.7h0m7.2 7.2h0m70.2-32.4h0m-78.3 21.3h0m7.3-43.8h0m68.1 51.1h0m-49.7-8.7h0m-51.2-20.1h0m59.8 21.5h0m-42.1 24h0m17.9-61.9h0m-15.9 3h0m-14.9 21.7h0m54.4 1.6h0m-23.3-7.2h0m15.3 23.1h0m75.7-17.6h0m-97.4 53.7h0m43.2-64.2h0m-7.1 42.5h0m-28.2-60h0m15.2 32.3h0m-32.8 4.4h0m73.1 5.4h0m-24 0.6h0m18.1-32h0m-12.4 29.5h0m-28.8-36.8h0"/>
<path stroke="#00A070" d="M512.6 1335.8h0m12.9-45h0m-0.1 12.9h0m11 28.1h0m-24.3-37h0m-16.3 23h0m18.1-11.4h0m-11 21.2h0m56.4-26.6h0m2.3-14.3h0m-3.1 51.5h0m-16 2.9h0m-11.1-52.7h0m-24 42.5h0m14 6.4h0m-8.8-11.4h0m41.1-39.6h0m-44.1 72.2h0m-8.1-14.9h0m30.9-53.4h0m0.9 23.7h0m-6.4 14.7h0m10.5-43h0m3.9 27.5h0m10.7-4.9h0m-23 6.1h0m-15.6 8.3h0m7.4-1.9h0m-22.2 77.2h0"/>
<path stroke="#DB5C00" d="M515.7 1338.5h0m-35.2-1.8h0m98.7-24.4h0m-21.9-34.8h0m-42.9 43.8h0m35.7-40.4h0m-49.5 13.6h0m34.5 35.4h0m-14.5-50.2h0m21.1 32.8h0m-56.1-5.4h0m139.9-20.2h0m-81 15.8h0m44.3-2.4h0m9.8-16.3h0m-23 16.5h0m-94.9 47.9h0m35.7-27.9h0m-2.9 5.6h0m-24.4 2.4h0m12.5-40.6h0m23.1 16.7h0m2.2-13.5h0m25.2 55.4h0m-1.3-32.9h0m9.3-5.1h0m-40.7-24.4h0m-15.9 20.7h0m-19.5 8.8h0m33.1-3h0m64.1-13.1h0m-23.7-0.5h0m37.2 32.1h0m-116.1 65.7h0m48.6-102.6h0"/>
<path stroke="#00A070" d="M519.7 1296.1h0m32 23.7h0m-56.8-15.9h0m65.3 18.8h0m-49.7-21.4h0m1.1 138.6h0m23.4-132.1h0m1.2-14.6h0m-21.1 14.6h0m-0.4 20.8h0m22.3-28.1h0m-1 6.7h0m-23.2-18.4h0m8 10.1h0m4.3 29h0m42.1-17.1h0m-55.7-16.5h0m9.9-1.5h0m14.8 37.1h0m-29.2-5.4h0m49.7-33.7h0m-18.1 5.9h0m-9.9 45.6h0m23.8-50.2h0m-34.6 23h0m2.3-28.3h0m20.7 9.6h0m16.7 17.4h0m7.5-33.2h0m-18.1 10h0m-13.2-1.6h0m-37.3 40.8h0m51.5-30.7h0m-4.4-8.5h0"/>
<path stroke="#DB5C00" d="M578.1 1291.4h0m-56.5 37.3h0m20.1-17.7h0m-28.6-30h0m16.8 67.8h0m-11.9-36.5h0m6 0h0m47.4-15.4h0m22.6 6.9h0m-64.2 2.8h0m-27.3 57.2h0m33.5-22.1h0m-14.8-11.2h0m28.4-33.3h0m9.2 15.8h0m-35.6-1.2h0m-38.2-10.9h0m57.5-2.6h0m-49.9 6h0m95.6-14.9h0m-40.6-7h0m-2.9 10.3h0m1.1-4.9h0m12.9 11.6h0m-30.4 5.1h0m-54 64.6h0m42.5-60.2h0m22-15.6h0m-11.7 14.6h0m16.4 0.6h0m18.6-0.6h0m-40.1 26.6h0m-27.4-6h0m44.1-21.2h0m-28.5-15.3h0m-21.9 58.9h0m-16-31.7h0m33-37.7h0"/>
<path stroke="#00A070" d="M736.1 1354.4h0m-68.3 84.7h0m31.8-51.3h0m6.8 5.4h0m98.1-86.9h0m3.6-20.8h0m-82.6 81.5h0"/>
<path stroke="#DB5C00" d="M814 1282h0m-4.4 19.6h0m-31.7 7.1h0m47.9-21.9h0"/>
<path stroke="#00A070" d="M772.6 1338.6h0m-6.8-17.4h0m-4.5-8.7h0m68.1-38.5h0m4.3-1.6h0"/>
<path stroke="#DB5C00" d="M829.1 1276.2h0m-19.7 7h0m-133.6 147.4h0m128.2-141h0"/>
<path stroke="#00A070" d="M808 1301h0m-19.1-2.9h0m9.7-4.8h0m-53.1 59.2h0m17.3-4.7h0m34-34.3h0m17.5-18.6h0"/>
<path stroke="#DB5C00" d="M808.5 1287h0"/>
<path stroke="#00A070" d="M832.1 1270.8h0m-110.6 102.5h0m97.5-85.1h0"/>
<path stroke="#DB5C00" d="M712.1 1385.5h0m114.4-110.1h0m-40.2 23h0m-50.4 65.1h0m56.3-64.3h0m35.2-23h0m-35.2 24h0"/>
<path stroke="#00A070" d="M733.9 1364.3h0m67.7-57.7h0m-12.4 16.4h0m-55.5 47.3h0"/>
<path stroke="#DB5C00" d="M749 1330.4h0m27 4h0"/>
<path stroke="#00A070" d="M743.1 1360.5h0m18.8-38.3h0"/>
<path stroke="#DB5C00" d="M744.9 1352.3h0m80.4-73.4h0m-28 31.1h0m23.7-24.2h0m3.3-6.5h0m-17.7 8.2h0m-69.1 62h0m0.4-0.3h0"/>
<path stroke="#00A070" d="M766.9 1322.7h0m24.5-6.4h0m23-33.5h0m-19.4 26.9h0m-112.1 115.2h0m85.8-108.2h0"/>
<path stroke="#DB5C00" d="M739 1358.2h0m73.2-63.2h0m-28.1 10.5h0m-46.5 48.7h0m55.4-43.9h0m0.6-11.6h0"/>
<path stroke="#00A070" d="M770.2 1314h0m-50.2 59.6h0m-2.2 4.8h0m48.8-68.2h0m20.8 13h0m-48.7 23.2h0m54-31.3h0m-13-8.2h0m-18.6 33.2h0"/>
<path stroke="#DB5C00" d="M741.3 1354.7h0m-54.2 67.8h0m87-106.7h0m-46.6 51.2h0m47.4-57.3h0m43.4-29.5h0m-11.2 6.7h0m-16.8 28.6h0m2.4-4.4h0"/>
<path stroke="#00A070" d="M767.6 1324.4h0m0.9 0.5h0m34-32.8h0m-57.9 49.3h0m33-9.3h0m41.2-45.5h0m-91.4 89.5h0m53.1-68.7h0m14 1.4h0m21.7-18h0m-68.3 60.5h0"/>
<path stroke="#DB5C00" d="M718.9 1374.6h0m55.6-64.4h0m-34.3 35h0m15.7-7.5h0m-22 20h0m51.6-30.5h0m-9.3 3.8h0"/>
<path stroke="#00A070" d="M787.6 1302.6h0m-7.1 22.9h0m-36 10.8h0m48.6-37.5h0m-60 72.7h0m-0.7-13h0m67.8-66.7h0m7.4-2.2h0m4.9-4.7h0m-39.1 32.8h0m32.1-14.5h0m19.2-19.5h0"/>
<path stroke="#DB5C00" d="M754.5 1329.1h0m33.9-25.2h0m37.2-22.5h0m-74.2 51.1h0m8.8-8.7h0m8.6 1.4h0m-16 24h0m47.7-42.8h0m-74.3 59.2h0m87.8-81.7h0m-49.1 42.7h0"/>
<path stroke="#00A070" d="M753.7 1335.8h0m10.1-4h0m18.1-21.8h0m-17.5 17.6h0m-16.6 10.6h0m9.9 2.9h0m-0.6-10.2h0m-2.5 6.4h0m64.4-51h0m-77.5 72.2h0m-4.4-14.9h0m71.4-53.4h0m-27.1 21.3h0m-17.8 17.1h0m55.6-43h0m-38.3 27.5h0m23.9-10.5h0m-94.4 95.3h0"/>
<path stroke="#DB5C00" d="M765.2 1338.5h0m-9.9-1.8h0m66.5-59.2h0m-34 43.8h0m34.1-41.6h0m-30.6 23h0m21.1-17.3h0m-4.9 14.9h0m-14.9 0.2h0m-45.4 47.9h0m23.6-27.9h0m2.4 5.6h0m-6.4 2.4h0m45-40.6h0m-54.6 58.6h0m58.9-62.4h0m-12.8 20.7h0m-11.9 8.8h0m-17.7 15.5h0m-66.1 65.7h0"/>
<path stroke="#00A070" d="M779.1 1319.8h0m-0.4 2.9h0m14.1-21.4h0m-126.1 138.6h0m148-146.7h0m-37.7 36.5h0m8.3-21.9h0m7.9-7.3h0m-5.1 6.7h0m29.8-18.4h0m-48.1 39.1h0m42-33.6h0m2.5-1.5h0m-55.4 37.1h0m26.4-5.4h0m29.3-33.7h0m-18.2 5.9h0m-51.8 45.6h0m38.3-27.2h0m31.6-28.3h0m-28.1 27h0m36.8-33.2h0m-16.4 10h0m9.6-1.6h0m-45.5 40.8h0"/>
<path stroke="#DB5C00" d="M813.8 1291.4h0m-47.7 37.3h0m26.2-17.7h0m34.2-30h0m-35.5 31.2h0m-44.9 36.6h0m39.9-36.5h0m-9.7 0h0m27.4-5.7h0m-74.1 57.2h0m22.3-22.1h0m15-11.2h0m41.7-33.3h0m-31.4 15.8h0m9-1.2h0m15.5-10.9h0m-3.3-2.6h0m-7.2 6h0m24.7-14.9h0m6-7h0m-10.7 10.3h0m2.8-4.9h0m-11.6 11.6h0m-9.2 5.1h0m-77.7 64.6h0m72.6-60.2h0m14.1-15.6h0m-5.3 14.6h0m-2.4 0.6h0m-7.4-0.6h0m-14.8 26.6h0m-13.6-6h0m34.1-21.2h0m16-15.3h0m-65 58.9h0m36.2-31.7h0m39.3-37.7h0"/>
<path stroke="#00A070" d="M971.9 1354.4h0m-69.4 84.7h0m-31.3-51.3h0m154.6-90.1h0m-114.1 95.5h0m33.8-59.9h0m70.2-27h0m-41.3-20.8h0m-52.5 81.5h0"/>
<path stroke="#DB5C00" d="M950.9 1350.4h0m37.1-68.4h0m-19.6 81.7h0m-32.7-17.3h0m94.9-59.6h0"/>
<path stroke="#00A070" d="M926.5 1345h0m-2.5-32.5h0m99.6-38.5h0m-57.1 43.8h0m60.1-45.4h0"/>
<path stroke="#DB5C00" d="M1023.9 1295h0m-29.1-18.8h0m-3.4 63.4h0m-126.5 91h0m146-121h0m-75 5.1h0m19.7 18.6h0"/>
<path stroke="#00A070" d="M967.1 1344.4h0m15.3 8.1h0m29.4-44.5h0m-18.7 39.8h0m-57.5 5.4h0"/>
<path stroke="#DB5C00" d="M959.3 1348.4h0m4.7 18.6h0m18.3-28.1h0m-14.4 4.3h0m4.9-56.2h0"/>
<path stroke="#00A070" d="M993.5 1270.8h0m-19 22.2h0m-9.3 71.5h0m-10.6 8.8h0m-1-46.5h0m10.3 15.8h0"/>
<path stroke="#DB5C00" d="M937 1323.4h0m17.6-15.6h0m64.4-28.3h0m-101.7 106h0m60.1-45.6h0m31.2-27.9h0m-0.6-36.6h0m-75.2 23h0m57.8 65.1h0m-31-28.4h0m13.9-35.9h0m55.6-16.1h0m-18.8-6.9h0m-58.2 64.5h0m24.4-40.5h0"/>
<path stroke="#00A070" d="M962.9 1342h0m28.2 22.3h0m-28-34.2h0m-3.7-27.9h0m10.4-1.3h0m43.4 22.1h0m-52.8 47.3h0"/>
<path stroke="#DB5C00" d="M955.2 1304.9h0m23-9.1h0m-46.3 34.6h0m68.1 4h0m6.3-19.9h0m-37.4 21.4h0"/>
<path stroke="#00A070" d="M964.9 1360.5h0m-3.4-57.8h0m-13.5 36h0m20.6 17.5h0m-1.1-40h0m-30.1-0.3h0"/>
<path stroke="#DB5C00" d="M1022 1281.5h0m-45.5 10.9h0m4.4 59.9h0m32.3-73.4h0m-7.7 34.6h0m-15.7-31.6h0m-28.3 26.7h0m-8.5 40.6h0m-15.2-18.6h0m34.6 22.2h0m-5.3-27.2h0"/>
<path stroke="#00A070" d="M970.3 1310.3h0m-4-13.7h0m10.9-13.8h0m-24.5 19.4h0m41.7-22.3h0m8.5 29.8h0m-122.9 115.2h0m67.9-108.2h0"/>
<path stroke="#DB5C00" d="M980.1 1334.8h0m-26 23.4h0m32.5-4h0m12.6-24.9h0"/>
<path stroke="#00A070" d="M999.2 1338.7h0m22-38.7h0m-9.5-20.3h0m-54.5 93.9h0m-49.9 4.8h0m29.6-68.2h0m67.2 13h0m-24.9 23.2h0m-41.8-6.3h0"/>
<path stroke="#DB5C00" d="M1029.4 1280.4h0m-65 33.1h0m-6.3 41.2h0m12.4-36h0m46.7-15.7h0m-114.3 119.5h0m48.7-129.2h0m-2.6 73.7h0m10.5-50.3h0m37.2-36.5h0m-18.9 6.7h0m43-3.5h0"/>
<path stroke="#00A070" d="M969.4 1324.4h0m1.8 21.1h0m48.7-63.1h0m5.6 26.1h0m-69.9 4.2h0m2.9 28.7h0m39.3-9.3h0m-86.1 44h0m69.4-24.8h0"/>
<path stroke="#DB5C00" d="M1015.5 1282h0m-38 18.6h0m-49.2 74h0m44.8-29.3h0m4.6-0.1h0m-12.7-7.5h0m-36.7 20h0m67.6-26.7h0m-42.2-27.1h0m60.1 28.2h0m-21.7-47.4h0"/>
<path stroke="#00A070" d="M965.1 1302.6h0m45.8 22.9h0m-36.4-4.8h0m-24.5 15.6h0m69-44.8h0m-36.7 7.3h0m-1.1 31.8h0m-58 40.9h0m54.4-79.8h0m34.2 14.6h0m-49.2 52.2h0m4.9-66.7h0m14.5-2.2h0m2.7 34.7h0m-0.6-39.4h0m44-1.2h0"/>
<path stroke="#DB5C00" d="M943.6 1310.8h0m19.1 18.3h0m22.5 4.3h0m-18.3 2.9h0m19.1-11.1h0m-15.7 7.3h0m-9.6-8.7h0m-14.8 1.4h0m30.5 24h0m49.9-58.9h0m-53.5 23.3h0m12.5 15.9h0m-47.5 36.1h0m56.6-21.7h0m-36.8-27.7h0m17.7 4.4h0m-2 6h0m-2.6-2.5h0"/>
<path stroke="#00A070" d="M964.2 1335.8h0m24.5-4h0m9.1-14h0m13.6-11.4h0m-21.7 21.2h0m25.7-26.6h0m-79.2 37.2h0m41.3 2.9h0m21.6-10.2h0m-12.4 6.4h0m30.1-51h0m-28 72.2h0m-74.9-14.9h0m79.3-15h0m4-15.5h0m-0.1 9.5h0m8.2-20h0m-13.9 18.1h0m-93.3 77.2h0"/>
<path stroke="#DB5C00" d="M1003.4 1338.5h0m-40.5-1.8h0m34.3-59.2h0m14.1 43.8h0m-13.9-40.4h0m-34.3 49h0m44.5-50.2h0m-33 32.8h0m1.8-9.8h0m11.6-17.3h0m25.4 14.9h0m1.9-16.3h0m-47.9 16.5h0m-39.2 47.9h0m24.8-27.9h0m14.6 5.6h0m8.7 2.4h0m10.8-34.1h0m10.7-6.5h0m-10.6 58.6h0m14.9-32.9h0m-6.5-29.5h0m-10.4 13.4h0m-21.7 31.6h0m-49.6 65.7h0"/>
<path stroke="#00A070" d="M999.2 1296.1h0m-5.6 23.7h0m1-15.9h0m25.1 18.8h0m-27.6-21.4h0m-91.8 138.6h0m124.4-146.7h0m-53 36.5h0m0.4-21.9h0m14.3 20.8h0m3.7-28.1h0m15.4-1.6h0m-50.3 29h0m74.5-33.6h0m-61.5 35.6h0m35.9-5.4h0m13.7-33.7h0m-50.6 5.9h0m-29 45.6h0m46.7-27.2h0m25-18.7h0m-20.7 17.4h0m14.6-33.2h0m-15.7 10h0m25-1.6h0m-17.7 40.8h0m-4.3-30.7h0"/>
<path stroke="#DB5C00" d="M977.2 1328.7h0m10.2-17.7h0m37.6-30h0m-24.8 31.2h0m-30.2 36.6h0m9.3-36.5h0m-21.4 0h0m48.8-15.4h0m-2.3 6.9h0m-4.3 2.8h0m-63.4 57.2h0m19.6-22.1h0m25.2-11.2h0m37.8-33.3h0m-27.3 15.8h0m-17.4-1.2h0m12.3-10.9h0m15.3-2.6h0m-21.4 6h0m20.3-14.9h0m5.5-7h0m1.2 10.3h0m-9.3-4.9h0m-9.4 11.6h0m10.2 5.1h0m-83.1 64.6h0m79-60.2h0m0.5-15.6h0m7.7 14.6h0m0.7 0.6h0m-16.2-0.6h0m-13.9 26.6h0m4-6h0m-7.6-21.2h0m35.8-15.3h0m-49.3 58.9h0m25.5-31.7h0m30.5-37.7h0"/>
<path stroke="#00A070" d="M1121 1354.4h0m-55.2 84.7h0m29.6-51.3h0m-3.4 5.4h0"/>
<path stroke="#DB5C00" d="M1183.6 1291h0m-28.1 14.5h0m45.8-23.5h0m10 19.6h0m13.3-14.8h0"/>
<path stroke="#00A070" d="M1174.4 1338.6h0m-36.9-17.4h0m82.3-47.2h0m-96.7 68.2h0m82.8-61h0m23.5-8.8h0"/>
<path stroke="#DB5C00" d="M1142.4 1319.4h0m86-43.2h0m-50.2 7h0m-86.2 147.4h0m85.2-136.7h0"/>
<path stroke="#00A070" d="M1210.5 1301h0m-48.8-2.9h0m10.5-4.8h0m46.2-5.5h0m-34.1 2.1h0m14.1 18.3h0m-39.5 39.6h0m37.7-34.3h0m17.6-18.6h0m-71.3 58.3h0"/>
<path stroke="#DB5C00" d="M1203.6 1302.9h0m-85.8 64.1h0"/>
<path stroke="#00A070" d="M1228.3 1270.8h0m-113.3 93.7h0m-6.8 8.8h0m105.8-78.6h0m1.8-2.3h0m-61.7 54.9h0"/>
<path stroke="#DB5C00" d="M1098.8 1385.5h0m120-110.1h0m-53.1 23h0m-42.3 65.1h0m71.5-80.4h0m27.4-6.9h0"/>
<path stroke="#00A070" d="M1182.3 1292.4h0m-60.8 71.9h0m11.4 6h0"/>
<path stroke="#DB5C00" d="M1134.6 1330.4h0m10.1 15.6h0"/>
<path stroke="#00A070" d="M1148.1 1360.5h0m11.3-21.8h0m64.5-54.9h0"/>
<path stroke="#DB5C00" d="M1135 1352.3h0m84.5-73.4h0m-25.8 31.1h0m28.8-30.7h0m-36.5 8.2h0m-64.2 62h0m5.3 3.3h0m33.5-54.1h0"/>
<path stroke="#00A070" d="M1213 1292.2h0m-46.8 6.3h0m-11.1 8.4h0m52.7-10.3h0m9.4-16.7h0m-121.8 145h0"/>
<path stroke="#DB5C00" d="M1137 1358.2h0m50.6-69.8h0m-24.2 17.1h0m54.7-18.6h0m-96.8 67.3h0m83.7-57.2h0m-68.5 30h0m65.5-43.3h0"/>
<path stroke="#00A070" d="M1139.5 1314h0m60.3-29.5h0m11.4-4.8h0m-105.4 93.9h0m12.3 4.8h0m23.4-68.2h0m-21.3 36.2h0m70.8-31.3h0m-27.1-10.5h0m-10.3 2.3h0m14.6 33.2h0"/>
<path stroke="#DB5C00" d="M1180.2 1293.4h0m-42.6 61.3h0m31.9-51.7h0m-71.7 119.5h0m84.4-96.9h0m-37.9-9.8h0m-29.4 51.2h0m30.1-57.3h0m63.1-29.5h0m-15.7 6.7h0m-22.1 9.9h0m34 0.2h0"/>
<path stroke="#00A070" d="M1126.5 1345.5h0m62-53.4h0m-21.6 16.4h0m-35.2 32.9h0m-17.9 34.7h0m37.4-68.7h0m28-12.2h0m15.2 13.6h0m-57.8 42.5h0"/>
<path stroke="#DB5C00" d="M1205.4 1282h0m-103.9 92.6h0m42.4-64.4h0m-14.3 35.1h0m-8-0.1h0m26.8-7.5h0m-22.1 20h0m81.1-62.8h0m-12.7 32.3h0m-29.9 3.8h0m16.5-6.4h0m38.3-39.9h0"/>
<path stroke="#00A070" d="M1188.4 1320.7h0m-62.6 15.6h0m49.6-37.5h0m-34.5 72.7h0m27.7-65.2h0m-49.5 52.2h0m66-66.7h0m-30.9 32.5h0m47.1-39.4h0m-49 32.8h0m47.7-14.5h0m20.5-19.5h0"/>
<path stroke="#DB5C00" d="M1203.1 1296.2h0m-36.1 12.7h0m-29.3 20.2h0m18.4 4.3h0m9.7 2.9h0m4.3-32.4h0m55.4-22.5h0m-93.7 51.1h0m7.6-8.7h0m25.3 1.4h0m-16.6 24h0m49.6-61.9h0m-0.3 3h0m-7.4 23.3h0m13.3-7.2h0m-91 59.2h0m28.1-21.7h0m61.6-60h0m-16.3 32.3h0m-3 4.4h0m-23.7 5.4h0m-9.2 0.6h0m42.8-19h0"/>
<path stroke="#00A070" d="M1191.2 1290.8h0m3.5 12.9h0m-50 28.1h0m48.8-37h0m-33.5 15.2h0m18.5 7.8h0m-37.2 9.8h0m11.6 13.5h0m62.2-50.1h0m-89.5 39.9h0m12.1 6.4h0m30.3-11.4h0m-36.3 32.6h0m-4.5-14.9h0m67.8-53.4h0m-39.2 21.3h0m24.9 2.4h0m-42.8 14.7h0m78.9-43h0m-59 27.5h0m5.3 1.2h0m4.9 8.3h0m8-1.9h0m-68.1 77.2h0"/>
<path stroke="#DB5C00" d="M1146.8 1338.5h0m-4.2-1.8h0m71.1-59.2h0m-35.9 18.6h0m-4.5 25.2h0m-4.4 8.6h0m45-50.2h0m0.1 7.2h0m-10.5-1.5h0m-4 14.9h0m6.9-16.3h0m-54.1 64.4h0m8.3-27.9h0m7.9 5.6h0m-12 2.4h0m47.6-34.1h0m-2.5-6.5h0m-9.8 16.7h0m-42.4 41.9h0m31.3-32.9h0m27.1-29.5h0m-7.9 20.7h0m-10.8 8.8h0m-8.9-3h0m28.9-17.7h0m-9.6 4.6h0m-91.6 97.3h0"/>
<path stroke="#00A070" d="M1185.9 1296.1h0m-26.2 23.7h0m-15.3 2.9h0m26.4-21.4h0m-107.2 138.6h0m141.5-146.7h0m-27.5 36.5h0m-26.8-1.1h0m22.3-28.1h0m42-11.7h0m-43.5 39.1h0m39.2-35.1h0m-68.3 37.1h0m33.4-5.4h0m-36.6 17.8h0m55.7-50.2h0m-23.7 23h0m33.3-28.3h0m-18 9.6h0m-11.5 17.4h0m45.3-33.2h0m-24.7 10h0m-42.7 39.2h0m30.3-30.7h0m26.7-8.5h0"/>
<path stroke="#DB5C00" d="M1208.9 1291.4h0m-52.8 37.3h0m32.2-17.7h0m34-30h0m-43.5 31.2h0m-41.8 36.6h0m37.9-36.5h0m-16 0h0m32.3-15.4h0m-0.5 6.9h0m11.6 2.8h0m-85.2 57.2h0m29.9-22.1h0m9-11.2h0m-5.4-17.5h0m26.9-1.2h0m22-10.9h0m-20.5-2.6h0m-1 6h0m35.9-14.9h0m4.7-7h0m-16.2 10.3h0m5-4.9h0m-11.1 11.6h0m-21.5 5.1h0m-73.7 64.6h0m69.2-60.2h0m11.9-15.6h0m4.8 14.6h0m-4.3 0.6h0m-14.1-0.6h0m5.6 26.6h0m-35.8-6h0m50.1-21.2h0m6.7-15.3h0m-57.9 58.9h0m30.1-31.7h0m40.1-37.7h0"/>
<path stroke="#00A070" d="M147 1508.4h0m38.4 94.8h0m-16.1-80.7h0m-84.3 77.1h0m73.5-44.9h0m46.3 41h0m-8.1-7.1h0"/>
<path stroke="#DB5C00" d="M226.5 1542.9h0m-3.2 9.9h0m9.8-55.4h0"/>
<path stroke="#00A070" d="M122.6 1543.8h0m-5.9-14.2h0m24.4 21.7h0"/>
<path stroke="#DB5C00" d="M234.8 1508.7h0m2.1 17.2h0m-121.3 116.7h0m50.3-110.4h0m65.3 4.3h0m-53.5-21h0m56.4 1.9h0m-55.4 0.4h0m-25.6 5h0"/>
<path stroke="#DB5C00" d="M221.3 1495.5h0m0-16.4h0m-40 23.8h0m-11.2 52.1h0m70.5-25h0"/>
<path stroke="#00A070" d="M188.5 1569.3h0m29-13.8h0m-60.8 23.8h0m46.1-77.2h0m9.7 78.5h0"/>
<path stroke="#DB5C00" d="M206.9 1575.1h0m12.5-24.1h0m-52.2 0h0m11.7-47.6h0m25.9-8.9h0m-31.3 101.2h0m55.9-63.7h0m-3.2-23.3h0m-26.6 73.7h0m-24.1-30h0m63.6-35.5h0m-15.8 30.4h0m-48.7 33.1h0"/>
<path stroke="#00A070" d="M122.6 1550.5h0m-14-9.3h0m55.8-0.4h0"/>
<path stroke="#DB5C00" d="M176.2 1491.6h0m-0.6 27.8h0m11.2 47.7h0m24.2-77.8h0m-35 31.3h0m46.1 21h0m-58.9 15.5h0"/>
<path stroke="#00A070" d="M178.4 1564.2h0m19.4-64.9h0m-44.7 26.8h0m32.1-24.4h0m-3.3 15.6h0m-50.1 3.5h0"/>
<path stroke="#DB5C00" d="M204.1 1490.9h0m-21.1 67.3h0m45.8-7.4h0m6.2-35.4h0m-53.9 35h0m53.4-7.8h0m-45.2 17.7h0m44.6-19.4h0m-36.3 37.3h0"/>
<path stroke="#00A070" d="M214.8 1553h0m-33.4-41.9h0m-21.2-1.9h0m-86.2 125h0"/>
<path stroke="#DB5C00" d="M164.8 1537.4h0m64.7-14.2h0m-59.7 26.4h0m61.4-27.3h0m3.7 4h0m-56.5 7.8h0m30-33h0m-35.2 52h0m-8.7-38.3h0m17.8-0.3h0"/>
<path stroke="#00A070" d="M174.8 1568.8h0m-6.2-34.3h0m-51.9-14.2h0m36.7 64.4h0m-69.1-5.9h0m95.6-5.1h0m13.4-6.6h0m-34.5-54.2h0"/>
<path stroke="#DB5C00" d="M200.2 1476.6h0m23.3 23.9h0m9.8 30.5h0m-22.8 47h0m13.7-49.7h0m-29.4 44.8h0m-5-62.3h0m-21.9 25.7h0m-52.3 68.5h0m61.5-76.9h0m1.6 53.6h0m28.3-85h0m16.3 33.9h0m15.1-18.4h0m-23-21.3h0"/>
<path stroke="#00A070" d="M185 1551.2h0m36.9-16h0m-25.7 50.3h0m18.1-24.7h0m-47.4 44.2h0m9.7-80.8h0m-7.7 3.5h0m50.7-34h0m-8.3 75.7h0"/>
<path stroke="#DB5C00" d="M219.2 1530.3h0m-29.5 30h0m26.4-2.4h0m-35.4-37.3h0m4.7 68.4h0m46.6-44.7h0m-41.3 33.6h0m13.1-3.7h0m-23.7-18.2h0m-5.1 0h0m39.4-61.5h0m17.2 38.2h0m-20.5 50.7h0m-23.3-82.7h0m-8.2 37.6h0m12.9 20.6h0m-18.5-30.1h0m-19.6 14.9h0m43.8 20h0m1-59.5h0m16.2 29.2h0"/>
<path stroke="#00A070" d="M215.5 1551.1h0m-12.7 18h0m15.6 14.6h0m-40.2-40.5h0m-41.7 40.5h0m-3.5-51h0m37.6-12.6h0m9.8 20.3h0m15-37h0m16.5-17.2h0"/>
<path stroke="#DB5C00" d="M228 1520h0m-65.1 5.8h0m17.3-2.9h0m7.5-20.7h0m16.1 67.4h0m-40.6-44.5h0m43.4 27.7h0m-37.4-15.1h0m30.3-29.7h0m-13.5-16.3h0m-28.9 28.5h0m63 22.1h0m-33.9 36.4h0m-1.3-44h0m25.2 28.1h0m-5.9-6.8h0m-0.3 14h0m5.6-68.1h0m-20 16.9h0"/>
<path stroke="#00A070" d="M182.4 1565h0m28.1-12.1h0m6.5-6.9h0m-32.3-23.8h0m22.7-14.5h0m-22.2 34.8h0m32.7-45.3h0m1.1 6.1h0m-16 59.4h0m-0.3-17h0m5.1-40.9h0m-12.8-7.8h0m-25.4 48h0m-69.1 11.2h0m69.8-41.4h0m12.7 14h0m20.8 13.2h0m9.9-45.7h0m-10.4 19.1h0m3.9 33h0m-26.3-26.2h0m-32.4 82.8h0"/>
<path stroke="#DB5C00" d="M187.2 1541.7h0m-27.3 24.5h0m67.3-48.3h0m-10.7-16.7h0m-33.7 29.8h0m2.1 0.9h0m23.5 28.2h0m-12.6-56h0m1.6 47.5h0m-29 10.3h0m64.3-49.5h0m-17.3 35.4h0m-20.6-32h0m24.8 1.2h0m-0.2 51.8h0m-53.3 2.4h0m29-21.4h0m-12.8-4.8h0m-20.8-17.1h0m29.9 6h0m18.9 6.2h0m-11.2-23.2h0m7.2 21.2h0m-0.8-7.5h0m-43.9 26.6h0m52.2-55.6h0m0.1 6.6h0m12.2 51h0m-73.2 38.7h0m36-98.9h0"/>
<path stroke="#00A070" d="M207.3 1514.1h0m9.5 22.2h0m-3.1-12.7h0m5.3-6.3h0m-24.1 29.7h0m-0.5 65.9h0m22.4-71.8h0m2.1-37.5h0m-17.1 56.1h0m-21.2 5.4h0m19.6-23.2h0m0.2-5h0m11.6-18.5h0m-19.4-8.5h0m-15.3 30.4h0m45.2-17.1h0m-28.7-32.3h0m17.9 29.3h0m1.9 29.3h0m-21.9-21.7h0m22-13.2h0m-41.1 51.1h0m38.1-0.8h0m-7.1-44.3h0m6.6 16.1h0m7.8-24.1h0m-7.1-0.1h0m2.7 24.8h0m8.3-41.2h0m-10.2 29.5h0m2.2 5h0m-28.3 19.3h0m15.2-25.1h0m-47.9 1.3h0"/>
<path stroke="#DB5C00" d="M219.8 1527.4h0m-27.7-7.1h0m19.8 27.8h0m-16.8-59.6h0m2.6 34.2h0m-8.3 42.4h0m2.7-1.3h0m5.9 8.3h0m26.5-62.7h0m8.3 30h0m-21.5-27h0m-30.7 73.5h0m12.5-30.6h0m-1.4-27h0m38.5-20.1h0m-7.6 29.2h0m-28.7 1.1h0m-12-29.6h0m14.5-2.3h0m-6.5 35h0m46.2-14.3h0m-23.5-24.3h0m-8.3 18h0m6.8-4.3h0m-4.6 11.1h0m-5.5 4.4h0m-51.8 56.4h0m61.2-54.3h0m-5.6-10h0m-12.7-11.3h0m25.3-2.7h0m-0.6 34.2h0m-25.7-3.2h0m-18.4 3h0m18.7-13.7h0m3.6-1.6h0m-20.7 46.6h0m-3.2-12.8h0m26.1-69.5h0"/>
<path stroke="#00A070" d="M353.4 1508.4h0m45.1 94.8h0m-18.2-80.7h0m-90.6 77.1h0m77.4-44.9h0m67.6-15.9h0m-16.8 56.9h0m18.1-77.5h0m0.8-1.3h0m-21.6 71.7h0m-34.3-60.2h0"/>
<path stroke="#DB5C00" d="M417.6 1489.4h0m-40.3 20.2h0m51.3 60.8h0"/>
<path stroke="#00A070" d="M330.6 1543.8h0m-8.5-14.2h0m25.5 21.7h0m20.5-26.2h0m44.7 49.3h0m21.8-28.9h0m1.8-39.8h0"/>
<path stroke="#DB5C00" d="M303.6 1642.6h0m80.9-110.4h0m12.7 23.3h0m37.9-59.5h0m-44.4 73.5h0"/>
<path stroke="#00A070" d="M382.6 1552.3h0m52.4-44.5h0"/>
<path stroke="#DB5C00" d="M434.9 1495.5h0m0.5-16.4h0m-57.5 42.4h0"/>
<path stroke="#00A070" d="M402.9 1569.3h0m29.9-13.8h0m-53.7 23.8h0m3.9-55.7h0m54.1 5.6h0m-7.8 51.4h0"/>
<path stroke="#DB5C00" d="M413.9 1575.1h0m-43.3-24.1h0m12.5 44.7h0m19.2-94.7h0m12.7 81.4h0m1.5-2h0m17.6-14.4h0"/>
<path stroke="#00A070" d="M327.9 1550.5h0m-15.5-9.3h0m62-0.4h0m64.3-29h0"/>
<path stroke="#DB5C00" d="M389.5 1535h0m-10 0.7h0m23.6-44.1h0m16.3-2.3h0m-13.7 67.8h0m-9.3 4.9h0"/>
<path stroke="#00A070" d="M407.8 1552.9h0m28.5-16.4h0m-32.1-34.8h0m-5.4 15.6h0m-58.3 3.5h0"/>
<path stroke="#DB5C00" d="M377.1 1522.9h0m61.1-7.5h0m-45.9 35h0m-1.2-19.3h0m-1.1 29.2h0m23.1-3h0m-10.7 20.9h0"/>
<path stroke="#00A070" d="M432.9 1516.4h0m-36.5-5.3h0m30.6 54.7h0m-52.3-56.6h0m58.4 9.5h0m-161.2 115.5h0"/>
<path stroke="#DB5C00" d="M382.3 1537.4h0m56.2-9.6h0m-55.4-16.1h0m26.5 41.4h0m-7.5-38.6h0"/>
<path stroke="#00A070" d="M381.3 1568.8h0m30.9-14.8h0m-39.5-19.5h0m-52.9-14.2h0m44 64.4h0m70.3-45.9h0m-150.6 40h0m111.2-5.1h0m-3.7-47.7h0m-23.7-13.1h0"/>
<path stroke="#DB5C00" d="M428.2 1476.6h0m8 33.2h0m-4.4 46.4h0m4.1-30.3h0m-12.5 52.1h0m-26.9-4.9h0m-87.8 31.9h0m83-76.9h0m25.5 26.9h0m-33.6 26.7h0m35.8-85h0m1.1 55.8h0m8.4-61.6h0"/>
<path stroke="#00A070" d="M436 1535.2h0m-13.7 17.7h0m-13.5 32.6h0m26.6-74.5h0m-6.9 49.8h0m4.4-22.8h0m-55.2 67h0m-1.7-77.3h0m58.6-34h0m-6.2 75.7h0"/>
<path stroke="#DB5C00" d="M424.8 1557.9h0m-24.8-37.3h0m2.3-9.8h0m-7.6 78.2h0m8.3-33.6h0m29.7-40.8h0m2.4 29.7h0m-35.7 33.6h0m8.6-3.7h0m-8.1-18.2h0m-1.8 0h0m16.7-61.5h0m-21.6 88.9h0m5.7-62.3h0m24.3-20.4h0m-17.7-1h0m-23.6 44h0m12.4-6.7h0m10 26.7h0"/>
<path stroke="#00A070" d="M431.4 1551.1h0m2.3 32.6h0m-51.4-40.5h0m-41.2 40.5h0m61.2-38.6h0m-66.7-12.4h0m40.2-12.6h0m45 36.4h0m-25.7-16.1h0m12.6-37h0m18.4-17.2h0"/>
<path stroke="#DB5C00" d="M432.9 1520h0m-25.4 5.8h0m-13.5 24.3h0m-13.2-27.2h0m36.1-20.7h0m6.6 67.4h0m-24.6-44.5h0m26.7 27.7h0m-16.7-44.8h0m10.5-16.3h0m-28.1 28.5h0m27.9 41.1h0m-49.3 17.4h0m36.6-44.8h0m-17 12h0m25.5 16.9h0m-17.6-6.8h0m19.3 14h0"/>
<path stroke="#00A070" d="M400.1 1565h0m26.3-12.1h0m5.5-6.9h0m-0.2-2.4h0m-23.8-21.4h0m4.9 40.5h0m3.6-26.3h0m-3.6-39.4h0m-33.4 48h0m-72.3 11.2h0m66.3-41.4h0m24 14h0m20.9 13.2h0m10.6-45.7h0m-6.6 52.1h0m-24.7-26.2h0m-50.6 82.8h0"/>
<path stroke="#DB5C00" d="M422.6 1541.7h0m-23.6 24.5h0m29.4-65h0m-29.7 36.8h0m20.2-6.1h0m3 28.2h0m-1.4-56h0m-12.3 47.5h0m-11.4 10.3h0m32.6-14.1h0m-6.3-39.2h0m-9.6 8.4h0m13.8 51.8h0m-17.5 2.4h0m-3.2-21.4h0m-10.8-4.8h0m40-18.2h0m-26.7 7.1h0m-2.7 6.2h0m26.3-7.5h0m-18.5 24.6h0m17.9-29.9h0m-7.4-25.7h0m-24.6 6.6h0m24.1 51h0m-58.1 38.7h0m43.5-98.9h0"/>
<path stroke="#00A070" d="M430.2 1536.3h0m1.6-19h0m-18 29.7h0m-7.5 65.9h0m25.7-71.8h0m1.9-37.5h0m-16.3 56.1h0m-19.1 5.4h0m18.1-23.2h0m-2.4-5h0m15.1-18.5h0m-19.9-8.5h0m-22 30.4h0m47.2-17.1h0m-22.3-32.3h0m15.9 29.3h0m0.4 29.3h0m-17.7-21.7h0m15.5-13.2h0m-49.8 51.1h0m49.5-0.8h0m-11-44.3h0m19-8h0m-8.7-0.1h0m0.7 24.8h0m8.6-41.2h0m-8.9 29.5h0m3.5 5h0m-21.3 19.3h0m4.5-25.1h0m-52.6 1.3h0"/>
<path stroke="#DB5C00" d="M408.6 1520.3h0m-5.5 27.8h0m20.7-59.6h0m2.3 34.2h0m-18.1 42.4h0m0.7-1.3h0m9 8.3h0m-0.4-62.7h0m9.3 30h0m-10-27h0m0.3 73.5h0m-33.9-30.6h0m29.5-27h0m21.6-20.1h0m-5.9 29.2h0m-16.6 1.1h0m-4.2-29.6h0m0.7-2.3h0m-2.6 35h0m18-14.3h0m3.1-24.3h0m-7.1 18h0m1.4-4.3h0m-22.3 11.1h0m16 4.4h0m-58.5 56.4h0m68.8-54.3h0m-1.1-10h0m-18.3-11.3h0m23.1-2.7h0m-5.8 34.2h0m-34.4-3.2h0m19.2 3h0m-5.7-13.7h0m14.8-1.6h0m-11 46.6h0m19-12.8h0m-2-69.5h0"/>
<path stroke="#00A070" d="M508.6 1603.2h0m-18.4-3.6h0m28.5-3.9h0m-13-7.1h0"/>
<path stroke="#DB5C00" d="M552.9 1489.4h0m-47.6 70.6h0m-11.1-1.7h0m101.2-26.7h0m10.5 0.9h0m8.7-9.5h0m-31.7 29.8h0m-29.6-53.4h0m51.4-2h0"/>
<path stroke="#00A070" d="M565.4 1501.9h0m-61.5 54.2h0m37.4 17.3h0m-10.5 1h0m-25.6-80.8h0"/>
<path stroke="#DB5C00" d="M596.2 1519h0m7.8-10.3h0m2.5 17.2h0m-24.6-7.9h0m-111 124.6h0m18.4-127.1h0m79.7 27.1h0m-71.7-39.4h0m99.3 14.2h0m-40.5-21.4h0m-56.8 21.8h0m108.7 29.5h0m-134.6-24.5h0m8.3 46.7h0"/>
<path stroke="#00A070" d="M563.6 1538.2h0m-41.6-42.1h0m24 68.7h0m-35.5-12.4h0"/>
<path stroke="#DB5C00" d="M552.6 1499.7h0m30.7 31.5h0m-27.9-52.1h0m-57.7 23.8h0m5.5 67h0m-13.9-14.9h0m93.1 1.5h0m-9.5-6.7h0m59.9-19.8h0m-26.7-14.6h0m5.5 2.4h0m-123.1 22.9h0"/>
<path stroke="#00A070" d="M483.9 1579.3h0m30.8 1.3h0"/>
<path stroke="#DB5C00" d="M559.7 1575.1h0m-23-5.4h0m47.8-18.7h0m-101.8-47.6h0m58.5-8.9h0m-69.1 101.2h0m107.9-63.1h0m26.8-0.6h0m-33.6-23.3h0m-29.6 73.7h0m-64.2-56.1h0m111.4 4.3h0m10.8-13.7h0m-6.8 30.4h0m-101.7 33.1h0m2.1-14.4h0"/>
<path stroke="#00A070" d="M550.7 1562.6h0m-1.9-5.2h0m-45.3-4.2h0m-4.2-2.7h0"/>
<path stroke="#DB5C00" d="M578.3 1535h0m-1.1-23h0m-81.2-1.1h0m120.2 13.7h0m-119.6-14.8h0m0.4-18.2h0m-7.3 27.8h0m38.7-30.1h0m53.4 28.5h0m-89.8 31.8h0m-7-29h0m14.5-18.2h0m84.9 39.2h0m-70.2 8.7h0m-13.6 4.4h0m-18.7 2.4h0"/>
<path stroke="#00A070" d="M507.5 1550.8h0m-8.2 13.4h0m49.3-64.9h0m-40.3 65.4h0m47.1-13.8h0m-44-49.2h0m18.6 66h0m-17.2-20h0m51-26h0"/>
<path stroke="#DB5C00" d="M526.8 1490.9h0m-24.6 67.3h0m66.6-7.4h0m-21.6-2.4h0m48.1-23h0m-5.6 17.2h0m5.4-42.4h0m-109.7 29.3h0m61.5 12.6h0m-32.8 18.2h0m96.8-19.4h0m-62.9 16.4h0m-25.2 20.7h0m-23.2-60.3h0m16.6 60.5h0"/>
<path stroke="#00A070" d="M513.3 1572.2h0m16.8-6.4h0m-39-34.3h0m-0.7-22.3h0m70.6 9.5h0m-86.7 115.5h0"/>
<path stroke="#DB5C00" d="M484.5 1537.4h0m87.1-14.2h0m-88.5 26.4h0m69.8-5.1h0m-8.2 8.5h0m40-30.7h0m28.1 4h0m-108.3-16.2h0m-21.2 24h0m49.5-33h0m-15.7 54.7h0m-26-2.7h0m-9.3-38.3h0m90.8-6h0m7.1 35.5h0m-15-26.3h0m-45.5 24.8h0m84.6-25.4h0"/>
<path stroke="#00A070" d="M507 1517.3h0m4.7 3h0m-23.5 64.4h0m24.9-17.2h0m47.1-28.7h0m-56.4 40h0m18-5.1h0m-2.7-6.6h0m5.5-22.2h0m43.9-17.4h0m-64.9-14.6h0m63.9-8h0m-23.2 50.4h0"/>
<path stroke="#DB5C00" d="M521.6 1476.6h0m71.4 23.9h0m-72.8 55.7h0m53.6-41.8h0m-13.8 46.8h0m41.6-30.2h0m-75.8 47h0m69.8-49.7h0m-65.8 44.8h0m38.5-58.1h0m-60.1 10.1h0m-36.6 79.9h0m80.7-70.3h0m-41.7 47h0m57.2-55.3h0m-28.6-29.7h0m-44.1 55.8h0m132.2-40.3h0m-80.2-21.3h0"/>
<path stroke="#00A070" d="M524 1551.2h0m9.7 1.7h0m1.9 32.6h0m-22.1-24.5h0m48.1-22.1h0m-54.5 8.1h0m20.6-46.1h0m-25.7 43h0m24.9 16h0m16.1 0.9h0m-39.4 44.2h0m11.2-46.1h0m-21.8-34.7h0m41.8-30.5h0m-26.6 55.1h0m-2.9 20.6h0"/>
<path stroke="#DB5C00" d="M564.4 1530.3h0m-16.3-2.7h0m-32.6 32.7h0m35.4-2.4h0m-50.7-37.3h0m-16.6 68.4h0m51.5-33.6h0m48.8-11.1h0m-90.3 33.6h0m63.2-3.7h0m-62.9-18.2h0m-8.7 0h0m72-61.5h0m13 38.2h0m8.7 50.7h0m-90.6-82.7h0m13.3 37.6h0m14 20.6h0m-20.6-20.5h0m-0.1-9.6h0m-19.4 14.9h0m98.8-6.7h0m-5.6 26.7h0m-32.9-57.6h0m-27.8-1.9h0m80.5 29.2h0"/>
<path stroke="#00A070" d="M524.9 1551.1h0m3-15.8h0m23.3-8.7h0m-35.9 42.5h0m14.6 14.6h0m-3.6-84.8h0m-18.3 2.6h0m37.4 34.3h0m-42.7-11.7h0m5.7 59.6h0m24-62.3h0m-6.2 23.7h0m13.3-23.6h0m-38.2 35h0m44.1-53.1h0m-2.9 38.5h0m-14.8-21.6h0m0.8-14h0m15.8-20.1h0"/>
<path stroke="#DB5C00" d="M485.3 1523.1h0m103.5-3.1h0m-99 5.8h0m54.4 24.3h0m-17.7-28.6h0m-25.2 1.4h0m77.4 0.5h0m-78.3 20.1h0m7.3-41.3h0m68.1 35.4h0m-49.7 32h0m-51.2-44.5h0m59.8 27.7h0m-42.1-15.1h0m6.3-11.2h0m11.6-18.5h0m-15.9-16.3h0m-14.9 28.5h0m54.4 41.1h0m-23.3-20.8h0m15.3-1h0m75.7 2.8h0m-97.4 36.4h0m43.2-51.7h0m9-0.3h0m-16.1 7.2h0m-28.2-21.7h0m15.2 33.7h0m-32.8-11.2h0m73.1 28.1h0m-24-6.8h0m18.1-46.3h0m-12.4 60.3h0m-28.8-68.1h0"/>
<path stroke="#00A070" d="M512.6 1565h0m12.9-12.1h0m14.4-36.3h0m-11.6 8.7h0m-32.5-3.1h0m18.1-14.5h0m-11 34.8h0m56.4-45.3h0m2.3 6.1h0m-3.1 59.4h0m-16-17h0m-11.1-40.9h0m-24 31.6h0m5.2-39.4h0m-3 48h0m-8.1 11.2h0m30.9-41.4h0m0.9 27.2h0m-6.4-15.4h0m10.5-30.3h0m3.9 19.1h0m-12.3 33h0m-15.6-26.2h0m25.6-14.5h0m-40.4 97.3h0"/>
<path stroke="#DB5C00" d="M515.7 1541.7h0m-35.2 24.5h0m98.7-48.3h0m-21.9-16.7h0m-17.3 36.8h0m-25.6-7h0m35.7-5.2h0m-49.5 6.1h0m34.5 28.2h0m-14.5-56h0m21.1 47.5h0m-56.1 10.3h0m139.9-49.5h0m-81 35.4h0m-29.1-32h0m73.4-7.2h0m9.8 8.4h0m-23 51.8h0m-94.9 2.4h0m35.7-21.4h0m-2.9-4.8h0m-24.4-17.1h0m61.3-4.3h0m-48.8-3.8h0m23.1 7h0m2.2 7.1h0m25.2 6.2h0m-1.3-23.2h0m9.3 21.2h0m-40.7-5.5h0m-15.9-2h0m-19.5 26.6h0m33.1-29.9h0m33.6-25.7h0m30.5 25.2h0m-23.7-18.6h0m37.2 51h0m-116.1 38.7h0m48.6-98.9h0"/>
<path stroke="#00A070" d="M519.7 1514.1h0m32 22.2h0m-56.8-12.7h0m65.3-6.3h0m-49.7 29.7h0m1.1 65.9h0m23.4-71.8h0m1.2-37.5h0m-13.5 56.1h0m-7.6 5.4h0m-0.4-23.2h0m22.3-5h0m-1-11.2h0m-23.2-7.3h0m8-8.5h0m4.3 30.4h0m42.1-17.1h0m-55.7-32.3h0m9.9 29.3h0m14.8 29.3h0m-29.2-21.7h0m49.7-13.2h0m-18.1 51.1h0m-9.9-0.8h0m23.8-44.3h0m-34.6 16.1h0m2.3-24.1h0m20.7-0.1h0m16.7 24.8h0m7.5-41.2h0m-18.1 29.5h0m-13.2 5h0m-37.3 19.3h0m51.5-25.1h0m-4.4 1.3h0"/>
<path stroke="#DB5C00" d="M578.1 1527.4h0m-56.5-7.1h0m20.1 27.8h0m-28.6-59.6h0m11 34.2h0m5.8 42.4h0m-11.9-1.3h0m6 8.3h0m47.4-62.7h0m22.6 30h0m-64.2-27h0m-27.3 73.5h0m33.5-30.6h0m-14.8-27h0m28.4-20.1h0m9.2 29.2h0m-35.6 1.1h0m-38.2-29.6h0m57.5-2.3h0m-49.9 35h0m95.6-14.3h0m-40.6-24.3h0m-2.9 18h0m1.1-4.3h0m12.9 11.1h0m-30.4 4.4h0m-54 56.4h0m42.5-54.3h0m22-10h0m-11.7-11.3h0m16.4-2.7h0m18.6 34.2h0m-40.1-3.2h0m-27.4 3h0m44.1-13.7h0m-28.5-1.6h0m-21.9 46.6h0m-16-12.8h0m33-69.5h0"/>
<path stroke="#00A070" d="M736.1 1561.9h0m-68.3 41.3h0m31.8-3.6h0m117.9-60.8h0m-12.2 18.2h0m-98.9 38.7h0m19.1-7.1h0"/>
<path stroke="#DB5C00" d="M809 1489.4h0m-78.3 68.9h0m10.7 4.5h0m9-30.5h0m75.4-34.9h0"/>
<path stroke="#00A070" d="M756.4 1551.3h0m4.9 22.1h0m68.1-72.1h0m-56.3 11.9h0m60.6-7.5h0m-26.7-12.1h0"/>
<path stroke="#DB5C00" d="M771.7 1519h0m57.4-8.5h0m-153.3 132.1h0m127.9-146.6h0"/>
<path stroke="#00A070" d="M746.8 1552.3h0m-1.3 0.1h0m75.8-24.6h0m-39.9-17.6h0m-40.5 59.5h0"/>
<path stroke="#DB5C00" d="M824.4 1479.1h0m-34.5 32.5h0m18.1 35.4h0m-62.8 22.9h0m-16.1-14.9h0m32.7-20h0"/>
<path stroke="#00A070" d="M755.6 1569.3h0m15.5 3.7h0m61-52.8h0m-102.8 59.1h0m-7.8-5.5h0m31.7-51.4h0m58.2 21.3h0m-55.4 36.9h0"/>
<path stroke="#DB5C00" d="M763.5 1575.1h0m21.2-70.6h0m40.6-10h0m-113.2 101.2h0m44.9-63.1h0m33.2-31.6h0m36.3 7.7h0m-40.2 73.7h0m-50.4-42h0m19.7 23.3h0m71.8-46.8h0m-21.1 30.4h0m-51.9 33.1h0"/>
<path stroke="#00A070" d="M750.9 1542.2h0m48.6-39.8h0m-32.3 62.1h0m-33.3-35.1h0m28.7 30.2h0m3.9-2.2h0m-32.8-6.9h0"/>
<path stroke="#DB5C00" d="M808.9 1491.6h0m0.9-2.3h0m-4.8 14.7h0m-66.1 45.6h0m35.4-30.5h0"/>
<path stroke="#00A070" d="M743.1 1564.2h0m14.6-13.3h0m-16.9-2.7h0m20.8-22.1h0m21.9-13.4h0m-21.6 55h0"/>
<path stroke="#DB5C00" d="M744.8 1551.9h0m62.5 6.3h0m-7-14.6h0m-55.4-2.2h0m80.4-26h0m-5.4 27.2h0m4.4-34.2h0m-86.8 51.9h0m0.4-3h0m15.9 20.7h0m-13.9 0.2h0"/>
<path stroke="#00A070" d="M768.5 1536h0m14.9 36.2h0m23.6-6.4h0m-124.1 68.4h0"/>
<path stroke="#DB5C00" d="M739 1544.5h0m30.7-10.4h0m48.9-19.3h0m-81 22.4h0m58.5 4.5h0m-31.3-27.2h0"/>
<path stroke="#00A070" d="M758.4 1519.8h0m11.8 49h0m0-35.5h0m24 16.3h0m28-29.3h0m-102.2 64.4h0m55.5-17.2h0m6.1-59.3h0m-63.8 70.6h0m48.8-5.1h0m-27.9-36.2h0m54-24.6h0m-31.6 51.5h0"/>
<path stroke="#DB5C00" d="M823.5 1476.6h0m-32.6 79.6h0m-49.6 21.8h0m35.5-4.9h0m-89.7 31.9h0m115-50h0m-74.6 26.7h0m47.4-55.3h0m-5.4-1h0m50.3-34.5h0"/>
<path stroke="#00A070" d="M815.6 1538h0m-47.1 2h0m-24.4 45.5h0m76-74.5h0m-25.6-10.1h0m-49.9 59.9h0m62.1-22.8h0m-29.1-4.5h0m-50.2 71.5h0m53.1-46.1h0m35.7-37.3h0m-68.3 47.8h0"/>
<path stroke="#DB5C00" d="M819.1 1517.5h0m-21.6 40.4h0m-78.6 31.1h0m55.6-33.6h0m15.5-40.8h0m15.1 29.7h0m-60.6 33.6h0m36-43.3h0m-40.3 39.6h0m15.7-18.2h0m46.8-16.5h0m4.1-45h0m-72.9 88.9h0m50-24.5h0m11.2 4.8h0m-29.4-57.6h0m53.9 27.3h0m-23.5-15.2h0"/>
<path stroke="#00A070" d="M803.4 1551.1h0m-22.9-24.5h0m6.7 42.5h0m-42.7 14.6h0m61.2-82.2h0m-48.8 41.7h0m-23.8 40.5h0m59.5-62.2h0m-60.2 35h0m86.1-45.7h0m-46.4 10.9h0m40.4 20.2h0m-39.1-6.9h0m32.1-28.7h0m19.2-20.1h0"/>
<path stroke="#DB5C00" d="M782 1550.1h0m-27.5-27.2h0m71.1-20.7h0m-74.2 35.4h0m8.8 32h0m8.6-16.8h0m-16-15.1h0m60.2-46h0m-23.3 69.6h0m10.8-20.8h0m-31.3-1h0m12.9 2.8h0m-55.9 36.4h0m30-44.8h0m28.5 12h0m-8.7 16.9h0m-11.1-6.8h0m13.3 14h0m16.9-37.5h0m8.8-13.7h0"/>
<path stroke="#00A070" d="M753.7 1565h0m54.9-12.1h0m-9.1-25.5h0m-35.7 18.6h0m41.6-2.4h0m3.4-27h0m-26.9 8.7h0m11.8-17.6h0m-29.3 34.8h0m40.8-45.3h0m-57.4 65.5h0m9.9-17h0m-0.6-9.3h0m-2.5-14.1h0m22.4-25.3h0m42 13.4h0m-77.5 34.6h0m-4.4 11.2h0m44.3-27.4h0m-17.8-2.2h0m55.6-30.3h0m-38.3 19.1h0m12.4-13.2h0m-12.7 46.2h0m-0.1-26.2h0m24.3-14.5h0m-21.2 23.4h0m-73.2 73.9h0"/>
<path stroke="#DB5C00" d="M765.2 1541.7h0m-9.9 24.5h0m33.5-48.3h0m33-16.7h0m-22.4 36.8h0m24.4-12.2h0m-16.3 6.1h0m-36.8 28.2h0m51.2-56h0m-37.1 47.5h0m5.7 10.3h0m26.3-49.5h0m-25.5 35.4h0m21.1-32h0m-4.9-7.2h0m10.9 8.4h0m-25.8 51.8h0m-45.4 2.4h0m26-26.2h0m-6.4-17.1h0m34-1.1h0m11.4 7.1h0m-55 6.2h0m34.1-23.2h0m24.8 15.7h0m-12.8-2h0m-11.9 26.6h0m21.9-55.6h0m-10.1 6.6h0m-29.5 51h0m-66.1 38.7h0m100.8-98.9h0"/>
<path stroke="#00A070" d="M802.2 1514.1h0m-23.1 22.2h0m17.8-12.7h0m-18.2-6.3h0m14.1 29.7h0m-126.1 65.9h0m129.7-71.8h0m18.3-37.5h0m-37.7 56.1h0m8.3 5.4h0m-18.7-23.2h0m26.6-5h0m24.7-18.5h0m-48.1 21.9h0m17.6-17.1h0m24.4-32.3h0m2.5 29.3h0m-55.4 29.3h0m26.4-21.7h0m29.3-13.2h0m-18.2 51.1h0m-51.8-0.8h0m64.8-44.3h0m-26.5 16.1h0m31.6-24.1h0m-9.8-0.1h0m-18.3 24.8h0m36.8-41.2h0m-16.4 29.5h0m9.6 5h0m-45.5 19.3h0m27.6-25.1h0"/>
<path stroke="#DB5C00" d="M813.8 1527.4h0m-47.7-7.1h0m26.2 27.8h0m34.2-59.6h0m-35.5 34.2h0m-44.9 42.4h0m39.9-1.3h0m-9.7 8.3h0m28.9-62.7h0m-4.2 30h0m2.7-27h0m-74.1 73.5h0m22.3-30.6h0m15-27h0m41.7-20.1h0m-31.4 29.2h0m9 1.1h0m15.5-29.6h0m-3.3-2.3h0m-7.2 35h0m24.7-14.3h0m6-24.3h0m-10.7 18h0m2.8-4.3h0m-11.6 11.1h0m-9.2 4.4h0m-77.7 56.4h0m72.6-54.3h0m14.1-10h0m-5.3-11.3h0m-2.4-2.7h0m-7.4 34.2h0m-14.8-3.2h0m-13.6 3h0m34.1-13.7h0m16-1.6h0m-65 46.6h0m36.2-12.8h0m39.3-69.5h0"/>
<path stroke="#00A070" d="M983.6 1508.4h0m-81.1 94.8h0m-31.3-3.6h0m140.1-60.8h0m-99.6 56.9h0m40.1-32.7h0m-6.3-3.8h0m-23.6 29.4h0"/>
<path stroke="#DB5C00" d="M1013.3 1489.4h0m-44.1 36.6h0m-33.5 36.8h0m94.9-65.4h0"/>
<path stroke="#00A070" d="M926.5 1551.3h0m-2.5 22.1h0m57.9 1h0m44.7-68.7h0"/>
<path stroke="#DB5C00" d="M1023.9 1511.2h0m-159 131.4h0m71-95.3h0m19.7 22.2h0"/>
<path stroke="#DB5C00" d="M1008.1 1479.1h0m15.3 32h0"/>
<path stroke="#00A070" d="M966 1569.3h0m16.5 3.7h0m-17.3 6.3h0m-10.6-5.5h0m16.5-51.4h0m-17.5 35.9h0m10.3 22.3h0"/>
<path stroke="#DB5C00" d="M956.1 1575.1h0m-19.1-5.4h0m-19.7 26h0m15.5-13.3h0m42.4-69.1h0m53.9-10.2h0m-14.1 23.8h0m-62.9 53.5h0"/>
<path stroke="#00A070" d="M1001.5 1544.9h0m-42.1-3.2h0m53.8-19.3h0m10.5-1.8h0m-63.3 29.9h0"/>
<path stroke="#DB5C00" d="M955.2 1535h0m44.2-43.4h0m-67.5 75.5h0m79.5-77.8h0m-45.3 63.3h0m31.3 2.1h0"/>
<path stroke="#00A070" d="M979.4 1519.2h0m-31.4 31.7h0m28.2-24.8h0m6.6-8.8h0m-15.3 16.1h0m-30.1 26.4h0"/>
<path stroke="#DB5C00" d="M999.6 1542.2h0m5.9-3.1h0m15.9-38.9h0m-59.9 37.3h0m-8.5 19.8h0m-15.2 20.7h0m34.6 0.2h0m-5.3-34.3h0"/>
<path stroke="#00A070" d="M997.9 1562.9h0m-12.3 9.3h0m-105.6 62h0m67.9-91.8h0"/>
<path stroke="#DB5C00" d="M1013.4 1527.8h0m-59.3 16.7h0m69.7-43.4h0m-35.9 10.6h0"/>
<path stroke="#00A070" d="M1021.2 1508.7h0m-64 76h0m-49.9-5.9h0m29.6-5.1h0m41.6-6.6h0m25.6-34.2h0m-66.7 31.5h0"/>
<path stroke="#DB5C00" d="M1029.4 1476.6h0m-8.8 33.2h0m-62.5 68.2h0m12.4-4.9h0m-67.6 31.9h0m48.7-50h0m-2.6 26.7h0m10.5-47.9h0m37.2-37.1h0m-3.9 55.8h0m28-61.6h0"/>
<path stroke="#00A070" d="M971.2 1585.5h0m48.7-74.5h0m5.6-10.1h0m-69.9 59h0m2.9 0.9h0m-46.8 44.2h0m97.3-111.3h0m4.5 27.9h0m-32.4 47.8h0"/>
<path stroke="#DB5C00" d="M996.2 1547.5h0m19.3-30h0m-29.7 42.8h0m-57.5 28.7h0m53.6-33.6h0m-8.8 22.5h0m4.6-3.7h0m0.4-18.2h0m-13.1 0h0m39.6-61.5h0m-76.3 88.9h0m60.9-24.5h0m6.7-15.2h0m-34.6-6.7h0m-7.6 26.7h0"/>
<path stroke="#00A070" d="M988.8 1551.1h0m-23.7-15.8h0m45.8-8.7h0m-36.4 1.9h0m10.4 40.6h0m-34.9 14.6h0m69-84.8h0m-95.8 84.8h0m72.2-74.7h0m16.4 12.5h0m-49.2 35h0m4.9-16.1h0m14.5-21.6h0m31.6-15.4h0m-8.4 26.6h0m-20.8 5h0m43.7-48.8h0"/>
<path stroke="#DB5C00" d="M943.6 1550.1h0m19.1-27.2h0m4.2 19.3h0m15.4-18.8h0m-12 14.2h0m-9.6 32h0m-14.8-16.8h0m80.4-61.1h0m-88.5 87h0m57.8-66.5h0m-38 33.7h0m17.7-11.2h0m20.5 28.1h0m-22.5-6.8h0m-2.6 14h0"/>
<path stroke="#00A070" d="M1000.9 1552.9h0m-9.8-36.3h0m24.3-19.4h0m-24.6 6.1h0m-54.6 59.4h0m75.9-57.9h0m-17-7.8h0m-81.2 59.2h0m91.9-59.9h0m-8.6 19.1h0m-1.5-13.2h0m-11.1 46.2h0m-86.5 56.6h0"/>
<path stroke="#DB5C00" d="M1003.4 1541.7h0m-40.5 24.5h0m31.9-48.3h0m2.4-16.7h0m14.1 29.8h0m-9.5 0.9h0m-38.7 28.2h0m11.5-8.5h0m5 10.3h0m18.5-49.5h0m-21.7 35.4h0m11.6-32h0m25.4-7.2h0m1.9 8.4h0m-47.9 51.8h0m-39.2 2.4h0m24.8-21.4h0m14.6-4.8h0m8.7-17.1h0m10.8-4.3h0m10.7-3.8h0m1 14.1h0m-16.6 4.2h0m1.6 19.1h0m6.8-29.9h0m17.5-25.7h0m-22.9 25.2h0m-21.7 32.4h0m-49.6 38.7h0m85.2-98.9h0"/>
<path stroke="#00A070" d="M999.2 1514.1h0m-4.6 9.5h0m25.1-6.3h0m-119.4 95.6h0m95.7-71.8h0m28.7-37.5h0m-53 56.1h0m0.4 5.4h0m10-39.4h0m-26.9 14.6h0m28.1-17.1h0m46.4-32.3h0m-61.5 58.6h0m49.6-34.9h0m-50.6 51.1h0m-29-0.8h0m71-44.3h0m-24.3 16.1h0m25-24.2h0m-20.7 24.8h0m14.6-41.2h0m-15.7 29.5h0m25 5h0m-17.7 19.3h0m-4.3-25.1h0"/>
<path stroke="#DB5C00" d="M977.2 1520.3h0m10.2 27.8h0m37.6-59.6h0m-24.8 34.2h0m-30.2 42.4h0m9.3-1.3h0m-21.4 8.3h0m48.8-62.7h0m-2.3 30h0m-4.3-27h0m-63.4 73.5h0m19.6-30.6h0m25.2-27h0m37.8-20.1h0m-27.3 29.2h0m-17.4 1.1h0m12.3-29.6h0m15.3-2.3h0m-21.4 35h0m20.3-14.3h0m5.5-24.3h0m1.2 18h0m-9.3-4.3h0m-9.4 11.1h0m10.2 4.4h0m-83.1 56.4h0m79-54.3h0m0.5-10h0m7.7-11.3h0m0.7-2.7h0m-16.2 34.2h0m-13.9-3.2h0m4 3h0m-7.6-13.7h0m35.8-1.6h0m-49.3 46.6h0m25.5-12.8h0m30.5-69.5h0"/>
<path stroke="#00A070" d="M1121 1561.9h0m-55.2 41.3h0m29.6-3.6h0m88.9-100.7h0m-92.3 96.8h0m22.9-7.1h0"/>
<path stroke="#DB5C00" d="M1204.9 1489.4h0m-87.8 68.9h0m107.5-60.9h0"/>
<path stroke="#00A070" d="M1145 1525.1h0m-7.5 4.1h0m-14.4 45.2h0m84.9-40.6h0m21.4-28.1h0m-37-12.1h0"/>
<path stroke="#DB5C00" d="M1228.4 1510.5h0m-136.4 132.1h0m98.6-146.6h0m-59 73.5h0"/>
<path stroke="#00A070" d="M1210.5 1538.2h0m5.5-10.4h0m-52.8-17.6h0"/>
<path stroke="#DB5C00" d="M1221.9 1479.1h0m-104.1 75.9h0"/>
<path stroke="#00A070" d="M1143 1569.3h0m9 3.7h0m76.3-52.8h0m-113.3 59.1h0m-6.8-5.5h0m93.8-30.1h0m-53.5 36.9h0"/>
<path stroke="#DB5C00" d="M1146.4 1575.1h0m72.4-80.6h0m-120 101.2h0m77.2-94.7h0m-10.3 81.4h0m-42.3-42h0m98.9-23.5h0m-22.9 30.4h0m-51 33.1h0"/>
<path stroke="#00A070" d="M1182.4 1502.4h0m-34.2 62.1h0m-26.7-35.1h0m11.4 21.1h0"/>
<path stroke="#DB5C00" d="M1197.2 1546.3h0m6.8-54.7h0m-69.4 75.5h0m64.6-77.8h0m-77.3 60.3h0m17 7.5h0"/>
<path stroke="#00A070" d="M1148.1 1564.2h0m17.1 0.5h0m-29.7-16.5h0m13.3-22.1h0m42-24.4h0m-34.7 11h0m-13.8 55h0m81.6-63.9h0"/>
<path stroke="#DB5C00" d="M1132.5 1551.9h0m75.2-61h0m-5.9 67.3h0m-66.8-16.8h0m84.5-26h0m-3.1 27.2h0m6.1-34.2h0m-100.7 51.9h0m3.8-3h0m15.2 20.7h0m-13.7 0.2h0m33.5-66.5h0"/>
<path stroke="#00A070" d="M1213 1539.9h0m-46.8-23.2h0m-11.1 55.5h0m52.7-6.4h0m9.4-42.5h0m-121.8 110.9h0"/>
<path stroke="#DB5C00" d="M1137 1544.5h0m75.7-34.1h0m-63.7 23.7h0m38.6-33h0m-30.7 54.7h0m61.2-41h0m-96.8 22.4h0m15.2-22.7h0"/>
<path stroke="#00A070" d="M1136.7 1519.8h0m52.3-11.1h0m-17.4 45.3h0m-3.1 11.1h0m5.3-48.3h0m-68 67.9h0m47.1-17.2h0m21.9-59.3h0m-56.7 70.6h0m23.4-5.1h0m42.2-6.6h0m-63.5-29.6h0m76.8-32.6h0m-43.4 50.4h0m14.6 9.1h0"/>
<path stroke="#DB5C00" d="M1211.5 1476.6h0m-12.3 23.9h0m-19 9.3h0m4.2 46.4h0m-46.8 21.8h0m28.1-4.9h0m3.8-62.3h0m-71.7 94.2h0m98.5-50h0m-52-20.3h0m-29.4 47h0m30.1-55.3h0m8.1-1h0m4.8 27.1h0m12.4-31.3h0m39.6-30.3h0"/>
<path stroke="#00A070" d="M1209.1 1538h0m-3.9-2.8h0m-50.3 17.7h0m-28.4 32.6h0m40.4-84.6h0m4.2 59h0m-39.4 0.9h0m80.6-54h0m-98.5 98.2h0m37.4-46.1h0m28-41.9h0m28.4-23.3h0m-71 75.7h0"/>
<path stroke="#DB5C00" d="M1189.6 1557.9h0m-13.5-37.3h0m-74.6 68.4h0m42.4-33.6h0m36.9-40.8h0m16.4 29.7h0m-67.6 33.6h0m38.6-43.3h0m-46.6 39.6h0m54.7-18.2h0m-27.9 0h0m44-61.5h0m-66.1 88.9h0m68.4-45.1h0m-30.3 20.6h0m27.3 4.8h0m-54.8-57.6h0m82.7 27.3h0"/>
<path stroke="#00A070" d="M1185.2 1551.1h0m-9.6 18h0m-49.8 14.6h0m78.2-84.8h0m-4.3 2.6h0m-62.4 41.7h0m3.6 40.5h0m54.3-74.7h0m2.2 23.7h0m-28.8-11.2h0m-3.7-1.4h0m-45.8 36.4h0m34.6-34.8h0m47.6 20.2h0m-39-9.8h0m-10 2.9h0m68.2-48.8h0"/>
<path stroke="#DB5C00" d="M1167 1525.8h0m-29.3-2.9h0m18.4 22.3h0m9.7-3h0m4.3-18.8h0m55.4-21.2h0m-93.7 35.4h0m7.6 32h0m25.3-16.8h0m-16.6-15.1h0m49.6-29.7h0m-0.3-16.3h0m-20.2 28.5h0m12.8 41.1h0m13.3-20.8h0m-47-1h0m7.1 2.8h0m-51.1 36.4h0m28.1-44.8h0m45.3 12h0m-3-11.2h0m-23.7 28.1h0m-9.2-6.8h0m43.3-46.3h0m-19.3 60.3h0m16.3-51.2h0"/>
<path stroke="#00A070" d="M1191.2 1552.9h0m-46.5-6.9h0m48.8-2.4h0m-33.5-18.3h0m12-17.6h0m-30.7 34.8h0m52.9-45.3h0m-50.6 65.5h0m9.3-17h0m62.2-25.6h0m-89.5 16.3h0m12.1-14.1h0m30.3-25.3h0m43.2 13.4h0m-79.5 34.6h0m-4.5 11.2h0m67.8-41.4h0m-39.2 14h0m24.9 13.2h0m-42.8-15.4h0m78.9-30.3h0m-59 19.1h0m27.1-13.2h0m-21.8 46.2h0m4.9-26.2h0m8 8.9h0m-68.1 73.9h0"/>
<path stroke="#DB5C00" d="M1146.8 1541.7h0m-4.2 24.5h0m35.6-48.3h0m35.5-16.7h0m-35.9 36.8h0m-4.5-7h0m48.6-5.2h0m-26.3 6.1h0m-26.7 28.2h0m45-56h0m-38.7 47.5h0m4.3 10.3h0m34.5-49.5h0m-37.3 35.4h0m2.1 21h0m-26.5 2.4h0m8.3-21.4h0m7.9-4.8h0m-12-17.1h0m45.1-8.1h0m-9.8 7h0m13.9 7.1h0m-56.3 6.2h0m31.3-23.2h0m-10.5 21.2h0m37.6-5.5h0m-7.9-2h0m-10.8 26.6h0m-8.9-29.9h0m28.9-25.7h0m-9.6 25.2h0m-12.2-18.6h0m-13.8 51h0m-65.6 38.7h0m90.6-98.9h0"/>
<path stroke="#00A070" d="M1185.9 1514.1h0m-26.2 22.2h0m24.1-12.7h0m-39.4-6.3h0m26.4 29.7h0m-107.2 65.9h0m123.3-71.8h0m18.2-37.5h0m-27.5 56.1h0m-7.9 5.4h0m-18.9-23.2h0m23.6-16.2h0m40.7-7.3h0m-34.8-8.5h0m-8.7 30.4h0m4.9-17.1h0m19-32.3h0m15.3 29.3h0m-68.3 29.3h0m33.4-21.7h0m7.6 37.9h0m-44.2-0.8h0m55.7-44.3h0m-23.7 16.1h0m33.3-24.1h0m-18-0.1h0m33.8-16.4h0m-24.7 29.5h0m11.4 5h0m-54.1 19.3h0m30.3-25.1h0m26.7 1.3h0"/>
<path stroke="#DB5C00" d="M1208.9 1527.4h0m-52.8-7.1h0m32.2 27.8h0m34-59.6h0m-43.5 34.2h0m-41.8 42.4h0m37.9-1.3h0m-16 8.3h0m32.3-62.7h0m-0.5 30h0m11.6-27h0m-85.2 73.5h0m29.9-30.6h0m9-27h0m41.5-20.1h0m-46.9 29.2h0m26.9 1.1h0m22-29.6h0m-20.5-2.3h0m-1 35h0m35.9-14.3h0m4.7-24.3h0m-16.2 18h0m5-4.3h0m-11.1 11.1h0m-21.5 4.4h0m-73.7 56.4h0m69.2-54.3h0m11.9-10h0m4.8-11.3h0m-4.3-2.7h0m-14.1 34.2h0m5.6-3.2h0m-35.8 3h0m50.1-13.7h0m6.7-1.6h0m-57.9 46.6h0m30.1-12.8h0m40.1-69.5h0"/>
<path stroke="#00A070" d="M1345.7 1561.9h0m-83 41.3h0m50.3-3.6h0m-5.3-3.9h0m25.7-7.1h0"/>
<path stroke="#DB5C00" d="M1398.9 1489.4h0m-62.3 68.9h0m16.2-26h0"/>
<path stroke="#00A070" d="M1361.2 1526.4h0m25.7 47h0m37.7-72.1h0m-66.9 73.1h0m10.6-61.2h0m49.3 16.8h0m8.5-24.3h0m-24.3-12.1h0"/>
<path stroke="#DB5C00" d="M1422.5 1510.5h0m-7 27.5h0m-144.4 104.6h0m138.2-96.7h0"/>
<path stroke="#00A070" d="M1355.6 1552.3h0m62.4-24.5h0m-36.9-17.6h0m-9.5 60.3h0m-19.3-43.2h0m33.6-20.3h0m-38.9 62.7h0"/>
<path stroke="#DB5C00" d="M1418.4 1479.1h0m-30.2 32.5h0m18.9 35.4h0m-73.7 8h0m78.4-12.1h0"/>
<path stroke="#00A070" d="M1365.2 1569.3h0m10.1 3.7h0m52.4-52.8h0m-91.9 59.1h0m-8.5-5.5h0m25.4-51.4h0m57 21.3h0"/>
<path stroke="#DB5C00" d="M1375.8 1575.1h0m2.5-70.6h0m40.9-10h0m-103.9 101.2h0m44.6-63.1h0m27.5-31.6h0m35.8 7.7h0m-22.5 73.7h0m-63.9-42h0m85.6-23.5h0m-63.2 63.5h0"/>
<path stroke="#00A070" d="M1336 1529.4h0m-5.8 21.1h0"/>
<path stroke="#DB5C00" d="M1402.9 1491.6h0m-33.6 75.5h0m36.6-77.8h0m-55 60.3h0m14.5-28.3h0m-1.5 35.8h0m5.8-38h0"/>
<path stroke="#00A070" d="M1339.8 1564.2h0m21.4-13.3h0m-17.2-2.7h0m36.4-30.9h0"/>
<path stroke="#DB5C00" d="M1349.5 1551.9h0m67.7-61h0m-10.7 67.3h0m-7.9-7.4h0m-50.8-9.4h0m71.9-26h0m-2.9 27.2h0m2.6-34.2h0m-68.8 51.9h0m0.2-3h0m18.3 20.7h0m-21.8 0.2h0"/>
<path stroke="#00A070" d="M1392.4 1572.2h0m23.5-42.5h0m2.9-6.4h0m-142.1 110.9h0"/>
<path stroke="#DB5C00" d="M1365 1549.6h0m-23-5.1h0m75.4-34.1h0m-71.4 26.8h0m26.6-22.7h0"/>
<path stroke="#00A070" d="M1361.2 1519.8h0m35.7 29.8h0m22.1-29.3h0m-92 64.4h0m49-76.5h0m-53.7 70.6h0m66.8-5.1h0m-0.2-6.6h0m-4.6-54.2h0m8 42.4h0"/>
<path stroke="#DB5C00" d="M1418.4 1476.6h0m-72.9 101.4h0m35.3-4.9h0m-101.8 31.9h0m126.7-50h0m12.8-58.3h0"/>
<path stroke="#00A070" d="M1413.1 1538h0m-32.4 14.9h0m-26.3 32.6h0m24.5-24.5h0m37.4-50h0m-25.6-10.1h0m-23 32.6h0m-43.2 71.5h0m67.3-46.1h0m-43 10.5h0"/>
<path stroke="#DB5C00" d="M1391.8 1547.5h0m24.9-30h0m-33 42.8h0m14.8-2.4h0m-72.5 31.1h0m63.1-33.6h0m-1.4-40.8h0m-33 63.3h0m0.1-3.7h0m32.4-18.2h0m-25.1 0h0m-19.6 27.4h0m45.3-24.5h0m-12.8-21.9h0m20.3 26.7h0m-27.6-57.6h0m46.4 27.3h0m-17.3-15.2h0"/>
<path stroke="#00A070" d="M1406.1 1551.1h0m-27.3-22.6h0m7.5 40.6h0m-22.8 14.6h0m-34.5 0h0m49.3-38.6h0m32.7-12.4h0m-18.1-11.2h0m-5.2-1.4h0m-45.9 36.4h0m65.3-16.1h0m7.7-29.6h0m-39.5 34.3h0m6.8-22.8h0m31.8 19.6h0m-28.8-9.8h0m12.2-11.8h0m-1.4-14h0m19.2-20.1h0"/>
<path stroke="#DB5C00" d="M1402.8 1523.1h0m-14.3 27h0m26.9-35.3h0m-49.1 30.4h0m29-21.8h0m-20.9 20.1h0m-7.2-5.9h0m8.6 32h0m-1.4-16.8h0m-23.6-15.1h0m57.9-46h0m-21.4 28.5h0m-52.6 58.5h0m21.4-44.8h0m58.8-21.7h0m-31.7 33.7h0m-4.3-11.2h0m-5.3 28.1h0m-0.5-6.8h0m31.3-46.3h0m-28.9 60.3h0m29.7-51.2h0"/>
<path stroke="#00A070" d="M1364.1 1565h0m44-12.1h0m-40.2-6.9h0m36.3-2.4h0m-22.6-21.4h0m-9.5 20.3h0m26-45.3h0m-36.4 65.5h0m-2.9-17h0m51.7-40.9h0m-41.7 31.6h0m-6.3-14.1h0m11.2-25.3h0m38.8 13.4h0m-70.7 34.6h0m14.5 11.2h0m31.5-27.4h0m-2.3 13.2h0m27.7-45.7h0m-26.9 19.1h0m4.8-13.2h0m-6 46.2h0m-8.2-26.2h0m19.6-14.5h0m-17.6 23.4h0m-75.8 73.9h0"/>
<path stroke="#DB5C00" d="M1361.4 1541.7h0m1.7 24.5h0m23.9-48.3h0m34.2-16.7h0m-18.3 36.8h0m-24.7-7h0m39.6-5.2h0m-13.3 6.1h0m-34.7 28.2h0m49.2-56h0m-32.2 47.5h0m5.4 10.3h0m19.7-49.5h0m-15.5 35.4h0m18.3-30.8h0m-16.1 51.8h0m-46.9 2.4h0m27.3-21.4h0m-5.4-4.8h0m-2.5-17.1h0m39.9-8.1h0m-3.2 14.1h0m-54.2 6.2h0m32.1-23.2h0m29 15.7h0m-28.9 24.6h0m2.9-29.9h0m17.4-25.7h0m-4.1 6.6h0m-31.4 51h0m-64.4 38.7h0m100.5-98.9h0"/>
<path stroke="#00A070" d="M1402.9 1514.1h0m-23.3 22.2h0m15.6-12.7h0m-18.4-6.3h0m21 29.7h0m-135.9 65.9h0m143.9-109.3h0m-35.8 56.1h0m21.5 5.4h0m-20.4-23.2h0m27.5-5h0m-6.6-11.2h0m18-7.3h0m-38.3 21.9h0m16.8-17.1h0m16.2-32.3h0m1.5 29.3h0m-36.4 29.3h0m5.3-21.7h0m33-13.2h0m-5.8 51.1h0m-44.7-0.8h0m26.7-28.2h0m27.8-24.1h0m-9.4-0.1h0m-17.2 24.8h0m32.6-41.2h0m-9.8 29.5h0m1.6 5h0m-40 19.3h0m30.1-25.1h0m8.4 1.3h0"/>
<path stroke="#DB5C00" d="M1371 1520.3h0m17.3 27.8h0m29.4-59.6h0m-30.6 34.2h0m-35.9 42.4h0m35.8-1.3h0m0.1 8.3h0m15.1-62.7h0m-6.8 30h0m-2.7-27h0m-56.1 73.5h0m21.6-30.6h0m11-27h0m32.6-20.1h0m-15.5 29.2h0m1.3 1.1h0m10.6-29.6h0m2.6-2.3h0m-5.9 35h0m14.6-14.3h0m6.8-24.3h0m-10.1 18h0m4.9-4.3h0m-11.4 11.1h0m-5 4.4h0m-63.4 56.4h0m59.1-54.3h0m15.3-10h0m-14.3-11.3h0m-0.6-2.7h0m0.5 34.2h0m-26-3.2h0m5.8 3h0m20.9-13.7h0m14.9-1.6h0m-57.7 46.6h0m31.1-12.8h0m36.9-69.5h0"/>
</g>
<g stroke="#000" stroke-width="2.3">
<line x1="65.9" y1="54.5" x2="65.9" y2="242.5"/>
<line x1="65.9" y1="255.7" x2="65.9" y2="443.6"/>
<line x1="65.9" y1="456.8" x2="65.9" y2="644.8"/>
<line x1="65.9" y1="658" x2="65.9" y2="846"/>
<line x1="65.9" y1="859.1" x2="65.9" y2="1047.1"/>
<line x1="65.9" y1="1060.2" x2="65.9" y2="1248.2"/>
<line x1="65.9" y1="1261.4" x2="65.9" y2="1449.4"/>
<line x1="65.9" y1="1462.5" x2="65.9" y2="1650.5"/>
<line x1="65.3" y1="1650.5" x2="250.2" y2="1650.5"/>
<line x1="264" y1="1650.5" x2="447.9" y2="1650.5"/>
<line x1="461.7" y1="1650.5" x2="645.6" y2="1650.5"/>
<line x1="659.4" y1="1650.5" x2="843.3" y2="1650.5"/>
<line x1="857.1" y1="1650.5" x2="1041" y2="1650.5"/>
<line x1="1054.8" y1="1650.5" x2="1238.7" y2="1650.5"/>
<line x1="1252.4" y1="1650.5" x2="1436.3" y2="1650.5"/>
<line x1="1450.1" y1="1650.5" x2="1634" y2="1650.5"/>
</g><g stroke="#333" stroke-width="2.3">
<line x1="89.4" y1="1650.5" x2="89.4" y2="1657"/>
<line x1="126.3" y1="1650.5" x2="126.3" y2="1657"/>
<line x1="163.2" y1="1650.5" x2="163.2" y2="1657"/>
<line x1="200.1" y1="1650.5" x2="200.1" y2="1657"/>
<line x1="237" y1="1650.5" x2="237" y2="1657"/>
<line x1="298.2" y1="1650.5" x2="298.2" y2="1657"/>
<line x1="336.8" y1="1650.5" x2="336.8" y2="1657"/>
<line x1="375.4" y1="1650.5" x2="375.4" y2="1657"/>
<line x1="414" y1="1650.5" x2="414" y2="1657"/>
<line x1="483.6" y1="1650.5" x2="483.6" y2="1657"/>
<line x1="533.7" y1="1650.5" x2="533.7" y2="1657"/>
<line x1="583.8" y1="1650.5" x2="583.8" y2="1657"/>
<line x1="633.9" y1="1650.5" x2="633.9" y2="1657"/>
<line x1="676.4" y1="1650.5" x2="676.4" y2="1657"/>
<line x1="733.1" y1="1650.5" x2="733.1" y2="1657"/>
<line x1="789.9" y1="1650.5" x2="789.9" y2="1657"/>
<line x1="876.7" y1="1650.5" x2="876.7" y2="1657"/>
<line x1="913.6" y1="1650.5" x2="913.6" y2="1657"/>
<line x1="950.5" y1="1650.5" x2="950.5" y2="1657"/>
<line x1="987.3" y1="1650.5" x2="987.3" y2="1657"/>
<line x1="1024.2" y1="1650.5" x2="1024.2" y2="1657"/>
<line x1="1060.8" y1="1650.5" x2="1060.8" y2="1657"/>
<line x1="1119.7" y1="1650.5" x2="1119.7" y2="1657"/>
<line x1="1178.6" y1="1650.5" x2="1178.6" y2="1657"/>
<line x1="1237.5" y1="1650.5" x2="1237.5" y2="1657"/>
<line x1="1274.9" y1="1650.5" x2="1274.9" y2="1657"/>
<line x1="1313" y1="1650.5" x2="1313" y2="1657"/>
<line x1="1351.2" y1="1650.5" x2="1351.2" y2="1657"/>
<line x1="1389.3" y1="1650.5" x2="1389.3" y2="1657"/>
<line x1="1427.4" y1="1650.5" x2="1427.4" y2="1657"/>
<line x1="1478.2" y1="1650.5" x2="1478.2" y2="1657"/>
<line x1="1521.7" y1="1650.5" x2="1521.7" y2="1657"/>
<line x1="1565.1" y1="1650.5" x2="1565.1" y2="1657"/>
<line x1="1608.5" y1="1650.5" x2="1608.5" y2="1657"/>
<line x1="59.4" y1="234" x2="65.9" y2="234"/>
<line x1="59.4" y1="177.2" x2="65.9" y2="177.2"/>
<line x1="59.4" y1="120.4" x2="65.9" y2="120.4"/>
<line x1="59.4" y1="63.6" x2="65.9" y2="63.6"/>
<line x1="59.4" y1="290.1" x2="65.9" y2="290.1"/>
<line x1="59.4" y1="329.5" x2="65.9" y2="329.5"/>
<line x1="59.4" y1="368.9" x2="65.9" y2="368.9"/>
<line x1="59.4" y1="408.2" x2="65.9" y2="408.2"/>
<line x1="59.4" y1="622" x2="65.9" y2="622"/>
<line x1="59.4" y1="570.9" x2="65.9" y2="570.9"/>
<line x1="59.4" y1="519.8" x2="65.9" y2="519.8"/>
<line x1="59.4" y1="468.7" x2="65.9" y2="468.7"/>
<line x1="59.4" y1="828.4" x2="65.9" y2="828.4"/>
<line x1="59.4" y1="770.5" x2="65.9" y2="770.5"/>
<line x1="59.4" y1="712.6" x2="65.9" y2="712.6"/>
<line x1="59.4" y1="1027" x2="65.9" y2="1027"/>
<line x1="59.4" y1="989.3" x2="65.9" y2="989.3"/>
<line x1="59.4" y1="951.7" x2="65.9" y2="951.7"/>
<line x1="59.4" y1="914.1" x2="65.9" y2="914.1"/>
<line x1="59.4" y1="876.5" x2="65.9" y2="876.5"/>
<line x1="59.4" y1="1242.2" x2="65.9" y2="1242.2"/>
<line x1="59.4" y1="1182.1" x2="65.9" y2="1182.1"/>
<line x1="59.4" y1="1122" x2="65.9" y2="1122"/>
<line x1="59.4" y1="1061.9" x2="65.9" y2="1061.9"/>
<line x1="59.4" y1="1426.7" x2="65.9" y2="1426.7"/>
<line x1="59.4" y1="1387.8" x2="65.9" y2="1387.8"/>
<line x1="59.4" y1="1348.9" x2="65.9" y2="1348.9"/>
<line x1="59.4" y1="1310" x2="65.9" y2="1310"/>
<line x1="59.4" y1="1271.1" x2="65.9" y2="1271.1"/>
<line x1="59.4" y1="1622.2" x2="65.9" y2="1622.2"/>
<line x1="59.4" y1="1577.9" x2="65.9" y2="1577.9"/>
<line x1="59.4" y1="1533.6" x2="65.9" y2="1533.6"/>
<line x1="59.4" y1="1489.3" x2="65.9" y2="1489.3"/>
</g>
<g font-size="20.8" fill="#4D4D4D">
<text x="89.4" y="1677.1" text-anchor="middle">-1.5</text>
<text x="126.3" y="1677.1" text-anchor="middle">-1.0</text>
<text x="163.2" y="1677.1" text-anchor="middle">-0.5</text>
<text x="200.1" y="1677.1" text-anchor="middle">0.0</text>
<text x="237" y="1677.1" text-anchor="middle">0.5</text>
<text x="298.2" y="1677.1" text-anchor="middle">-1.5</text>
<text x="336.8" y="1677.1" text-anchor="middle">-1.0</text>
<text x="375.4" y="1677.1" text-anchor="middle">-0.5</text>
<text x="414" y="1677.1" text-anchor="middle">0.0</text>
<text x="483.6" y="1677.1" text-anchor="middle">-0.5</text>
<text x="533.7" y="1677.1" text-anchor="middle">0.0</text>
<text x="583.8" y="1677.1" text-anchor="middle">0.5</text>
<text x="633.9" y="1677.1" text-anchor="middle">1.0</text>
<text x="676.4" y="1677.1" text-anchor="middle">-0.2</text>
<text x="733.1" y="1677.1" text-anchor="middle">-0.1</text>
<text x="789.9" y="1677.1" text-anchor="middle">0.0</text>
<text x="876.7" y="1677.1" text-anchor="middle">-0.03</text>
<text x="913.6" y="1677.1" text-anchor="middle">-0.02</text>
<text x="950.5" y="1677.1" text-anchor="middle">-0.01</text>
<text x="987.3" y="1677.1" text-anchor="middle">0.00</text>
<text x="1024.2" y="1677.1" text-anchor="middle">0.01</text>
<text x="1060.8" y="1677.1" text-anchor="middle">-0.10</text>
<text x="1119.7" y="1677.1" text-anchor="middle">-0.05</text>
<text x="1178.6" y="1677.1" text-anchor="middle">0.00</text>
<text x="1237.5" y="1677.1" text-anchor="middle">0.05</text>
<text x="1274.9" y="1677.1" text-anchor="middle">-0.15</text>
<text x="1313" y="1677.1" text-anchor="middle">-0.10</text>
<text x="1351.2" y="1677.1" text-anchor="middle">-0.05</text>
<text x="1389.3" y="1677.1" text-anchor="middle">0.00</text>
<text x="1427.4" y="1677.1" text-anchor="middle">0.05</text>
<text x="1478.2" y="1677.1" text-anchor="middle">-0.02</text>
<text x="1521.7" y="1677.1" text-anchor="middle">-0.01</text>
<text x="1565.1" y="1677.1" text-anchor="middle">0.00</text>
<text x="1608.5" y="1677.1" text-anchor="middle">0.01</text>
<text x="53.6" y="241.3" text-anchor="end">0</text>
<text x="53.6" y="184.5" text-anchor="end">1</text>
<text x="53.6" y="127.7" text-anchor="end">2</text>
<text x="53.6" y="70.9" text-anchor="end">3</text>
<text x="53.6" y="297.4" text-anchor="end">0.0</text>
<text x="53.6" y="336.8" text-anchor="end">-0.5</text>
<text x="53.6" y="376.2" text-anchor="end">-1.0</text>
<text x="53.6" y="415.5" text-anchor="end">-1.5</text>
<text x="53.6" y="629.3" text-anchor="end">-0.5</text>
<text x="53.6" y="578.2" text-anchor="end">0.0</text>
<text x="53.6" y="527.1" text-anchor="end">0.5</text>
<text x="53.6" y="476" text-anchor="end">1.0</text>
<text x="53.6" y="835.7" text-anchor="end">-0.2</text>
<text x="53.6" y="777.8" text-anchor="end">-0.1</text>
<text x="53.6" y="719.9" text-anchor="end">0.0</text>
<text x="53.6" y="1034.3" text-anchor="end">-0.03</text>
<text x="53.6" y="996.6" text-anchor="end">-0.02</text>
<text x="53.6" y="959" text-anchor="end">-0.01</text>
<text x="53.6" y="921.4" text-anchor="end">0.00</text>
<text x="53.6" y="883.8" text-anchor="end">0.01</text>
<text x="53.6" y="1249.5" text-anchor="end">-0.10</text>
<text x="53.6" y="1189.4" text-anchor="end">-0.05</text>
<text x="53.6" y="1129.3" text-anchor="end">0.00</text>
<text x="53.6" y="1069.2" text-anchor="end">0.05</text>
<text x="53.6" y="1434" text-anchor="end">-0.15</text>
<text x="53.6" y="1395.1" text-anchor="end">-0.10</text>
<text x="53.6" y="1356.2" text-anchor="end">-0.05</text>
<text x="53.6" y="1317.3" text-anchor="end">0.00</text>
<text x="53.6" y="1278.4" text-anchor="end">0.05</text>
<text x="53.6" y="1629.5" text-anchor="end">-0.02</text>
<text x="53.6" y="1585.2" text-anchor="end">-0.01</text>
<text x="53.6" y="1540.9" text-anchor="end">0.00</text>
<text x="53.6" y="1496.6" text-anchor="end">0.01</text>
</g>
<g font-size="26.5" text-anchor="middle">
<text x="355.9" y="89.9" fill="#666666">Corr: 0.898***</text>
<text x="355.9" y="149.7" fill="#00A070">19OR: 0.993***</text>
<text x="355.9" y="208.7" fill="#DB5C00">19TX: 0.756***</text>
<text x="553.6" y="89.9" fill="#666666">Corr: 0.680***</text>
<text x="553.6" y="149.7" fill="#00A070">19OR: 0.499***</text>
<text x="553.6" y="208.7" fill="#DB5C00">19TX: 0.867***</text>
<text x="751.3" y="89.9" fill="#666666">Corr: 0.430***</text>
<text x="751.3" y="149.7" fill="#00A070">19OR: 0.411***</text>
<text x="751.3" y="208.7" fill="#DB5C00">19TX: 0.453***</text>
<text x="949" y="89.9" fill="#666666">Corr: 0.431***</text>
<text x="949" y="149.7" fill="#00A070">19OR: 0.448***</text>
<text x="949" y="208.7" fill="#DB5C00">19TX: 0.409***</text>
<text x="1146.7" y="89.9" fill="#666666">Corr: 0.370***</text>
<text x="1146.7" y="149.7" fill="#00A070">19OR: 0.348***</text>
<text x="1146.7" y="208.7" fill="#DB5C00">19TX: 0.398***</text>
<text x="1344.4" y="89.9" fill="#666666">Corr: 0.433***</text>
<text x="1344.4" y="149.7" fill="#00A070">19OR: 0.405***</text>
<text x="1344.4" y="208.7" fill="#DB5C00">19TX: 0.468***</text>
<text x="1542.1" y="89.9" fill="#666666">Corr: 0.327***</text>
<text x="1542.1" y="149.7" fill="#00A070">19OR: 0.315***</text>
<text x="1542.1" y="208.7" fill="#DB5C00">19TX: 0.343***</text>
<text x="553.6" y="291.1" fill="#666666">Corr: 0.331***</text>
<text x="553.6" y="350.9" fill="#00A070">19OR: 0.402***</text>
<text x="553.6" y="409.9" fill="#DB5C00">19TX: 0.347***</text>
<text x="751.3" y="291.1" fill="#666666">Corr: 0.452***</text>
<text x="751.3" y="350.9" fill="#00A070">19OR: 0.400***</text>
<text x="751.3" y="409.9" fill="#DB5C00">19TX: 0.546***</text>
<text x="949" y="291.1" fill="#666666">Corr: 0.480***</text>
<text x="949" y="350.9" fill="#00A070">19OR: 0.449***</text>
<text x="949" y="409.9" fill="#DB5C00">19TX: 0.541***</text>
<text x="1146.7" y="291.1" fill="#666666">Corr: 0.378***</text>
<text x="1146.7" y="350.9" fill="#00A070">19OR: 0.334***</text>
<text x="1146.7" y="409.9" fill="#DB5C00">19TX: 0.458***</text>
<text x="1344.4" y="291.1" fill="#666666">Corr: 0.458***</text>
<text x="1344.4" y="350.9" fill="#00A070">19OR: 0.395***</text>
<text x="1344.4" y="409.9" fill="#DB5C00">19TX: 0.569***</text>
<text x="1542.1" y="291.1" fill="#666666">Corr: 0.345***</text>
<text x="1542.1" y="350.9" fill="#00A070">19OR: 0.305***</text>
<text x="1542.1" y="409.9" fill="#DB5C00">19TX: 0.416***</text>
<text x="751.3" y="492.2" fill="#666666">Corr: 0.307***</text>
<text x="751.3" y="552" fill="#00A070">19OR: 0.400***</text>
<text x="751.3" y="611" fill="#DB5C00">19TX: 0.279***</text>
<text x="949" y="492.2" fill="#666666">Corr: 0.222***</text>
<text x="949" y="552" fill="#00A070">19OR: 0.277***</text>
<text x="949" y="611" fill="#DB5C00">19TX: 0.209***</text>
<text x="1146.7" y="492.2" fill="#666666">Corr: 0.292***</text>
<text x="1146.7" y="552" fill="#00A070">19OR: 0.389***</text>
<text x="1146.7" y="611" fill="#DB5C00">19TX: 0.260***</text>
<text x="1344.4" y="492.2" fill="#666666">Corr: 0.313***</text>
<text x="1344.4" y="552" fill="#00A070">19OR: 0.404***</text>
<text x="1344.4" y="611" fill="#DB5C00">19TX: 0.286***</text>
<text x="1542.1" y="492.2" fill="#666666">Corr: 0.244***</text>
<text x="1542.1" y="552" fill="#00A070">19OR: 0.330***</text>
<text x="1542.1" y="611" fill="#DB5C00">19TX: 0.214***</text>
<text x="949" y="693.4" fill="#666666">Corr: 0.764***</text>
<text x="949" y="753.2" fill="#00A070">19OR: 0.768***</text>
<text x="949" y="812.2" fill="#DB5C00">19TX: 0.758***</text>
<text x="1146.7" y="693.4" fill="#666666">Corr: 0.969***</text>
<text x="1146.7" y="753.2" fill="#00A070">19OR: 0.970***</text>
<text x="1146.7" y="812.2" fill="#DB5C00">19TX: 0.968***</text>
<text x="1344.4" y="693.4" fill="#666666">Corr: 0.982***</text>
<text x="1344.4" y="753.2" fill="#00A070">19OR: 0.981***</text>
<text x="1344.4" y="812.2" fill="#DB5C00">19TX: 0.983***</text>
<text x="1542.1" y="693.4" fill="#666666">Corr: 0.738***</text>
<text x="1542.1" y="753.2" fill="#00A070">19OR: 0.736***</text>
<text x="1542.1" y="812.2" fill="#DB5C00">19TX: 0.743***</text>
<text x="1146.7" y="894.5" fill="#666666">Corr: 0.649***</text>
<text x="1146.7" y="954.3" fill="#00A070">19OR: 0.658***</text>
<text x="1146.7" y="1013.3" fill="#DB5C00">19TX: 0.639***</text>
<text x="1344.4" y="894.5" fill="#666666">Corr: 0.708***</text>
<text x="1344.4" y="954.3" fill="#00A070">19OR: 0.708***</text>
<text x="1344.4" y="1013.3" fill="#DB5C00">19TX: 0.709***</text>
<text x="1542.1" y="894.5" fill="#666666">Corr: 0.817***</text>
<text x="1542.1" y="954.3" fill="#00A070">19OR: 0.818***</text>
<text x="1542.1" y="1013.3" fill="#DB5C00">19TX: 0.816***</text>
<text x="1344.4" y="1095.7" fill="#666666">Corr: 0.929***</text>
<text x="1344.4" y="1155.5" fill="#00A070">19OR: 0.928***</text>
<text x="1344.4" y="1214.5" fill="#DB5C00">19TX: 0.929***</text>
<text x="1542.1" y="1095.7" fill="#666666">Corr: 0.694***</text>
<text x="1542.1" y="1155.5" fill="#00A070">19OR: 0.696***</text>
<text x="1542.1" y="1214.5" fill="#DB5C00">19TX: 0.692***</text>
<text x="1542.1" y="1296.8" fill="#666666">Corr: 0.686***</text>
<text x="1542.1" y="1356.6" fill="#00A070">19OR: 0.677***</text>
<text x="1542.1" y="1415.6" fill="#DB5C00">19TX: 0.697***</text>
</g>
</svg></body></html>
